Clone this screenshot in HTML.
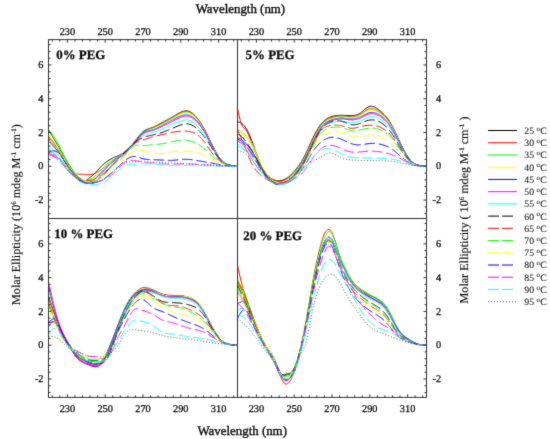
<!DOCTYPE html>
<html><head><meta charset="utf-8"><style>
html,body{margin:0;padding:0;background:#fff;}
svg{display:block;}

text{font-family:"Liberation Serif",serif;fill:#111;stroke:#111;stroke-width:0.3px;text-rendering:geometricPrecision;}
.t3{stroke-width:0.4px;}
.lg{stroke-width:0.05px;}
.yl{stroke-width:0.15px;}
</style></head><body>
<svg width="550" height="439" viewBox="0 0 550 439">
<rect width="550" height="439" fill="#fff"/>
<defs><filter id="bl" x="0" y="0" width="550" height="439" filterUnits="userSpaceOnUse"><feConvolveMatrix order="3" kernelMatrix="0.0144 0.0912 0.0144 0.0912 0.5776 0.0912 0.0144 0.0912 0.0144" edgeMode="none" preserveAlpha="false"/></filter><filter id="bt" x="0" y="0" width="550" height="439" filterUnits="userSpaceOnUse"><feConvolveMatrix order="3" kernelMatrix="0.0100 0.0800 0.0100 0.0800 0.6400 0.0800 0.0100 0.0800 0.0100" edgeMode="none" preserveAlpha="false"/></filter>
<clipPath id="cp1"><rect x="48.5" y="39.6" width="189.0" height="178.9"/></clipPath>
<clipPath id="cp2"><rect x="237.5" y="39.6" width="189.0" height="178.9"/></clipPath>
<clipPath id="cp3"><rect x="48.5" y="218.5" width="189.0" height="178.89999999999998"/></clipPath>
<clipPath id="cp4"><rect x="237.5" y="218.5" width="189.0" height="178.89999999999998"/></clipPath>
</defs><g filter="url(#bl)">
<g clip-path="url(#cp1)" fill="none" stroke-width="1">
<path d="M48.50,129.99 L49.45,131.53 L50.39,133.08 L51.34,134.63 L52.28,136.19 L53.23,137.76 L54.17,139.34 L55.12,140.94 L56.06,142.56 L57.00,144.19 L57.95,145.85 L58.89,147.53 L59.84,149.22 L60.78,150.92 L61.73,152.61 L62.67,154.30 L63.62,155.97 L64.56,157.62 L65.51,159.25 L66.45,160.85 L67.40,162.41 L68.34,163.91 L69.29,165.38 L70.23,166.82 L71.18,168.22 L72.12,169.59 L73.07,170.92 L74.02,172.23 L74.96,173.49 L75.91,174.72 L76.85,175.87 L77.80,176.95 L78.74,177.93 L79.69,178.79 L80.63,179.52 L81.57,180.10 L82.52,180.50 L83.47,180.72 L84.41,180.74 L85.35,180.58 L86.30,180.25 L87.25,179.77 L88.19,179.14 L89.13,178.37 L90.08,177.49 L91.03,176.73 L91.97,175.92 L92.91,175.05 L93.86,174.14 L94.81,173.19 L95.75,172.22 L96.69,171.23 L97.64,170.23 L98.59,169.23 L99.53,168.24 L100.47,167.27 L101.42,166.32 L102.36,165.41 L103.31,164.55 L104.25,163.73 L105.20,162.98 L106.14,162.21 L107.09,161.50 L108.03,160.84 L108.98,160.23 L109.92,159.66 L110.87,159.13 L111.81,158.63 L112.76,158.15 L113.70,157.70 L114.65,157.27 L115.59,156.85 L116.54,156.44 L117.48,156.03 L118.43,155.62 L119.38,155.19 L120.32,154.75 L121.27,154.23 L122.21,153.69 L123.16,153.09 L124.10,152.45 L125.05,151.75 L125.99,150.99 L126.94,150.17 L127.88,149.30 L128.82,148.37 L129.77,147.40 L130.71,146.37 L131.66,145.29 L132.60,144.16 L133.55,142.99 L134.50,141.78 L135.44,140.53 L136.38,139.28 L137.33,138.04 L138.27,136.81 L139.22,135.63 L140.16,134.51 L141.11,133.47 L142.06,132.52 L143.00,131.68 L143.94,130.96 L144.89,130.35 L145.83,129.84 L146.78,129.40 L147.72,129.03 L148.67,128.69 L149.62,128.39 L150.56,128.09 L151.50,127.78 L152.45,127.45 L153.39,127.08 L154.34,126.68 L155.28,126.24 L156.23,125.77 L157.18,125.29 L158.12,124.79 L159.06,124.27 L160.01,123.76 L160.95,123.24 L161.90,122.72 L162.84,122.22 L163.79,121.72 L164.74,121.23 L165.68,120.74 L166.62,120.24 L167.57,119.75 L168.51,119.24 L169.46,118.73 L170.40,118.20 L171.35,117.66 L172.29,117.10 L173.24,116.52 L174.19,115.94 L175.13,115.37 L176.07,114.79 L177.02,114.23 L177.97,113.69 L178.91,113.18 L179.85,112.70 L180.80,112.25 L181.75,111.85 L182.69,111.51 L183.63,111.23 L184.58,111.02 L185.53,110.90 L186.47,110.87 L187.41,110.95 L188.36,111.14 L189.31,111.46 L190.25,111.91 L191.19,112.44 L192.14,113.09 L193.08,113.83 L194.03,114.69 L194.97,115.63 L195.92,116.67 L196.86,117.80 L197.81,119.01 L198.75,120.29 L199.70,121.65 L200.64,123.07 L201.59,124.55 L202.53,126.09 L203.48,127.67 L204.42,129.30 L205.37,130.97 L206.31,132.86 L207.26,134.78 L208.20,136.72 L209.15,138.67 L210.09,140.63 L211.04,142.59 L211.98,144.54 L212.93,146.46 L213.88,148.34 L214.82,150.16 L215.76,151.92 L216.71,153.59 L217.66,155.17 L218.60,156.63 L219.54,157.96 L220.49,159.16 L221.44,160.21 L222.38,161.13 L223.32,162.00 L224.27,162.74 L225.22,163.36 L226.16,163.88 L227.10,164.31 L228.05,164.67 L229.00,164.97 L229.94,165.23 L230.88,165.45 L231.83,165.63 L232.77,165.79 L233.72,165.92 L234.66,166.03 L235.61,166.13 L236.55,166.22 L237.50,166.30" stroke="#000"/>
<path d="M48.50,135.90 L49.45,137.08 L50.39,138.27 L51.34,139.48 L52.28,140.71 L53.23,141.98 L54.17,143.29 L55.12,144.66 L56.06,146.08 L57.00,147.58 L57.95,149.15 L58.89,150.79 L59.84,152.47 L60.78,154.19 L61.73,155.92 L62.67,157.64 L63.62,159.35 L64.56,161.02 L65.51,162.63 L66.45,164.18 L67.40,165.65 L68.34,167.01 L69.29,168.27 L70.23,169.43 L71.18,170.48 L72.12,171.40 L73.07,172.19 L74.02,172.84 L74.96,173.35 L75.91,173.72 L76.85,173.97 L77.80,174.12 L78.74,174.21 L79.69,174.23 L80.63,174.23 L81.57,174.22 L82.52,174.22 L83.47,174.26 L84.41,174.33 L85.35,174.42 L86.30,174.52 L87.25,174.61 L88.19,174.66 L89.13,174.66 L90.08,174.60 L91.03,174.49 L91.97,174.32 L92.91,174.09 L93.86,173.78 L94.81,173.42 L95.75,173.00 L96.69,172.53 L97.64,172.01 L98.59,171.45 L99.53,170.85 L100.47,170.22 L101.42,169.57 L102.36,168.90 L103.31,168.22 L104.25,167.52 L105.20,166.82 L106.14,166.06 L107.09,165.29 L108.03,164.52 L108.98,163.76 L109.92,163.01 L110.87,162.28 L111.81,161.55 L112.76,160.85 L113.70,160.16 L114.65,159.51 L115.59,158.87 L116.54,158.25 L117.48,157.65 L118.43,157.05 L119.38,156.46 L120.32,155.86 L121.27,155.21 L122.21,154.53 L123.16,153.84 L124.10,153.13 L125.05,152.38 L125.99,151.59 L126.94,150.77 L127.88,149.91 L128.82,149.01 L129.77,148.07 L130.71,147.08 L131.66,146.05 L132.60,144.97 L133.55,143.84 L134.50,142.66 L135.44,141.44 L136.38,140.21 L137.33,138.98 L138.27,137.76 L139.22,136.58 L140.16,135.44 L141.11,134.38 L142.06,133.40 L143.00,132.52 L143.94,131.76 L144.89,131.09 L145.83,130.52 L146.78,130.03 L147.72,129.59 L148.67,129.20 L149.62,128.84 L150.56,128.49 L151.50,128.15 L152.45,127.79 L153.39,127.41 L154.34,127.00 L155.28,126.57 L156.23,126.12 L157.18,125.66 L158.12,125.18 L159.06,124.70 L160.01,124.21 L160.95,123.72 L161.90,123.23 L162.84,122.75 L163.79,122.26 L164.74,121.78 L165.68,121.29 L166.62,120.80 L167.57,120.30 L168.51,119.79 L169.46,119.26 L170.40,118.72 L171.35,118.16 L172.29,117.58 L173.24,116.99 L174.19,116.39 L175.13,115.79 L176.07,115.20 L177.02,114.62 L177.97,114.06 L178.91,113.53 L179.85,113.04 L180.80,112.59 L181.75,112.19 L182.69,111.85 L183.63,111.57 L184.58,111.37 L185.53,111.26 L186.47,111.23 L187.41,111.31 L188.36,111.50 L189.31,111.81 L190.25,112.25 L191.19,112.76 L192.14,113.38 L193.08,114.10 L194.03,114.91 L194.97,115.83 L195.92,116.83 L196.86,117.92 L197.81,119.09 L198.75,120.35 L199.70,121.67 L200.64,123.07 L201.59,124.54 L202.53,126.06 L203.48,127.64 L204.42,129.27 L205.37,130.93 L206.31,132.82 L207.26,134.75 L208.20,136.70 L209.15,138.66 L210.09,140.63 L211.04,142.59 L211.98,144.55 L212.93,146.47 L213.88,148.35 L214.82,150.17 L215.76,151.93 L216.71,153.60 L217.66,155.17 L218.60,156.63 L219.54,157.97 L220.49,159.16 L221.44,160.21 L222.38,161.13 L223.32,162.00 L224.27,162.74 L225.22,163.36 L226.16,163.88 L227.10,164.31 L228.05,164.67 L229.00,164.97 L229.94,165.23 L230.88,165.45 L231.83,165.63 L232.77,165.79 L233.72,165.92 L234.66,166.03 L235.61,166.13 L236.55,166.22 L237.50,166.30" stroke="#f00"/>
<path d="M48.50,129.14 L49.45,130.39 L50.39,131.66 L51.34,132.94 L52.28,134.26 L53.23,135.61 L54.17,137.02 L55.12,138.49 L56.06,140.03 L57.00,141.66 L57.95,143.37 L58.89,145.16 L59.84,147.02 L60.78,148.91 L61.73,150.83 L62.67,152.75 L63.62,154.66 L64.56,156.54 L65.51,158.37 L66.45,160.14 L67.40,161.84 L68.34,163.45 L69.29,164.99 L70.23,166.47 L71.18,167.88 L72.12,169.24 L73.07,170.53 L74.02,171.75 L74.96,172.92 L75.91,174.03 L76.85,175.07 L77.80,176.03 L78.74,176.91 L79.69,177.71 L80.63,178.42 L81.57,179.03 L82.52,179.55 L83.47,179.96 L84.41,180.25 L85.35,180.43 L86.30,180.49 L87.25,180.42 L88.19,180.22 L89.13,179.89 L90.08,179.40 L91.03,178.93 L91.97,178.37 L92.91,177.71 L93.86,176.97 L94.81,176.15 L95.75,175.27 L96.69,174.33 L97.64,173.36 L98.59,172.37 L99.53,171.36 L100.47,170.35 L101.42,169.35 L102.36,168.38 L103.31,167.44 L104.25,166.55 L105.20,165.71 L106.14,164.85 L107.09,164.04 L108.03,163.27 L108.98,162.55 L109.92,161.87 L110.87,161.22 L111.81,160.60 L112.76,160.01 L113.70,159.44 L114.65,158.89 L115.59,158.35 L116.54,157.82 L117.48,157.30 L118.43,156.77 L119.38,156.24 L120.32,155.71 L121.27,155.10 L122.21,154.47 L123.16,153.82 L124.10,153.13 L125.05,152.40 L125.99,151.63 L126.94,150.81 L127.88,149.96 L128.82,149.06 L129.77,148.11 L130.71,147.12 L131.66,146.07 L132.60,144.98 L133.55,143.84 L134.50,142.64 L135.44,141.42 L136.38,140.17 L137.33,138.93 L138.27,137.71 L139.22,136.52 L140.16,135.39 L141.11,134.34 L142.06,133.37 L143.00,132.52 L143.94,131.79 L144.89,131.17 L145.83,130.64 L146.78,130.19 L147.72,129.81 L148.67,129.48 L149.62,129.17 L150.56,128.89 L151.50,128.60 L152.45,128.30 L153.39,127.97 L154.34,127.61 L155.28,127.22 L156.23,126.82 L157.18,126.39 L158.12,125.95 L159.06,125.49 L160.01,125.03 L160.95,124.55 L161.90,124.08 L162.84,123.60 L163.79,123.12 L164.74,122.63 L165.68,122.14 L166.62,121.64 L167.57,121.14 L168.51,120.62 L169.46,120.10 L170.40,119.56 L171.35,119.01 L172.29,118.44 L173.24,117.87 L174.19,117.29 L175.13,116.71 L176.07,116.14 L177.02,115.58 L177.97,115.04 L178.91,114.53 L179.85,114.05 L180.80,113.60 L181.75,113.20 L182.69,112.85 L183.63,112.56 L184.58,112.34 L185.53,112.21 L186.47,112.16 L187.41,112.22 L188.36,112.39 L189.31,112.68 L190.25,113.10 L191.19,113.59 L192.14,114.20 L193.08,114.91 L194.03,115.73 L194.97,116.64 L195.92,117.64 L196.86,118.74 L197.81,119.91 L198.75,121.17 L199.70,122.51 L200.64,123.91 L201.59,125.39 L202.53,126.92 L203.48,128.51 L204.42,130.15 L205.37,131.82 L206.31,133.72 L207.26,135.64 L208.20,137.59 L209.15,139.54 L210.09,141.49 L211.04,143.43 L211.98,145.34 L212.93,147.23 L213.88,149.06 L214.82,150.83 L215.76,152.53 L216.71,154.14 L217.66,155.66 L218.60,157.06 L219.54,158.34 L220.49,159.48 L221.44,160.48 L222.38,161.35 L223.32,162.18 L224.27,162.87 L225.22,163.46 L226.16,163.95 L227.10,164.35 L228.05,164.69 L229.00,164.97 L229.94,165.22 L230.88,165.43 L231.83,165.61 L232.77,165.76 L233.72,165.90 L234.66,166.01 L235.61,166.12 L236.55,166.21 L237.50,166.30" stroke="#0f0"/>
<path d="M48.50,134.21 L49.45,135.39 L50.39,136.59 L51.34,137.79 L52.28,139.03 L53.23,140.30 L54.17,141.61 L55.12,142.98 L56.06,144.40 L57.00,145.89 L57.95,147.46 L58.89,149.09 L59.84,150.77 L60.78,152.48 L61.73,154.20 L62.67,155.93 L63.62,157.64 L64.56,159.31 L65.51,160.94 L66.45,162.51 L67.40,164.01 L68.34,165.42 L69.29,166.78 L70.23,168.07 L71.18,169.30 L72.12,170.48 L73.07,171.60 L74.02,172.66 L74.96,173.67 L75.91,174.62 L76.85,175.52 L77.80,176.35 L78.74,177.13 L79.69,177.83 L80.63,178.47 L81.57,179.05 L82.52,179.54 L83.47,179.97 L84.41,180.31 L85.35,180.56 L86.30,180.71 L87.25,180.74 L88.19,180.65 L89.13,180.43 L90.08,180.06 L91.03,179.67 L91.97,179.18 L92.91,178.59 L93.86,177.90 L94.81,177.13 L95.75,176.29 L96.69,175.39 L97.64,174.45 L98.59,173.47 L99.53,172.48 L100.47,171.49 L101.42,170.51 L102.36,169.54 L103.31,168.62 L104.25,167.74 L105.20,166.92 L106.14,166.08 L107.09,165.28 L108.03,164.53 L108.98,163.82 L109.92,163.14 L110.87,162.49 L111.81,161.86 L112.76,161.25 L113.70,160.64 L114.65,160.04 L115.59,159.45 L116.54,158.85 L117.48,158.25 L118.43,157.65 L119.38,157.05 L120.32,156.43 L121.27,155.75 L122.21,155.06 L123.16,154.35 L124.10,153.63 L125.05,152.89 L125.99,152.13 L126.94,151.34 L127.88,150.52 L128.82,149.67 L129.77,148.77 L130.71,147.83 L131.66,146.83 L132.60,145.79 L133.55,144.68 L134.50,143.52 L135.44,142.31 L136.38,141.07 L137.33,139.83 L138.27,138.61 L139.22,137.41 L140.16,136.27 L141.11,135.21 L142.06,134.23 L143.00,133.36 L143.94,132.62 L144.89,132.00 L145.83,131.47 L146.78,131.02 L147.72,130.64 L148.67,130.31 L149.62,130.01 L150.56,129.72 L151.50,129.44 L152.45,129.14 L153.39,128.82 L154.34,128.46 L155.28,128.08 L156.23,127.67 L157.18,127.25 L158.12,126.80 L159.06,126.35 L160.01,125.88 L160.95,125.40 L161.90,124.92 L162.84,124.43 L163.79,123.95 L164.74,123.45 L165.68,122.96 L166.62,122.45 L167.57,121.95 L168.51,121.43 L169.46,120.91 L170.40,120.39 L171.35,119.85 L172.29,119.31 L173.24,118.76 L174.19,118.22 L175.13,117.68 L176.07,117.15 L177.02,116.63 L177.97,116.13 L178.91,115.65 L179.85,115.20 L180.80,114.79 L181.75,114.40 L182.69,114.07 L183.63,113.79 L184.58,113.58 L185.53,113.44 L186.47,113.40 L187.41,113.44 L188.36,113.60 L189.31,113.88 L190.25,114.28 L191.19,114.76 L192.14,115.34 L193.08,116.03 L194.03,116.82 L194.97,117.71 L195.92,118.68 L196.86,119.74 L197.81,120.88 L198.75,122.11 L199.70,123.40 L200.64,124.76 L201.59,126.19 L202.53,127.68 L203.48,129.22 L204.42,130.80 L205.37,132.43 L206.31,134.27 L207.26,136.14 L208.20,138.03 L209.15,139.94 L210.09,141.85 L211.04,143.75 L211.98,145.64 L212.93,147.50 L213.88,149.31 L214.82,151.07 L215.76,152.75 L216.71,154.35 L217.66,155.86 L218.60,157.25 L219.54,158.51 L220.49,159.64 L221.44,160.63 L222.38,161.48 L223.32,162.29 L224.27,162.96 L225.22,163.53 L226.16,163.99 L227.10,164.38 L228.05,164.70 L229.00,164.97 L229.94,165.21 L230.88,165.41 L231.83,165.59 L232.77,165.74 L233.72,165.88 L234.66,166.00 L235.61,166.10 L236.55,166.20 L237.50,166.30" stroke="#ff0"/>
<path d="M48.50,140.97 L49.45,141.89 L50.39,142.82 L51.34,143.76 L52.28,144.73 L53.23,145.72 L54.17,146.75 L55.12,147.83 L56.06,148.96 L57.00,150.14 L57.95,151.39 L58.89,152.70 L59.84,154.06 L60.78,155.45 L61.73,156.88 L62.67,158.32 L63.62,159.77 L64.56,161.22 L65.51,162.66 L66.45,164.08 L67.40,165.48 L68.34,166.83 L69.29,168.16 L70.23,169.46 L71.18,170.72 L72.12,171.95 L73.07,173.15 L74.02,174.31 L74.96,175.43 L75.91,176.50 L76.85,177.52 L77.80,178.48 L78.74,179.37 L79.69,180.19 L80.63,180.91 L81.57,181.54 L82.52,182.07 L83.47,182.49 L84.41,182.80 L85.35,182.98 L86.30,183.04 L87.25,182.97 L88.19,182.76 L89.13,182.42 L90.08,181.94 L91.03,181.46 L91.97,180.90 L92.91,180.25 L93.86,179.51 L94.81,178.70 L95.75,177.83 L96.69,176.90 L97.64,175.94 L98.59,174.95 L99.53,173.94 L100.47,172.93 L101.42,171.93 L102.36,170.94 L103.31,169.98 L104.25,169.07 L105.20,168.19 L106.14,167.28 L107.09,166.41 L108.03,165.58 L108.98,164.79 L109.92,164.02 L110.87,163.29 L111.81,162.57 L112.76,161.87 L113.70,161.18 L114.65,160.51 L115.59,159.84 L116.54,159.18 L117.48,158.52 L118.43,157.86 L119.38,157.20 L120.32,156.55 L121.27,155.83 L122.21,155.10 L123.16,154.37 L124.10,153.63 L125.05,152.88 L125.99,152.12 L126.94,151.33 L127.88,150.51 L128.82,149.66 L129.77,148.77 L130.71,147.83 L131.66,146.84 L132.60,145.79 L133.55,144.68 L134.50,143.50 L135.44,142.28 L136.38,141.02 L137.33,139.77 L138.27,138.53 L139.22,137.33 L140.16,136.19 L141.11,135.14 L142.06,134.19 L143.00,133.36 L143.94,132.68 L144.89,132.13 L145.83,131.69 L146.78,131.34 L147.72,131.06 L148.67,130.82 L149.62,130.62 L150.56,130.43 L151.50,130.22 L152.45,129.99 L153.39,129.71 L154.34,129.38 L155.28,129.01 L156.23,128.61 L157.18,128.18 L158.12,127.73 L159.06,127.25 L160.01,126.76 L160.95,126.27 L161.90,125.76 L162.84,125.26 L163.79,124.76 L164.74,124.26 L165.68,123.75 L166.62,123.25 L167.57,122.74 L168.51,122.24 L169.46,121.73 L170.40,121.21 L171.35,120.70 L172.29,120.18 L173.24,119.66 L174.19,119.14 L175.13,118.63 L176.07,118.14 L177.02,117.66 L177.97,117.20 L178.91,116.76 L179.85,116.35 L180.80,115.97 L181.75,115.62 L182.69,115.33 L183.63,115.08 L184.58,114.90 L185.53,114.79 L186.47,114.76 L187.41,114.82 L188.36,114.98 L189.31,115.24 L190.25,115.63 L191.19,116.08 L192.14,116.64 L193.08,117.28 L194.03,118.03 L194.97,118.86 L195.92,119.78 L196.86,120.79 L197.81,121.88 L198.75,123.05 L199.70,124.29 L200.64,125.61 L201.59,127.00 L202.53,128.45 L203.48,129.96 L204.42,131.52 L205.37,133.12 L206.31,134.93 L207.26,136.77 L208.20,138.64 L209.15,140.51 L210.09,142.38 L211.04,144.24 L211.98,146.08 L212.93,147.88 L213.88,149.64 L214.82,151.33 L215.76,152.96 L216.71,154.51 L217.66,155.96 L218.60,157.30 L219.54,158.53 L220.49,159.63 L221.44,160.59 L222.38,161.44 L223.32,162.24 L224.27,162.91 L225.22,163.48 L226.16,163.96 L227.10,164.36 L228.05,164.69 L229.00,164.97 L229.94,165.22 L230.88,165.42 L231.83,165.60 L232.77,165.76 L233.72,165.89 L234.66,166.01 L235.61,166.11 L236.55,166.21 L237.50,166.30" stroke="#00f"/>
<path d="M48.50,153.63 L49.45,153.86 L50.39,154.09 L51.34,154.35 L52.28,154.64 L53.23,154.97 L54.17,155.36 L55.12,155.81 L56.06,156.34 L57.00,156.95 L57.95,157.66 L58.89,158.45 L59.84,159.31 L60.78,160.24 L61.73,161.21 L62.67,162.21 L63.62,163.23 L64.56,164.25 L65.51,165.27 L66.45,166.27 L67.40,167.25 L68.34,168.19 L69.29,169.12 L70.23,170.03 L71.18,170.93 L72.12,171.82 L73.07,172.69 L74.02,173.57 L74.96,174.43 L75.91,175.29 L76.85,176.13 L77.80,176.94 L78.74,177.73 L79.69,178.46 L80.63,179.15 L81.57,179.78 L82.52,180.35 L83.47,180.84 L84.41,181.24 L85.35,181.56 L86.30,181.77 L87.25,181.88 L88.19,181.88 L89.13,181.75 L90.08,181.50 L91.03,181.21 L91.97,180.83 L92.91,180.36 L93.86,179.81 L94.81,179.17 L95.75,178.47 L96.69,177.71 L97.64,176.90 L98.59,176.04 L99.53,175.14 L100.47,174.21 L101.42,173.27 L102.36,172.31 L103.31,171.34 L104.25,170.39 L105.20,169.44 L106.14,168.41 L107.09,167.40 L108.03,166.40 L108.98,165.41 L109.92,164.44 L110.87,163.49 L111.81,162.56 L112.76,161.65 L113.70,160.76 L114.65,159.89 L115.59,159.05 L116.54,158.23 L117.48,157.44 L118.43,156.67 L119.38,155.92 L120.32,155.20 L121.27,154.43 L122.21,153.69 L123.16,152.97 L124.10,152.28 L125.05,151.61 L125.99,150.96 L126.94,150.31 L127.88,149.65 L128.82,148.97 L129.77,148.26 L130.71,147.50 L131.66,146.69 L132.60,145.81 L133.55,144.85 L134.50,143.81 L135.44,142.69 L136.38,141.54 L137.33,140.36 L138.27,139.19 L139.22,138.05 L140.16,136.95 L141.11,135.93 L142.06,135.01 L143.00,134.21 L143.94,133.54 L144.89,133.01 L145.83,132.57 L146.78,132.22 L147.72,131.94 L148.67,131.70 L149.62,131.49 L150.56,131.29 L151.50,131.08 L152.45,130.83 L153.39,130.54 L154.34,130.20 L155.28,129.82 L156.23,129.41 L157.18,128.97 L158.12,128.51 L159.06,128.04 L160.01,127.56 L160.95,127.08 L161.90,126.61 L162.84,126.14 L163.79,125.69 L164.74,125.24 L165.68,124.80 L166.62,124.35 L167.57,123.91 L168.51,123.46 L169.46,123.00 L170.40,122.53 L171.35,122.05 L172.29,121.55 L173.24,121.05 L174.19,120.54 L175.13,120.03 L176.07,119.53 L177.02,119.04 L177.97,118.57 L178.91,118.12 L179.85,117.70 L180.80,117.32 L181.75,116.98 L182.69,116.68 L183.63,116.45 L184.58,116.27 L185.53,116.17 L186.47,116.14 L187.41,116.20 L188.36,116.36 L189.31,116.62 L190.25,116.98 L191.19,117.41 L192.14,117.93 L193.08,118.54 L194.03,119.24 L194.97,120.02 L195.92,120.89 L196.86,121.85 L197.81,122.88 L198.75,124.00 L199.70,125.19 L200.64,126.46 L201.59,127.81 L202.53,129.22 L203.48,130.69 L204.42,132.21 L205.37,133.77 L206.31,135.55 L207.26,137.37 L208.20,139.20 L209.15,141.05 L210.09,142.90 L211.04,144.74 L211.98,146.56 L212.93,148.34 L213.88,150.08 L214.82,151.76 L215.76,153.37 L216.71,154.90 L217.66,156.34 L218.60,157.67 L219.54,158.88 L220.49,159.96 L221.44,160.91 L222.38,161.74 L223.32,162.52 L224.27,163.17 L225.22,163.73 L226.16,164.18 L227.10,164.56 L228.05,164.88 L229.00,165.14 L229.94,165.36 L230.88,165.55 L231.83,165.72 L232.77,165.85 L233.72,165.97 L234.66,166.06 L235.61,166.15 L236.55,166.23 L237.50,166.30" stroke="#f0f"/>
<path d="M48.50,145.19 L49.45,145.98 L50.39,146.78 L51.34,147.61 L52.28,148.46 L53.23,149.35 L54.17,150.30 L55.12,151.30 L56.06,152.37 L57.00,153.52 L57.95,154.76 L58.89,156.08 L59.84,157.45 L60.78,158.87 L61.73,160.31 L62.67,161.77 L63.62,163.22 L64.56,164.66 L65.51,166.05 L66.45,167.40 L67.40,168.68 L68.34,169.90 L69.29,171.06 L70.23,172.17 L71.18,173.23 L72.12,174.24 L73.07,175.19 L74.02,176.10 L74.96,176.95 L75.91,177.76 L76.85,178.51 L77.80,179.22 L78.74,179.88 L79.69,180.50 L80.63,181.06 L81.57,181.59 L82.52,182.07 L83.47,182.51 L84.41,182.90 L85.35,183.24 L86.30,183.51 L87.25,183.70 L88.19,183.80 L89.13,183.81 L90.08,183.70 L91.03,183.54 L91.97,183.30 L92.91,182.99 L93.86,182.59 L94.81,182.11 L95.75,181.56 L96.69,180.95 L97.64,180.27 L98.59,179.53 L99.53,178.73 L100.47,177.89 L101.42,176.99 L102.36,176.05 L103.31,175.07 L104.25,174.06 L105.20,173.02 L106.14,171.86 L107.09,170.67 L108.03,169.48 L108.98,168.28 L109.92,167.09 L110.87,165.91 L111.81,164.75 L112.76,163.62 L113.70,162.53 L114.65,161.48 L115.59,160.48 L116.54,159.52 L117.48,158.61 L118.43,157.73 L119.38,156.88 L120.32,156.07 L121.27,155.21 L122.21,154.38 L123.16,153.57 L124.10,152.79 L125.05,152.02 L125.99,151.26 L126.94,150.51 L127.88,149.75 L128.82,148.99 L129.77,148.22 L130.71,147.42 L131.66,146.60 L132.60,145.74 L133.55,144.85 L134.50,143.92 L135.44,142.95 L136.38,141.97 L137.33,140.99 L138.27,140.02 L139.22,139.08 L140.16,138.19 L141.11,137.35 L142.06,136.58 L143.00,135.90 L143.94,135.31 L144.89,134.81 L145.83,134.39 L146.78,134.03 L147.72,133.73 L148.67,133.46 L149.62,133.21 L150.56,132.99 L151.50,132.76 L152.45,132.52 L153.39,132.26 L154.34,131.98 L155.28,131.68 L156.23,131.36 L157.18,131.02 L158.12,130.67 L159.06,130.30 L160.01,129.93 L160.95,129.54 L161.90,129.14 L162.84,128.74 L163.79,128.33 L164.74,127.91 L165.68,127.49 L166.62,127.07 L167.57,126.64 L168.51,126.21 L169.46,125.78 L170.40,125.35 L171.35,124.92 L172.29,124.49 L173.24,124.07 L174.19,123.65 L175.13,123.24 L176.07,122.83 L177.02,122.44 L177.97,122.06 L178.91,121.70 L179.85,121.36 L180.80,121.03 L181.75,120.73 L182.69,120.46 L183.63,120.24 L184.58,120.06 L185.53,119.95 L186.47,119.91 L187.41,119.96 L188.36,120.10 L189.31,120.34 L190.25,120.70 L191.19,121.12 L192.14,121.65 L193.08,122.26 L194.03,122.96 L194.97,123.74 L195.92,124.60 L196.86,125.53 L197.81,126.52 L198.75,127.58 L199.70,128.69 L200.64,129.85 L201.59,131.06 L202.53,132.32 L203.48,133.61 L204.42,134.93 L205.37,136.29 L206.31,137.83 L207.26,139.39 L208.20,140.98 L209.15,142.59 L210.09,144.21 L211.04,145.84 L211.98,147.47 L212.93,149.08 L213.88,150.66 L214.82,152.21 L215.76,153.71 L216.71,155.13 L217.66,156.49 L218.60,157.75 L219.54,158.90 L220.49,159.95 L221.44,160.87 L222.38,161.68 L223.32,162.45 L224.27,163.11 L225.22,163.67 L226.16,164.14 L227.10,164.53 L228.05,164.86 L229.00,165.14 L229.94,165.37 L230.88,165.57 L231.83,165.74 L232.77,165.87 L233.72,165.99 L234.66,166.08 L235.61,166.16 L236.55,166.23 L237.50,166.30" stroke="#0ff"/>
<path d="M48.50,149.41 L49.45,150.06 L50.39,150.72 L51.34,151.39 L52.28,152.08 L53.23,152.80 L54.17,153.55 L55.12,154.35 L56.06,155.19 L57.00,156.08 L57.95,157.04 L58.89,158.04 L59.84,159.10 L60.78,160.20 L61.73,161.33 L62.67,162.50 L63.62,163.68 L64.56,164.88 L65.51,166.08 L66.45,167.29 L67.40,168.49 L68.34,169.66 L69.29,170.81 L70.23,171.94 L71.18,173.03 L72.12,174.09 L73.07,175.11 L74.02,176.08 L74.96,176.99 L75.91,177.84 L76.85,178.63 L77.80,179.37 L78.74,180.04 L79.69,180.65 L80.63,181.20 L81.57,181.69 L82.52,182.12 L83.47,182.48 L84.41,182.77 L85.35,183.00 L86.30,183.15 L87.25,183.23 L88.19,183.22 L89.13,183.12 L90.08,182.94 L91.03,182.73 L91.97,182.47 L92.91,182.14 L93.86,181.75 L94.81,181.31 L95.75,180.80 L96.69,180.25 L97.64,179.64 L98.59,178.99 L99.53,178.28 L100.47,177.54 L101.42,176.74 L102.36,175.91 L103.31,175.04 L104.25,174.13 L105.20,173.19 L106.14,172.13 L107.09,171.05 L108.03,169.95 L108.98,168.84 L109.92,167.73 L110.87,166.62 L111.81,165.51 L112.76,164.43 L113.70,163.36 L114.65,162.33 L115.59,161.33 L116.54,160.36 L117.48,159.41 L118.43,158.48 L119.38,157.57 L120.32,156.67 L121.27,155.69 L122.21,154.72 L123.16,153.76 L124.10,152.79 L125.05,151.81 L125.99,150.83 L126.94,149.86 L127.88,148.89 L128.82,147.93 L129.77,146.99 L130.71,146.07 L131.66,145.18 L132.60,144.32 L133.55,143.50 L134.50,142.72 L135.44,141.98 L136.38,141.28 L137.33,140.63 L138.27,140.02 L139.22,139.45 L140.16,138.92 L141.11,138.43 L142.06,137.99 L143.00,137.59 L143.94,137.23 L144.89,136.90 L145.83,136.61 L146.78,136.34 L147.72,136.10 L148.67,135.88 L149.62,135.66 L150.56,135.46 L151.50,135.26 L152.45,135.05 L153.39,134.84 L154.34,134.63 L155.28,134.40 L156.23,134.17 L157.18,133.92 L158.12,133.67 L159.06,133.40 L160.01,133.12 L160.95,132.83 L161.90,132.52 L162.84,132.20 L163.79,131.86 L164.74,131.52 L165.68,131.16 L166.62,130.79 L167.57,130.40 L168.51,130.02 L169.46,129.62 L170.40,129.21 L171.35,128.80 L172.29,128.39 L173.24,127.97 L174.19,127.56 L175.13,127.15 L176.07,126.74 L177.02,126.35 L177.97,125.96 L178.91,125.60 L179.85,125.25 L180.80,124.92 L181.75,124.62 L182.69,124.35 L183.63,124.12 L184.58,123.94 L185.53,123.82 L186.47,123.77 L187.41,123.79 L188.36,123.90 L189.31,124.11 L190.25,124.41 L191.19,124.78 L192.14,125.24 L193.08,125.77 L194.03,126.38 L194.97,127.07 L195.92,127.82 L196.86,128.63 L197.81,129.50 L198.75,130.42 L199.70,131.39 L200.64,132.40 L201.59,133.46 L202.53,134.55 L203.48,135.67 L204.42,136.83 L205.37,138.02 L206.31,139.38 L207.26,140.77 L208.20,142.19 L209.15,143.65 L210.09,145.13 L211.04,146.64 L211.98,148.16 L212.93,149.69 L213.88,151.21 L214.82,152.70 L215.76,154.15 L216.71,155.55 L217.66,156.87 L218.60,158.11 L219.54,159.25 L220.49,160.28 L221.44,161.18 L222.38,161.97 L223.32,162.73 L224.27,163.37 L225.22,163.91 L226.16,164.36 L227.10,164.74 L228.05,165.05 L229.00,165.31 L229.94,165.52 L230.88,165.70 L231.83,165.85 L232.77,165.97 L233.72,166.06 L234.66,166.14 L235.61,166.20 L236.55,166.25 L237.50,166.30" stroke="#000" stroke-dasharray="10.5 3.8"/>
<path d="M48.50,139.28 L49.45,140.29 L50.39,141.31 L51.34,142.35 L52.28,143.41 L53.23,144.50 L54.17,145.62 L55.12,146.79 L56.06,148.01 L57.00,149.29 L57.95,150.63 L58.89,152.03 L59.84,153.48 L60.78,154.97 L61.73,156.48 L62.67,158.02 L63.62,159.56 L64.56,161.11 L65.51,162.64 L66.45,164.16 L67.40,165.65 L68.34,167.08 L69.29,168.47 L70.23,169.80 L71.18,171.06 L72.12,172.25 L73.07,173.36 L74.02,174.38 L74.96,175.30 L75.91,176.11 L76.85,176.84 L77.80,177.47 L78.74,178.03 L79.69,178.52 L80.63,178.95 L81.57,179.32 L82.52,179.64 L83.47,179.91 L84.41,180.15 L85.35,180.34 L86.30,180.48 L87.25,180.55 L88.19,180.56 L89.13,180.49 L90.08,180.34 L91.03,180.16 L91.97,179.92 L92.91,179.62 L93.86,179.26 L94.81,178.85 L95.75,178.39 L96.69,177.88 L97.64,177.32 L98.59,176.72 L99.53,176.09 L100.47,175.43 L101.42,174.74 L102.36,174.03 L103.31,173.30 L104.25,172.55 L105.20,171.79 L106.14,170.95 L107.09,170.11 L108.03,169.25 L108.98,168.39 L109.92,167.53 L110.87,166.67 L111.81,165.81 L112.76,164.96 L113.70,164.12 L114.65,163.29 L115.59,162.47 L116.54,161.66 L117.48,160.85 L118.43,160.03 L119.38,159.21 L120.32,158.38 L121.27,157.45 L122.21,156.49 L123.16,155.50 L124.10,154.48 L125.05,153.41 L125.99,152.32 L126.94,151.22 L127.88,150.12 L128.82,149.03 L129.77,147.97 L130.71,146.96 L131.66,146.01 L132.60,145.13 L133.55,144.34 L134.50,143.65 L135.44,143.05 L136.38,142.53 L137.33,142.08 L138.27,141.69 L139.22,141.33 L140.16,141.01 L141.11,140.71 L142.06,140.42 L143.00,140.12 L143.94,139.81 L144.89,139.49 L145.83,139.16 L146.78,138.82 L147.72,138.48 L148.67,138.15 L149.62,137.82 L150.56,137.50 L151.50,137.20 L152.45,136.91 L153.39,136.64 L154.34,136.40 L155.28,136.16 L156.23,135.94 L157.18,135.73 L158.12,135.53 L159.06,135.33 L160.01,135.13 L160.95,134.92 L161.90,134.72 L162.84,134.50 L163.79,134.28 L164.74,134.05 L165.68,133.83 L166.62,133.60 L167.57,133.37 L168.51,133.15 L169.46,132.93 L170.40,132.72 L171.35,132.52 L172.29,132.33 L173.24,132.15 L174.19,131.99 L175.13,131.83 L176.07,131.69 L177.02,131.56 L177.97,131.45 L178.91,131.34 L179.85,131.25 L180.80,131.17 L181.75,131.10 L182.69,131.05 L183.63,131.02 L184.58,131.02 L185.53,131.04 L186.47,131.09 L187.41,131.18 L188.36,131.30 L189.31,131.47 L190.25,131.68 L191.19,131.91 L192.14,132.18 L193.08,132.50 L194.03,132.88 L194.97,133.32 L195.92,133.82 L196.86,134.40 L197.81,135.04 L198.75,135.77 L199.70,136.58 L200.64,137.48 L201.59,138.48 L202.53,139.55 L203.48,140.70 L204.42,141.91 L205.37,143.16 L206.31,144.58 L207.26,146.02 L208.20,147.47 L209.15,148.90 L210.09,150.29 L211.04,151.63 L211.98,152.90 L212.93,154.12 L213.88,155.26 L214.82,156.35 L215.76,157.37 L216.71,158.32 L217.66,159.21 L218.60,160.04 L219.54,160.81 L220.49,161.51 L221.44,162.14 L222.38,162.72 L223.32,163.29 L224.27,163.79 L225.22,164.24 L226.16,164.62 L227.10,164.95 L228.05,165.24 L229.00,165.48 L229.94,165.67 L230.88,165.83 L231.83,165.96 L232.77,166.06 L233.72,166.13 L234.66,166.19 L235.61,166.24 L236.55,166.27 L237.50,166.30" stroke="#f00" stroke-dasharray="10.5 3.8"/>
<path d="M48.50,137.59 L49.45,138.61 L50.39,139.63 L51.34,140.67 L52.28,141.73 L53.23,142.82 L54.17,143.95 L55.12,145.11 L56.06,146.33 L57.00,147.60 L57.95,148.94 L58.89,150.33 L59.84,151.76 L60.78,153.24 L61.73,154.75 L62.67,156.29 L63.62,157.84 L64.56,159.39 L65.51,160.95 L66.45,162.50 L67.40,164.03 L68.34,165.52 L69.29,166.97 L70.23,168.38 L71.18,169.75 L72.12,171.05 L73.07,172.30 L74.02,173.47 L74.96,174.56 L75.91,175.57 L76.85,176.50 L77.80,177.35 L78.74,178.12 L79.69,178.81 L80.63,179.42 L81.57,179.96 L82.52,180.41 L83.47,180.79 L84.41,181.10 L85.35,181.33 L86.30,181.48 L87.25,181.54 L88.19,181.53 L89.13,181.42 L90.08,181.24 L91.03,181.03 L91.97,180.77 L92.91,180.46 L93.86,180.09 L94.81,179.67 L95.75,179.21 L96.69,178.70 L97.64,178.15 L98.59,177.56 L99.53,176.94 L100.47,176.28 L101.42,175.60 L102.36,174.88 L103.31,174.15 L104.25,173.39 L105.20,172.61 L106.14,171.76 L107.09,170.89 L108.03,170.01 L108.98,169.14 L109.92,168.27 L110.87,167.41 L111.81,166.56 L112.76,165.74 L113.70,164.94 L114.65,164.17 L115.59,163.43 L116.54,162.71 L117.48,162.00 L118.43,161.29 L119.38,160.58 L120.32,159.84 L121.27,159.00 L122.21,158.12 L123.16,157.18 L124.10,156.17 L125.05,155.08 L125.99,153.94 L126.94,152.78 L127.88,151.61 L128.82,150.46 L129.77,149.37 L130.71,148.35 L131.66,147.44 L132.60,146.66 L133.55,146.03 L134.50,145.58 L135.44,145.29 L136.38,145.13 L137.33,145.07 L138.27,145.11 L139.22,145.20 L140.16,145.33 L141.11,145.47 L142.06,145.60 L143.00,145.69 L143.94,145.73 L144.89,145.71 L145.83,145.65 L146.78,145.55 L147.72,145.42 L148.67,145.28 L149.62,145.12 L150.56,144.96 L151.50,144.81 L152.45,144.68 L153.39,144.57 L154.34,144.48 L155.28,144.40 L156.23,144.33 L157.18,144.27 L158.12,144.20 L159.06,144.13 L160.01,144.05 L160.95,143.96 L161.90,143.84 L162.84,143.69 L163.79,143.53 L164.74,143.34 L165.68,143.14 L166.62,142.93 L167.57,142.71 L168.51,142.48 L169.46,142.25 L170.40,142.03 L171.35,141.81 L172.29,141.60 L173.24,141.40 L174.19,141.22 L175.13,141.04 L176.07,140.88 L177.02,140.73 L177.97,140.60 L178.91,140.48 L179.85,140.38 L180.80,140.29 L181.75,140.22 L182.69,140.18 L183.63,140.15 L184.58,140.16 L185.53,140.20 L186.47,140.27 L187.41,140.38 L188.36,140.53 L189.31,140.72 L190.25,140.97 L191.19,141.23 L192.14,141.53 L193.08,141.87 L194.03,142.26 L194.97,142.68 L195.92,143.13 L196.86,143.63 L197.81,144.16 L198.75,144.73 L199.70,145.33 L200.64,145.96 L201.59,146.63 L202.53,147.32 L203.48,148.04 L204.42,148.78 L205.37,149.54 L206.31,150.41 L207.26,151.28 L208.20,152.17 L209.15,153.06 L210.09,153.95 L211.04,154.83 L211.98,155.70 L212.93,156.56 L213.88,157.39 L214.82,158.20 L215.76,158.99 L216.71,159.73 L217.66,160.44 L218.60,161.11 L219.54,161.73 L220.49,162.30 L221.44,162.81 L222.38,163.27 L223.32,163.73 L224.27,164.13 L225.22,164.48 L226.16,164.79 L227.10,165.05 L228.05,165.28 L229.00,165.47 L229.94,165.64 L230.88,165.78 L231.83,165.89 L232.77,165.99 L233.72,166.07 L234.66,166.14 L235.61,166.20 L236.55,166.25 L237.50,166.30" stroke="#0f0" stroke-dasharray="10.5 3.8"/>
<path d="M48.50,149.41 L49.45,150.04 L50.39,150.69 L51.34,151.35 L52.28,152.03 L53.23,152.74 L54.17,153.50 L55.12,154.30 L56.06,155.16 L57.00,156.08 L57.95,157.07 L58.89,158.12 L59.84,159.22 L60.78,160.35 L61.73,161.51 L62.67,162.68 L63.62,163.84 L64.56,164.98 L65.51,166.10 L66.45,167.18 L67.40,168.21 L68.34,169.19 L69.29,170.14 L70.23,171.05 L71.18,171.94 L72.12,172.79 L73.07,173.63 L74.02,174.44 L74.96,175.23 L75.91,176.00 L76.85,176.75 L77.80,177.46 L78.74,178.14 L79.69,178.78 L80.63,179.37 L81.57,179.91 L82.52,180.39 L83.47,180.81 L84.41,181.17 L85.35,181.46 L86.30,181.68 L87.25,181.83 L88.19,181.90 L89.13,181.91 L90.08,181.84 L91.03,181.73 L91.97,181.57 L92.91,181.37 L93.86,181.12 L94.81,180.83 L95.75,180.49 L96.69,180.12 L97.64,179.71 L98.59,179.27 L99.53,178.79 L100.47,178.29 L101.42,177.76 L102.36,177.20 L103.31,176.63 L104.25,176.03 L105.20,175.42 L106.14,174.73 L107.09,174.02 L108.03,173.29 L108.98,172.53 L109.92,171.75 L110.87,170.94 L111.81,170.11 L112.76,169.25 L113.70,168.37 L114.65,167.46 L115.59,166.53 L116.54,165.58 L117.48,164.62 L118.43,163.66 L119.38,162.70 L120.32,161.75 L121.27,160.73 L122.21,159.73 L123.16,158.77 L124.10,157.86 L125.05,156.99 L125.99,156.18 L126.94,155.42 L127.88,154.71 L128.82,154.06 L129.77,153.46 L130.71,152.91 L131.66,152.42 L132.60,151.99 L133.55,151.61 L134.50,151.28 L135.44,151.01 L136.38,150.79 L137.33,150.62 L138.27,150.50 L139.22,150.43 L140.16,150.41 L141.11,150.43 L142.06,150.49 L143.00,150.59 L143.94,150.73 L144.89,150.91 L145.83,151.11 L146.78,151.34 L147.72,151.58 L148.67,151.82 L149.62,152.08 L150.56,152.32 L151.50,152.56 L152.45,152.79 L153.39,152.99 L154.34,153.17 L155.28,153.33 L156.23,153.46 L157.18,153.56 L158.12,153.64 L159.06,153.69 L160.01,153.70 L160.95,153.68 L161.90,153.63 L162.84,153.55 L163.79,153.43 L164.74,153.29 L165.68,153.12 L166.62,152.94 L167.57,152.75 L168.51,152.55 L169.46,152.34 L170.40,152.14 L171.35,151.94 L172.29,151.76 L173.24,151.58 L174.19,151.42 L175.13,151.27 L176.07,151.14 L177.02,151.02 L177.97,150.93 L178.91,150.85 L179.85,150.79 L180.80,150.76 L181.75,150.75 L182.69,150.76 L183.63,150.80 L184.58,150.85 L185.53,150.92 L186.47,151.00 L187.41,151.09 L188.36,151.20 L189.31,151.31 L190.25,151.44 L191.19,151.55 L192.14,151.68 L193.08,151.81 L194.03,151.96 L194.97,152.12 L195.92,152.30 L196.86,152.50 L197.81,152.73 L198.75,152.99 L199.70,153.28 L200.64,153.59 L201.59,153.95 L202.53,154.34 L203.48,154.75 L204.42,155.19 L205.37,155.65 L206.31,156.18 L207.26,156.73 L208.20,157.28 L209.15,157.83 L210.09,158.38 L211.04,158.91 L211.98,159.44 L212.93,159.95 L213.88,160.44 L214.82,160.92 L215.76,161.38 L216.71,161.82 L217.66,162.24 L218.60,162.65 L219.54,163.04 L220.49,163.40 L221.44,163.75 L222.38,164.07 L223.32,164.40 L224.27,164.71 L225.22,164.99 L226.16,165.24 L227.10,165.46 L228.05,165.65 L229.00,165.81 L229.94,165.94 L230.88,166.04 L231.83,166.12 L232.77,166.18 L233.72,166.23 L234.66,166.26 L235.61,166.28 L236.55,166.29 L237.50,166.30" stroke="#ff0" stroke-dasharray="10.5 3.8"/>
<path d="M48.50,151.94 L49.45,151.64 L50.39,151.36 L51.34,151.12 L52.28,150.95 L53.23,150.87 L54.17,150.90 L55.12,151.06 L56.06,151.39 L57.00,151.89 L57.95,152.59 L58.89,153.46 L59.84,154.50 L60.78,155.67 L61.73,156.94 L62.67,158.31 L63.62,159.73 L64.56,161.19 L65.51,162.66 L66.45,164.11 L67.40,165.55 L68.34,166.94 L69.29,168.29 L70.23,169.60 L71.18,170.87 L72.12,172.09 L73.07,173.25 L74.02,174.34 L74.96,175.37 L75.91,176.32 L76.85,177.21 L77.80,178.03 L78.74,178.78 L79.69,179.48 L80.63,180.11 L81.57,180.69 L82.52,181.21 L83.47,181.67 L84.41,182.09 L85.35,182.45 L86.30,182.75 L87.25,182.99 L88.19,183.17 L89.13,183.28 L90.08,183.31 L91.03,183.29 L91.97,183.23 L92.91,183.12 L93.86,182.96 L94.81,182.76 L95.75,182.51 L96.69,182.22 L97.64,181.89 L98.59,181.53 L99.53,181.12 L100.47,180.68 L101.42,180.20 L102.36,179.69 L103.31,179.15 L104.25,178.58 L105.20,177.98 L106.14,177.29 L107.09,176.57 L108.03,175.83 L108.98,175.06 L109.92,174.26 L110.87,173.45 L111.81,172.61 L112.76,171.76 L113.70,170.89 L114.65,170.02 L115.59,169.13 L116.54,168.24 L117.48,167.35 L118.43,166.47 L119.38,165.59 L120.32,164.73 L121.27,163.81 L122.21,162.91 L123.16,162.05 L124.10,161.23 L125.05,160.46 L125.99,159.74 L126.94,159.07 L127.88,158.47 L128.82,157.94 L129.77,157.48 L130.71,157.10 L131.66,156.81 L132.60,156.61 L133.55,156.50 L134.50,156.50 L135.44,156.59 L136.38,156.75 L137.33,156.96 L138.27,157.23 L139.22,157.52 L140.16,157.83 L141.11,158.14 L142.06,158.43 L143.00,158.70 L143.94,158.93 L144.89,159.11 L145.83,159.26 L146.78,159.39 L147.72,159.48 L148.67,159.56 L149.62,159.61 L150.56,159.65 L151.50,159.69 L152.45,159.71 L153.39,159.74 L154.34,159.77 L155.28,159.79 L156.23,159.82 L157.18,159.85 L158.12,159.88 L159.06,159.92 L160.01,159.96 L160.95,160.00 L161.90,160.05 L162.84,160.10 L163.79,160.16 L164.74,160.22 L165.68,160.27 L166.62,160.32 L167.57,160.36 L168.51,160.39 L169.46,160.41 L170.40,160.41 L171.35,160.39 L172.29,160.35 L173.24,160.29 L174.19,160.21 L175.13,160.12 L176.07,160.03 L177.02,159.93 L177.97,159.83 L178.91,159.73 L179.85,159.63 L180.80,159.54 L181.75,159.47 L182.69,159.41 L183.63,159.36 L184.58,159.33 L185.53,159.32 L186.47,159.32 L187.41,159.35 L188.36,159.39 L189.31,159.46 L190.25,159.54 L191.19,159.64 L192.14,159.76 L193.08,159.89 L194.03,160.04 L194.97,160.19 L195.92,160.35 L196.86,160.52 L197.81,160.69 L198.75,160.87 L199.70,161.04 L200.64,161.21 L201.59,161.38 L202.53,161.54 L203.48,161.70 L204.42,161.85 L205.37,162.01 L206.31,162.17 L207.26,162.33 L208.20,162.50 L209.15,162.66 L210.09,162.82 L211.04,162.99 L211.98,163.15 L212.93,163.32 L213.88,163.49 L214.82,163.66 L215.76,163.83 L216.71,164.00 L217.66,164.17 L218.60,164.34 L219.54,164.51 L220.49,164.68 L221.44,164.84 L222.38,165.00 L223.32,165.17 L224.27,165.33 L225.22,165.49 L226.16,165.63 L227.10,165.76 L228.05,165.87 L229.00,165.97 L229.94,166.05 L230.88,166.12 L231.83,166.17 L232.77,166.21 L233.72,166.24 L234.66,166.26 L235.61,166.28 L236.55,166.29 L237.50,166.30" stroke="#00f" stroke-dasharray="10.5 3.8"/>
<path d="M48.50,154.48 L49.45,154.79 L50.39,155.11 L51.34,155.46 L52.28,155.84 L53.23,156.27 L54.17,156.75 L55.12,157.29 L56.06,157.92 L57.00,158.63 L57.95,159.44 L58.89,160.34 L59.84,161.31 L60.78,162.33 L61.73,163.40 L62.67,164.50 L63.62,165.60 L64.56,166.71 L65.51,167.79 L66.45,168.85 L67.40,169.87 L68.34,170.84 L69.29,171.79 L70.23,172.70 L71.18,173.59 L72.12,174.46 L73.07,175.30 L74.02,176.12 L74.96,176.93 L75.91,177.71 L76.85,178.46 L77.80,179.19 L78.74,179.87 L79.69,180.51 L80.63,181.09 L81.57,181.62 L82.52,182.09 L83.47,182.49 L84.41,182.82 L85.35,183.08 L86.30,183.27 L87.25,183.40 L88.19,183.47 L89.13,183.47 L90.08,183.42 L91.03,183.35 L91.97,183.24 L92.91,183.10 L93.86,182.94 L94.81,182.74 L95.75,182.52 L96.69,182.27 L97.64,182.00 L98.59,181.71 L99.53,181.39 L100.47,181.06 L101.42,180.70 L102.36,180.33 L103.31,179.94 L104.25,179.54 L105.20,179.12 L106.14,178.64 L107.09,178.13 L108.03,177.59 L108.98,177.01 L109.92,176.39 L110.87,175.73 L111.81,175.01 L112.76,174.25 L113.70,173.42 L114.65,172.54 L115.59,171.60 L116.54,170.62 L117.48,169.62 L118.43,168.60 L119.38,167.60 L120.32,166.61 L121.27,165.57 L122.21,164.60 L123.16,163.71 L124.10,162.92 L125.05,162.25 L125.99,161.70 L126.94,161.26 L127.88,160.91 L128.82,160.65 L129.77,160.47 L130.71,160.36 L131.66,160.32 L132.60,160.33 L133.55,160.39 L134.50,160.48 L135.44,160.61 L136.38,160.76 L137.33,160.93 L138.27,161.12 L139.22,161.32 L140.16,161.52 L141.11,161.71 L142.06,161.90 L143.00,162.08 L143.94,162.23 L144.89,162.37 L145.83,162.50 L146.78,162.61 L147.72,162.71 L148.67,162.80 L149.62,162.88 L150.56,162.95 L151.50,163.02 L152.45,163.09 L153.39,163.16 L154.34,163.23 L155.28,163.29 L156.23,163.36 L157.18,163.43 L158.12,163.50 L159.06,163.56 L160.01,163.63 L160.95,163.70 L161.90,163.77 L162.84,163.83 L163.79,163.90 L164.74,163.97 L165.68,164.03 L166.62,164.09 L167.57,164.14 L168.51,164.19 L169.46,164.22 L170.40,164.25 L171.35,164.27 L172.29,164.28 L173.24,164.28 L174.19,164.27 L175.13,164.26 L176.07,164.23 L177.02,164.21 L177.97,164.18 L178.91,164.16 L179.85,164.13 L180.80,164.10 L181.75,164.08 L182.69,164.07 L183.63,164.05 L184.58,164.05 L185.53,164.04 L186.47,164.04 L187.41,164.05 L188.36,164.06 L189.31,164.08 L190.25,164.10 L191.19,164.13 L192.14,164.16 L193.08,164.20 L194.03,164.24 L194.97,164.28 L195.92,164.33 L196.86,164.38 L197.81,164.43 L198.75,164.49 L199.70,164.55 L200.64,164.60 L201.59,164.66 L202.53,164.73 L203.48,164.79 L204.42,164.85 L205.37,164.91 L206.31,164.98 L207.26,165.05 L208.20,165.12 L209.15,165.19 L210.09,165.25 L211.04,165.31 L211.98,165.37 L212.93,165.43 L213.88,165.48 L214.82,165.53 L215.76,165.58 L216.71,165.63 L217.66,165.68 L218.60,165.72 L219.54,165.77 L220.49,165.81 L221.44,165.85 L222.38,165.89 L223.32,165.93 L224.27,165.97 L225.22,166.01 L226.16,166.04 L227.10,166.08 L228.05,166.11 L229.00,166.13 L229.94,166.16 L230.88,166.18 L231.83,166.20 L232.77,166.22 L233.72,166.24 L234.66,166.26 L235.61,166.27 L236.55,166.29 L237.50,166.30" stroke="#f0f" stroke-dasharray="10.5 3.8"/>
<path d="M48.50,147.72 L49.45,148.54 L50.39,149.36 L51.34,150.20 L52.28,151.07 L53.23,151.97 L54.17,152.91 L55.12,153.90 L56.06,154.95 L57.00,156.06 L57.95,157.25 L58.89,158.50 L59.84,159.79 L60.78,161.12 L61.73,162.47 L62.67,163.82 L63.62,165.17 L64.56,166.48 L65.51,167.76 L66.45,168.99 L67.40,170.16 L68.34,171.26 L69.29,172.32 L70.23,173.32 L71.18,174.29 L72.12,175.22 L73.07,176.11 L74.02,176.96 L74.96,177.78 L75.91,178.57 L76.85,179.32 L77.80,180.03 L78.74,180.70 L79.69,181.33 L80.63,181.91 L81.57,182.44 L82.52,182.92 L83.47,183.35 L84.41,183.72 L85.35,184.04 L86.30,184.30 L87.25,184.52 L88.19,184.68 L89.13,184.80 L90.08,184.87 L91.03,184.89 L91.97,184.89 L92.91,184.86 L93.86,184.80 L94.81,184.72 L95.75,184.61 L96.69,184.47 L97.64,184.29 L98.59,184.08 L99.53,183.84 L100.47,183.56 L101.42,183.24 L102.36,182.88 L103.31,182.49 L104.25,182.04 L105.20,181.56 L106.14,180.99 L107.09,180.38 L108.03,179.73 L108.98,179.03 L109.92,178.31 L110.87,177.55 L111.81,176.76 L112.76,175.95 L113.70,175.11 L114.65,174.25 L115.59,173.38 L116.54,172.50 L117.48,171.63 L118.43,170.77 L119.38,169.94 L120.32,169.14 L121.27,168.32 L122.21,167.56 L123.16,166.89 L124.10,166.30 L125.05,165.81 L125.99,165.42 L126.94,165.11 L127.88,164.87 L128.82,164.69 L129.77,164.55 L130.71,164.46 L131.66,164.38 L132.60,164.33 L133.55,164.27 L134.50,164.21 L135.44,164.15 L136.38,164.08 L137.33,164.01 L138.27,163.95 L139.22,163.89 L140.16,163.84 L141.11,163.80 L142.06,163.77 L143.00,163.77 L143.94,163.78 L144.89,163.81 L145.83,163.85 L146.78,163.90 L147.72,163.96 L148.67,164.03 L149.62,164.10 L150.56,164.16 L151.50,164.22 L152.45,164.27 L153.39,164.31 L154.34,164.35 L155.28,164.37 L156.23,164.40 L157.18,164.42 L158.12,164.44 L159.06,164.47 L160.01,164.51 L160.95,164.55 L161.90,164.61 L162.84,164.68 L163.79,164.76 L164.74,164.86 L165.68,164.95 L166.62,165.05 L167.57,165.15 L168.51,165.24 L169.46,165.32 L170.40,165.40 L171.35,165.46 L172.29,165.50 L173.24,165.53 L174.19,165.54 L175.13,165.54 L176.07,165.54 L177.02,165.53 L177.97,165.51 L178.91,165.49 L179.85,165.47 L180.80,165.46 L181.75,165.44 L182.69,165.43 L183.63,165.42 L184.58,165.42 L185.53,165.42 L186.47,165.42 L187.41,165.43 L188.36,165.44 L189.31,165.44 L190.25,165.46 L191.19,165.47 L192.14,165.48 L193.08,165.49 L194.03,165.51 L194.97,165.52 L195.92,165.54 L196.86,165.55 L197.81,165.57 L198.75,165.59 L199.70,165.61 L200.64,165.62 L201.59,165.64 L202.53,165.66 L203.48,165.67 L204.42,165.69 L205.37,165.71 L206.31,165.72 L207.26,165.74 L208.20,165.76 L209.15,165.77 L210.09,165.79 L211.04,165.80 L211.98,165.81 L212.93,165.82 L213.88,165.84 L214.82,165.85 L215.76,165.86 L216.71,165.88 L217.66,165.90 L218.60,165.92 L219.54,165.95 L220.49,165.97 L221.44,166.01 L222.38,166.04 L223.32,166.08 L224.27,166.13 L225.22,166.17 L226.16,166.21 L227.10,166.25 L228.05,166.28 L229.00,166.30 L229.94,166.32 L230.88,166.33 L231.83,166.34 L232.77,166.34 L233.72,166.34 L234.66,166.33 L235.61,166.32 L236.55,166.31 L237.50,166.30" stroke="#0ff" stroke-dasharray="10.5 3.8"/>
<path d="M48.50,151.10 L49.45,151.74 L50.39,152.38 L51.34,153.04 L52.28,153.73 L53.23,154.44 L54.17,155.20 L55.12,156.00 L56.06,156.85 L57.00,157.77 L57.95,158.75 L58.89,159.80 L59.84,160.89 L60.78,162.02 L61.73,163.17 L62.67,164.33 L63.62,165.50 L64.56,166.66 L65.51,167.79 L66.45,168.88 L67.40,169.94 L68.34,170.95 L69.29,171.92 L70.23,172.85 L71.18,173.74 L72.12,174.58 L73.07,175.39 L74.02,176.15 L74.96,176.87 L75.91,177.55 L76.85,178.18 L77.80,178.78 L78.74,179.34 L79.69,179.87 L80.63,180.36 L81.57,180.82 L82.52,181.25 L83.47,181.65 L84.41,182.03 L85.35,182.37 L86.30,182.66 L87.25,182.91 L88.19,183.10 L89.13,183.23 L90.08,183.29 L91.03,183.28 L91.97,183.23 L92.91,183.12 L93.86,182.96 L94.81,182.75 L95.75,182.50 L96.69,182.20 L97.64,181.86 L98.59,181.48 L99.53,181.07 L100.47,180.63 L101.42,180.16 L102.36,179.66 L103.31,179.14 L104.25,178.60 L105.20,178.04 L106.14,177.41 L107.09,176.76 L108.03,176.08 L108.98,175.39 L109.92,174.69 L110.87,173.96 L111.81,173.22 L112.76,172.47 L113.70,171.70 L114.65,170.92 L115.59,170.13 L116.54,169.34 L117.48,168.56 L118.43,167.80 L119.38,167.05 L120.32,166.34 L121.27,165.61 L122.21,164.92 L123.16,164.31 L124.10,163.77 L125.05,163.31 L125.99,162.93 L126.94,162.61 L127.88,162.36 L128.82,162.17 L129.77,162.02 L130.71,161.91 L131.66,161.83 L132.60,161.78 L133.55,161.74 L134.50,161.71 L135.44,161.69 L136.38,161.68 L137.33,161.67 L138.27,161.67 L139.22,161.68 L140.16,161.69 L141.11,161.70 L142.06,161.72 L143.00,161.74 L143.94,161.76 L144.89,161.79 L145.83,161.81 L146.78,161.84 L147.72,161.88 L148.67,161.91 L149.62,161.95 L150.56,161.99 L151.50,162.03 L152.45,162.08 L153.39,162.13 L154.34,162.18 L155.28,162.23 L156.23,162.28 L157.18,162.34 L158.12,162.39 L159.06,162.44 L160.01,162.49 L160.95,162.54 L161.90,162.58 L162.84,162.62 L163.79,162.66 L164.74,162.70 L165.68,162.73 L166.62,162.76 L167.57,162.79 L168.51,162.82 L169.46,162.85 L170.40,162.89 L171.35,162.92 L172.29,162.96 L173.24,163.00 L174.19,163.05 L175.13,163.09 L176.07,163.14 L177.02,163.19 L177.97,163.25 L178.91,163.31 L179.85,163.37 L180.80,163.43 L181.75,163.49 L182.69,163.56 L183.63,163.63 L184.58,163.70 L185.53,163.77 L186.47,163.84 L187.41,163.91 L188.36,163.98 L189.31,164.04 L190.25,164.10 L191.19,164.16 L192.14,164.21 L193.08,164.26 L194.03,164.31 L194.97,164.35 L195.92,164.40 L196.86,164.44 L197.81,164.48 L198.75,164.53 L199.70,164.57 L200.64,164.61 L201.59,164.65 L202.53,164.69 L203.48,164.73 L204.42,164.77 L205.37,164.81 L206.31,164.86 L207.26,164.91 L208.20,164.96 L209.15,165.02 L210.09,165.08 L211.04,165.14 L211.98,165.21 L212.93,165.28 L213.88,165.35 L214.82,165.42 L215.76,165.50 L216.71,165.57 L217.66,165.63 L218.60,165.70 L219.54,165.76 L220.49,165.81 L221.44,165.86 L222.38,165.91 L223.32,165.95 L224.27,165.99 L225.22,166.03 L226.16,166.06 L227.10,166.08 L228.05,166.11 L229.00,166.13 L229.94,166.15 L230.88,166.18 L231.83,166.20 L232.77,166.21 L233.72,166.23 L234.66,166.25 L235.61,166.27 L236.55,166.28 L237.50,166.30" stroke="#555" stroke-dasharray="1 2"/>
</g>
<g clip-path="url(#cp2)" fill="none" stroke-width="1">
<path d="M237.50,121.54 L238.44,121.91 L239.39,122.32 L240.34,122.78 L241.28,123.33 L242.22,123.99 L243.17,124.79 L244.12,125.75 L245.06,126.89 L246.00,128.23 L246.95,129.79 L247.90,131.58 L248.84,133.57 L249.78,135.74 L250.73,138.07 L251.68,140.53 L252.62,143.08 L253.56,145.69 L254.51,148.32 L255.45,150.92 L256.40,153.47 L257.35,155.95 L258.29,158.35 L259.24,160.65 L260.18,162.85 L261.12,164.96 L262.07,166.94 L263.01,168.79 L263.96,170.50 L264.90,172.06 L265.85,173.46 L266.80,174.72 L267.74,175.83 L268.69,176.81 L269.63,177.67 L270.57,178.41 L271.52,179.05 L272.46,179.59 L273.41,180.04 L274.36,180.40 L275.30,180.69 L276.25,180.90 L277.19,181.01 L278.13,181.04 L279.08,180.97 L280.02,180.85 L280.97,180.67 L281.92,180.42 L282.86,180.11 L283.81,179.73 L284.75,179.28 L285.69,178.78 L286.64,178.21 L287.58,177.59 L288.53,176.92 L289.48,176.20 L290.42,175.44 L291.37,174.48 L292.31,173.48 L293.25,172.44 L294.20,171.37 L295.14,170.27 L296.09,169.14 L297.03,167.97 L297.98,166.75 L298.93,165.47 L299.87,164.12 L300.81,162.70 L301.76,161.18 L302.70,159.57 L303.65,157.86 L304.60,156.03 L305.54,154.11 L306.49,152.11 L307.43,150.05 L308.38,147.96 L309.32,145.84 L310.26,143.73 L311.21,141.64 L312.15,139.58 L313.10,137.59 L314.05,135.66 L314.99,133.82 L315.94,132.07 L316.88,130.39 L317.82,128.81 L318.77,127.33 L319.71,125.94 L320.66,124.65 L321.61,123.46 L322.55,122.39 L323.50,121.42 L324.44,120.55 L325.38,119.78 L326.33,119.10 L327.27,118.50 L328.22,117.97 L329.16,117.52 L330.11,117.12 L331.06,116.77 L332.00,116.47 L332.94,116.22 L333.89,115.99 L334.83,115.81 L335.78,115.65 L336.73,115.53 L337.67,115.43 L338.62,115.36 L339.56,115.32 L340.50,115.29 L341.45,115.29 L342.39,115.31 L343.34,115.34 L344.28,115.38 L345.23,115.43 L346.18,115.48 L347.12,115.53 L348.06,115.57 L349.01,115.60 L349.95,115.63 L350.90,115.63 L351.85,115.61 L352.79,115.57 L353.74,115.48 L354.68,115.35 L355.62,115.16 L356.57,114.91 L357.51,114.59 L358.46,114.18 L359.40,113.69 L360.35,113.10 L361.29,112.40 L362.24,111.64 L363.19,110.82 L364.13,109.99 L365.07,109.17 L366.02,108.40 L366.97,107.70 L367.91,107.10 L368.86,106.64 L369.80,106.34 L370.75,106.23 L371.69,106.26 L372.63,106.42 L373.58,106.69 L374.52,107.07 L375.47,107.54 L376.41,108.10 L377.36,108.74 L378.31,109.44 L379.25,110.19 L380.19,111.00 L381.14,111.84 L382.08,112.71 L383.03,113.61 L383.98,114.56 L384.92,115.55 L385.87,116.60 L386.81,117.69 L387.75,118.84 L388.70,120.05 L389.64,121.53 L390.59,123.09 L391.53,124.75 L392.48,126.51 L393.42,128.35 L394.37,130.26 L395.31,132.21 L396.26,134.21 L397.20,136.24 L398.15,138.27 L399.10,140.30 L400.04,142.31 L400.99,144.28 L401.93,146.22 L402.88,148.09 L403.82,149.91 L404.76,151.65 L405.71,153.30 L406.65,154.86 L407.60,156.31 L408.54,157.82 L409.49,159.17 L410.44,160.35 L411.38,161.36 L412.32,162.22 L413.27,162.94 L414.22,163.55 L415.16,164.05 L416.11,164.46 L417.05,164.80 L418.00,165.08 L418.94,165.32 L419.88,165.52 L420.83,165.69 L421.77,165.83 L422.72,165.95 L423.66,166.05 L424.61,166.14 L425.55,166.22 L426.50,166.30" stroke="#000"/>
<path d="M237.50,108.20 L238.44,112.70 L239.39,116.95 L240.34,120.68 L241.28,123.64 L242.22,125.71 L243.17,127.12 L244.12,128.12 L245.06,129.00 L246.00,130.03 L246.95,131.47 L247.90,133.42 L248.84,135.71 L249.78,138.18 L250.73,140.66 L251.68,143.09 L252.62,145.46 L253.56,147.79 L254.51,150.08 L255.45,152.34 L256.40,154.57 L257.35,156.77 L258.29,158.93 L259.24,161.02 L260.18,163.05 L261.12,165.00 L262.07,166.86 L263.01,168.60 L263.96,170.22 L264.90,171.71 L265.85,173.04 L266.80,174.25 L267.74,175.32 L268.69,176.28 L269.63,177.13 L270.57,177.89 L271.52,178.56 L272.46,179.15 L273.41,179.67 L274.36,180.14 L275.30,180.54 L276.25,180.88 L277.19,181.14 L278.13,181.31 L279.08,181.38 L280.02,181.37 L280.97,181.29 L281.92,181.13 L282.86,180.90 L283.81,180.59 L284.75,180.19 L285.69,179.71 L286.64,179.17 L287.58,178.55 L288.53,177.88 L289.48,177.15 L290.42,176.38 L291.37,175.40 L292.31,174.37 L293.25,173.30 L294.20,172.21 L295.14,171.10 L296.09,169.96 L297.03,168.78 L297.98,167.56 L298.93,166.29 L299.87,164.94 L300.81,163.52 L301.76,162.01 L302.70,160.41 L303.65,158.70 L304.60,156.88 L305.54,154.96 L306.49,152.96 L307.43,150.90 L308.38,148.81 L309.32,146.70 L310.26,144.58 L311.21,142.49 L312.15,140.43 L313.10,138.43 L314.05,136.51 L314.99,134.67 L315.94,132.91 L316.88,131.24 L317.82,129.66 L318.77,128.17 L319.71,126.78 L320.66,125.49 L321.61,124.31 L322.55,123.23 L323.50,122.26 L324.44,121.39 L325.38,120.62 L326.33,119.94 L327.27,119.34 L328.22,118.82 L329.16,118.36 L330.11,117.96 L331.06,117.62 L332.00,117.32 L332.94,117.06 L333.89,116.84 L334.83,116.65 L335.78,116.50 L336.73,116.37 L337.67,116.27 L338.62,116.21 L339.56,116.16 L340.50,116.14 L341.45,116.14 L342.39,116.15 L343.34,116.18 L344.28,116.22 L345.23,116.27 L346.18,116.32 L347.12,116.37 L348.06,116.41 L349.01,116.45 L349.95,116.47 L350.90,116.47 L351.85,116.46 L352.79,116.41 L353.74,116.33 L354.68,116.21 L355.62,116.05 L356.57,115.83 L357.51,115.55 L358.46,115.20 L359.40,114.78 L360.35,114.28 L361.29,113.70 L362.24,113.05 L363.19,112.37 L364.13,111.68 L365.07,110.99 L366.02,110.34 L366.97,109.74 L367.91,109.23 L368.86,108.82 L369.80,108.54 L370.75,108.41 L371.69,108.40 L372.63,108.49 L373.58,108.68 L374.52,108.96 L375.47,109.32 L376.41,109.77 L377.36,110.29 L378.31,110.87 L379.25,111.52 L380.19,112.22 L381.14,112.98 L382.08,113.78 L383.03,114.63 L383.98,115.53 L384.92,116.49 L385.87,117.51 L386.81,118.58 L387.75,119.72 L388.70,120.92 L389.64,122.39 L390.59,123.94 L391.53,125.59 L392.48,127.33 L393.42,129.15 L394.37,131.03 L395.31,132.96 L396.26,134.93 L397.20,136.91 L398.15,138.90 L399.10,140.88 L400.04,142.85 L400.99,144.77 L401.93,146.65 L402.88,148.47 L403.82,150.22 L404.76,151.90 L405.71,153.50 L406.65,155.00 L407.60,156.41 L408.54,157.87 L409.49,159.18 L410.44,160.33 L411.38,161.32 L412.32,162.18 L413.27,162.90 L414.22,163.51 L415.16,164.02 L416.11,164.44 L417.05,164.79 L418.00,165.08 L418.94,165.32 L419.88,165.53 L420.83,165.70 L421.77,165.85 L422.72,165.97 L423.66,166.07 L424.61,166.15 L425.55,166.23 L426.50,166.30" stroke="#f00"/>
<path d="M237.50,129.14 L238.44,129.78 L239.39,130.42 L240.34,131.09 L241.28,131.79 L242.22,132.53 L243.17,133.32 L244.12,134.17 L245.06,135.10 L246.00,136.10 L246.95,137.19 L247.90,138.38 L248.84,139.69 L249.78,141.13 L250.73,142.71 L251.68,144.44 L252.62,146.28 L253.56,148.23 L254.51,150.26 L255.45,152.36 L256.40,154.51 L257.35,156.69 L258.29,158.87 L259.24,161.04 L260.18,163.17 L261.12,165.26 L262.07,167.27 L263.01,169.17 L263.96,170.95 L264.90,172.59 L265.85,174.06 L266.80,175.38 L267.74,176.57 L268.69,177.63 L269.63,178.56 L270.57,179.39 L271.52,180.13 L272.46,180.78 L273.41,181.35 L274.36,181.86 L275.30,182.30 L276.25,182.66 L277.19,182.94 L278.13,183.12 L279.08,183.19 L280.02,183.17 L280.97,183.07 L281.92,182.89 L282.86,182.63 L283.81,182.27 L284.75,181.81 L285.69,181.28 L286.64,180.66 L287.58,179.98 L288.53,179.23 L289.48,178.42 L290.42,177.57 L291.37,176.49 L292.31,175.37 L293.25,174.22 L294.20,173.06 L295.14,171.88 L296.09,170.69 L297.03,169.47 L297.98,168.23 L298.93,166.94 L299.87,165.60 L300.81,164.20 L301.76,162.73 L302.70,161.18 L303.65,159.54 L304.60,157.81 L305.54,156.00 L306.49,154.11 L307.43,152.17 L308.38,150.19 L309.32,148.18 L310.26,146.15 L311.21,144.12 L312.15,142.11 L313.10,140.12 L314.05,138.17 L314.99,136.28 L315.94,134.44 L316.88,132.67 L317.82,130.99 L318.77,129.39 L319.71,127.89 L320.66,126.50 L321.61,125.22 L322.55,124.08 L323.50,123.06 L324.44,122.17 L325.38,121.40 L326.33,120.73 L327.27,120.15 L328.22,119.64 L329.16,119.20 L330.11,118.82 L331.06,118.48 L332.00,118.16 L332.94,117.87 L333.89,117.60 L334.83,117.36 L335.78,117.14 L336.73,116.94 L337.67,116.78 L338.62,116.65 L339.56,116.55 L340.50,116.49 L341.45,116.47 L342.39,116.49 L343.34,116.55 L344.28,116.63 L345.23,116.73 L346.18,116.84 L347.12,116.96 L348.06,117.07 L349.01,117.18 L349.95,117.26 L350.90,117.32 L351.85,117.35 L352.79,117.33 L353.74,117.28 L354.68,117.18 L355.62,117.02 L356.57,116.81 L357.51,116.54 L358.46,116.19 L359.40,115.78 L360.35,115.29 L361.29,114.73 L362.24,114.10 L363.19,113.44 L364.13,112.77 L365.07,112.10 L366.02,111.47 L366.97,110.89 L367.91,110.39 L368.86,109.99 L369.80,109.72 L370.75,109.59 L371.69,109.57 L372.63,109.65 L373.58,109.82 L374.52,110.09 L375.47,110.43 L376.41,110.86 L377.36,111.36 L378.31,111.93 L379.25,112.56 L380.19,113.24 L381.14,113.98 L382.08,114.77 L383.03,115.62 L383.98,116.51 L384.92,117.46 L385.87,118.47 L386.81,119.54 L387.75,120.66 L388.70,121.85 L389.64,123.28 L390.59,124.81 L391.53,126.42 L392.48,128.11 L393.42,129.88 L394.37,131.70 L395.31,133.57 L396.26,135.47 L397.20,137.40 L398.15,139.34 L399.10,141.28 L400.04,143.20 L400.99,145.10 L401.93,146.96 L402.88,148.77 L403.82,150.53 L404.76,152.22 L405.71,153.82 L406.65,155.34 L407.60,156.75 L408.54,158.22 L409.49,159.52 L410.44,160.66 L411.38,161.62 L412.32,162.44 L413.27,163.12 L414.22,163.68 L415.16,164.14 L416.11,164.52 L417.05,164.83 L418.00,165.08 L418.94,165.30 L419.88,165.49 L420.83,165.66 L421.77,165.80 L422.72,165.92 L423.66,166.03 L424.61,166.13 L425.55,166.21 L426.50,166.30" stroke="#0f0"/>
<path d="M237.50,132.52 L238.44,132.65 L239.39,132.82 L240.34,133.07 L241.28,133.43 L242.22,133.94 L243.17,134.57 L244.12,135.31 L245.06,136.14 L246.00,137.03 L246.95,137.97 L247.90,138.95 L248.84,140.02 L249.78,141.23 L250.73,142.60 L251.68,144.15 L252.62,145.85 L253.56,147.66 L254.51,149.57 L255.45,151.54 L256.40,153.55 L257.35,155.58 L258.29,157.62 L259.24,159.65 L260.18,161.65 L261.12,163.64 L262.07,165.57 L263.01,167.44 L263.96,169.22 L264.90,170.92 L265.85,172.50 L266.80,173.98 L267.74,175.36 L268.69,176.62 L269.63,177.78 L270.57,178.83 L271.52,179.77 L272.46,180.60 L273.41,181.32 L274.36,181.92 L275.30,182.42 L276.25,182.80 L277.19,183.07 L278.13,183.22 L279.08,183.26 L280.02,183.21 L280.97,183.09 L281.92,182.89 L282.86,182.62 L283.81,182.27 L284.75,181.85 L285.69,181.36 L286.64,180.81 L287.58,180.20 L288.53,179.53 L289.48,178.81 L290.42,178.05 L291.37,177.08 L292.31,176.06 L293.25,175.00 L294.20,173.90 L295.14,172.78 L296.09,171.62 L297.03,170.42 L297.98,169.18 L298.93,167.88 L299.87,166.53 L300.81,165.11 L301.76,163.62 L302.70,162.04 L303.65,160.39 L304.60,158.64 L305.54,156.82 L306.49,154.93 L307.43,152.99 L308.38,151.01 L309.32,149.00 L310.26,146.98 L311.21,144.96 L312.15,142.95 L313.10,140.97 L314.05,139.02 L314.99,137.13 L315.94,135.29 L316.88,133.53 L317.82,131.84 L318.77,130.24 L319.71,128.74 L320.66,127.34 L321.61,126.07 L322.55,124.92 L323.50,123.90 L324.44,123.01 L325.38,122.24 L326.33,121.56 L327.27,120.98 L328.22,120.48 L329.16,120.04 L330.11,119.66 L331.06,119.32 L332.00,119.01 L332.94,118.72 L333.89,118.46 L334.83,118.22 L335.78,118.00 L336.73,117.81 L337.67,117.65 L338.62,117.52 L339.56,117.42 L340.50,117.35 L341.45,117.32 L342.39,117.32 L343.34,117.35 L344.28,117.40 L345.23,117.47 L346.18,117.55 L347.12,117.63 L348.06,117.70 L349.01,117.77 L349.95,117.81 L350.90,117.83 L351.85,117.81 L352.79,117.76 L353.74,117.67 L354.68,117.54 L355.62,117.36 L356.57,117.13 L357.51,116.84 L358.46,116.50 L359.40,116.10 L360.35,115.63 L361.29,115.10 L362.24,114.52 L363.19,113.91 L364.13,113.30 L365.07,112.69 L366.02,112.12 L366.97,111.60 L367.91,111.16 L368.86,110.80 L369.80,110.56 L370.75,110.46 L371.69,110.45 L372.63,110.53 L373.58,110.70 L374.52,110.95 L375.47,111.28 L376.41,111.68 L377.36,112.15 L378.31,112.69 L379.25,113.29 L380.19,113.94 L381.14,114.64 L382.08,115.39 L383.03,116.20 L383.98,117.06 L384.92,117.97 L385.87,118.95 L386.81,119.98 L387.75,121.07 L388.70,122.23 L389.64,123.65 L390.59,125.15 L391.53,126.75 L392.48,128.44 L393.42,130.21 L394.37,132.03 L395.31,133.91 L396.26,135.82 L397.20,137.75 L398.15,139.70 L399.10,141.63 L400.04,143.55 L400.99,145.43 L401.93,147.27 L402.88,149.05 L403.82,150.77 L404.76,152.42 L405.71,153.98 L406.65,155.46 L407.60,156.83 L408.54,158.26 L409.49,159.53 L410.44,160.64 L411.38,161.59 L412.32,162.40 L413.27,163.08 L414.22,163.64 L415.16,164.11 L416.11,164.50 L417.05,164.82 L418.00,165.08 L418.94,165.31 L419.88,165.50 L420.83,165.67 L421.77,165.81 L422.72,165.93 L423.66,166.04 L424.61,166.13 L425.55,166.22 L426.50,166.30" stroke="#ff0"/>
<path d="M237.50,137.59 L238.44,137.95 L239.39,138.34 L240.34,138.81 L241.28,139.38 L242.22,140.07 L243.17,140.88 L244.12,141.77 L245.06,142.73 L246.00,143.73 L246.95,144.75 L247.90,145.80 L248.84,146.88 L249.78,148.03 L250.73,149.27 L251.68,150.60 L252.62,152.01 L253.56,153.50 L254.51,155.06 L255.45,156.68 L256.40,158.36 L257.35,160.08 L258.29,161.82 L259.24,163.57 L260.18,165.32 L261.12,167.05 L262.07,168.74 L263.01,170.37 L263.96,171.93 L264.90,173.40 L265.85,174.76 L266.80,176.02 L267.74,177.18 L268.69,178.24 L269.63,179.21 L270.57,180.09 L271.52,180.87 L272.46,181.57 L273.41,182.19 L274.36,182.72 L275.30,183.16 L276.25,183.52 L277.19,183.78 L278.13,183.94 L279.08,184.00 L280.02,183.97 L280.97,183.87 L281.92,183.70 L282.86,183.45 L283.81,183.12 L284.75,182.71 L285.69,182.23 L286.64,181.69 L287.58,181.08 L288.53,180.41 L289.48,179.69 L290.42,178.92 L291.37,177.94 L292.31,176.92 L293.25,175.85 L294.20,174.75 L295.14,173.62 L296.09,172.45 L297.03,171.26 L297.98,170.01 L298.93,168.72 L299.87,167.37 L300.81,165.95 L301.76,164.46 L302.70,162.89 L303.65,161.23 L304.60,159.49 L305.54,157.67 L306.49,155.78 L307.43,153.83 L308.38,151.85 L309.32,149.84 L310.26,147.82 L311.21,145.80 L312.15,143.79 L313.10,141.81 L314.05,139.87 L314.99,137.97 L315.94,136.14 L316.88,134.37 L317.82,132.68 L318.77,131.08 L319.71,129.58 L320.66,128.19 L321.61,126.91 L322.55,125.76 L323.50,124.75 L324.44,123.86 L325.38,123.09 L326.33,122.42 L327.27,121.84 L328.22,121.33 L329.16,120.89 L330.11,120.51 L331.06,120.17 L332.00,119.85 L332.94,119.56 L333.89,119.29 L334.83,119.04 L335.78,118.82 L336.73,118.62 L337.67,118.46 L338.62,118.33 L339.56,118.23 L340.50,118.18 L341.45,118.16 L342.39,118.19 L343.34,118.25 L344.28,118.34 L345.23,118.45 L346.18,118.57 L347.12,118.69 L348.06,118.80 L349.01,118.90 L349.95,118.97 L350.90,119.01 L351.85,119.01 L352.79,118.96 L353.74,118.88 L354.68,118.75 L355.62,118.57 L356.57,118.35 L357.51,118.08 L358.46,117.76 L359.40,117.40 L360.35,116.98 L361.29,116.52 L362.24,116.02 L363.19,115.50 L364.13,114.98 L365.07,114.46 L366.02,113.98 L366.97,113.53 L367.91,113.14 L368.86,112.82 L369.80,112.59 L370.75,112.47 L371.69,112.42 L372.63,112.46 L373.58,112.56 L374.52,112.74 L375.47,112.99 L376.41,113.32 L377.36,113.71 L378.31,114.17 L379.25,114.71 L380.19,115.31 L381.14,115.98 L382.08,116.71 L383.03,117.51 L383.98,118.37 L384.92,119.30 L385.87,120.28 L386.81,121.33 L387.75,122.44 L388.70,123.61 L389.64,125.03 L390.59,126.52 L391.53,128.09 L392.48,129.72 L393.42,131.42 L394.37,133.17 L395.31,134.95 L396.26,136.76 L397.20,138.59 L398.15,140.44 L399.10,142.27 L400.04,144.10 L400.99,145.91 L401.93,147.68 L402.88,149.41 L403.82,151.09 L404.76,152.70 L405.71,154.24 L406.65,155.69 L407.60,157.05 L408.54,158.45 L409.49,159.71 L410.44,160.79 L411.38,161.73 L412.32,162.51 L413.27,163.17 L414.22,163.71 L415.16,164.16 L416.11,164.53 L417.05,164.83 L418.00,165.08 L418.94,165.30 L419.88,165.49 L420.83,165.65 L421.77,165.79 L422.72,165.91 L423.66,166.02 L424.61,166.12 L425.55,166.21 L426.50,166.30" stroke="#00f"/>
<path d="M237.50,140.97 L238.44,141.37 L239.39,141.78 L240.34,142.24 L241.28,142.74 L242.22,143.31 L243.17,143.94 L244.12,144.65 L245.06,145.44 L246.00,146.31 L246.95,147.27 L247.90,148.31 L248.84,149.42 L249.78,150.58 L250.73,151.77 L251.68,153.00 L252.62,154.27 L253.56,155.59 L254.51,156.96 L255.45,158.40 L256.40,159.91 L257.35,161.48 L258.29,163.09 L259.24,164.73 L260.18,166.38 L261.12,168.04 L262.07,169.67 L263.01,171.25 L263.96,172.78 L264.90,174.24 L265.85,175.61 L266.80,176.88 L267.74,178.06 L268.69,179.14 L269.63,180.13 L270.57,181.02 L271.52,181.80 L272.46,182.48 L273.41,183.05 L274.36,183.51 L275.30,183.86 L276.25,184.11 L277.19,184.25 L278.13,184.30 L279.08,184.24 L280.02,184.13 L280.97,183.96 L281.92,183.74 L282.86,183.46 L283.81,183.12 L284.75,182.73 L285.69,182.29 L286.64,181.80 L287.58,181.26 L288.53,180.67 L289.48,180.04 L290.42,179.37 L291.37,178.51 L292.31,177.59 L293.25,176.61 L294.20,175.59 L295.14,174.52 L296.09,173.39 L297.03,172.21 L297.98,170.97 L298.93,169.67 L299.87,168.30 L300.81,166.86 L301.76,165.35 L302.70,163.75 L303.65,162.08 L304.60,160.32 L305.54,158.49 L306.49,156.59 L307.43,154.65 L308.38,152.67 L309.32,150.66 L310.26,148.65 L311.21,146.63 L312.15,144.63 L313.10,142.65 L314.05,140.71 L314.99,138.82 L315.94,136.99 L316.88,135.22 L317.82,133.53 L318.77,131.93 L319.71,130.43 L320.66,129.03 L321.61,127.76 L322.55,126.61 L323.50,125.59 L324.44,124.71 L325.38,123.93 L326.33,123.26 L327.27,122.68 L328.22,122.17 L329.16,121.73 L330.11,121.35 L331.06,121.01 L332.00,120.70 L332.94,120.41 L333.89,120.14 L334.83,119.89 L335.78,119.67 L336.73,119.47 L337.67,119.31 L338.62,119.18 L339.56,119.09 L340.50,119.03 L341.45,119.01 L342.39,119.03 L343.34,119.09 L344.28,119.17 L345.23,119.27 L346.18,119.38 L347.12,119.50 L348.06,119.61 L349.01,119.72 L349.95,119.80 L350.90,119.85 L351.85,119.87 L352.79,119.86 L353.74,119.80 L354.68,119.71 L355.62,119.57 L356.57,119.39 L357.51,119.16 L358.46,118.88 L359.40,118.55 L360.35,118.16 L361.29,117.73 L362.24,117.25 L363.19,116.76 L364.13,116.25 L365.07,115.75 L366.02,115.28 L366.97,114.85 L367.91,114.47 L368.86,114.16 L369.80,113.94 L370.75,113.83 L371.69,113.80 L372.63,113.84 L373.58,113.95 L374.52,114.14 L375.47,114.40 L376.41,114.72 L377.36,115.11 L378.31,115.57 L379.25,116.09 L380.19,116.67 L381.14,117.31 L382.08,118.01 L383.03,118.78 L383.98,119.60 L384.92,120.48 L385.87,121.42 L386.81,122.42 L387.75,123.48 L388.70,124.60 L389.64,125.96 L390.59,127.40 L391.53,128.91 L392.48,130.51 L393.42,132.17 L394.37,133.88 L395.31,135.63 L396.26,137.41 L397.20,139.21 L398.15,141.02 L399.10,142.83 L400.04,144.63 L400.99,146.40 L401.93,148.13 L402.88,149.83 L403.82,151.46 L404.76,153.04 L405.71,154.53 L406.65,155.95 L407.60,157.28 L408.54,158.65 L409.49,159.88 L410.44,160.95 L411.38,161.87 L412.32,162.66 L413.27,163.32 L414.22,163.87 L415.16,164.32 L416.11,164.70 L417.05,165.00 L418.00,165.25 L418.94,165.46 L419.88,165.64 L420.83,165.79 L421.77,165.91 L422.72,166.02 L423.66,166.10 L424.61,166.18 L425.55,166.24 L426.50,166.30" stroke="#f0f"/>
<path d="M237.50,143.50 L238.44,144.11 L239.39,144.74 L240.34,145.42 L241.28,146.16 L242.22,146.97 L243.17,147.83 L244.12,148.74 L245.06,149.66 L246.00,150.57 L246.95,151.45 L247.90,152.30 L248.84,153.16 L249.78,154.06 L250.73,155.03 L251.68,156.07 L252.62,157.20 L253.56,158.39 L254.51,159.64 L255.45,160.96 L256.40,162.33 L257.35,163.75 L258.29,165.20 L259.24,166.66 L260.18,168.12 L261.12,169.58 L262.07,171.02 L263.01,172.42 L263.96,173.76 L264.90,175.04 L265.85,176.24 L266.80,177.37 L267.74,178.41 L268.69,179.38 L269.63,180.26 L270.57,181.07 L271.52,181.81 L272.46,182.46 L273.41,183.04 L274.36,183.54 L275.30,183.96 L276.25,184.29 L277.19,184.54 L278.13,184.69 L279.08,184.75 L280.02,184.73 L280.97,184.64 L281.92,184.49 L282.86,184.26 L283.81,183.97 L284.75,183.61 L285.69,183.18 L286.64,182.69 L287.58,182.14 L288.53,181.54 L289.48,180.89 L290.42,180.20 L291.37,179.32 L292.31,178.40 L293.25,177.43 L294.20,176.43 L295.14,175.41 L296.09,174.35 L297.03,173.26 L297.98,172.11 L298.93,170.91 L299.87,169.65 L300.81,168.31 L301.76,166.89 L302.70,165.38 L303.65,163.77 L304.60,162.05 L305.54,160.25 L306.49,158.37 L307.43,156.43 L308.38,154.44 L309.32,152.43 L310.26,150.39 L311.21,148.36 L312.15,146.33 L313.10,144.34 L314.05,142.39 L314.99,140.50 L315.94,138.66 L316.88,136.90 L317.82,135.22 L318.77,133.62 L319.71,132.12 L320.66,130.73 L321.61,129.45 L322.55,128.30 L323.50,127.27 L324.44,126.37 L325.38,125.58 L326.33,124.89 L327.27,124.30 L328.22,123.79 L329.16,123.35 L330.11,122.98 L331.06,122.66 L332.00,122.39 L332.94,122.15 L333.89,121.95 L334.83,121.78 L335.78,121.65 L336.73,121.55 L337.67,121.48 L338.62,121.45 L339.56,121.45 L340.50,121.48 L341.45,121.54 L342.39,121.63 L343.34,121.75 L344.28,121.89 L345.23,122.03 L346.18,122.18 L347.12,122.33 L348.06,122.46 L349.01,122.57 L349.95,122.67 L350.90,122.72 L351.85,122.74 L352.79,122.73 L353.74,122.67 L354.68,122.56 L355.62,122.42 L356.57,122.23 L357.51,122.00 L358.46,121.73 L359.40,121.40 L360.35,121.03 L361.29,120.62 L362.24,120.17 L363.19,119.71 L364.13,119.23 L365.07,118.76 L366.02,118.31 L366.97,117.90 L367.91,117.53 L368.86,117.22 L369.80,116.98 L370.75,116.84 L371.69,116.77 L372.63,116.77 L373.58,116.83 L374.52,116.95 L375.47,117.14 L376.41,117.40 L377.36,117.72 L378.31,118.10 L379.25,118.55 L380.19,119.07 L381.14,119.65 L382.08,120.29 L383.03,120.99 L383.98,121.76 L384.92,122.59 L385.87,123.47 L386.81,124.42 L387.75,125.42 L388.70,126.48 L389.64,127.77 L390.59,129.14 L391.53,130.57 L392.48,132.07 L393.42,133.62 L394.37,135.23 L395.31,136.87 L396.26,138.55 L397.20,140.24 L398.15,141.95 L399.10,143.66 L400.04,145.36 L400.99,147.04 L401.93,148.70 L402.88,150.32 L403.82,151.90 L404.76,153.42 L405.71,154.87 L406.65,156.24 L407.60,157.53 L408.54,158.86 L409.49,160.06 L410.44,161.10 L411.38,161.99 L412.32,162.75 L413.27,163.39 L414.22,163.92 L415.16,164.36 L416.11,164.72 L417.05,165.01 L418.00,165.25 L418.94,165.46 L419.88,165.63 L420.83,165.78 L421.77,165.90 L422.72,166.00 L423.66,166.09 L424.61,166.17 L425.55,166.24 L426.50,166.30" stroke="#0ff"/>
<path d="M237.50,134.21 L238.44,134.50 L239.39,134.86 L240.34,135.35 L241.28,136.02 L242.22,136.92 L243.17,138.00 L244.12,139.22 L245.06,140.52 L246.00,141.86 L246.95,143.18 L247.90,144.47 L248.84,145.77 L249.78,147.11 L250.73,148.53 L251.68,150.03 L252.62,151.60 L253.56,153.24 L254.51,154.93 L255.45,156.66 L256.40,158.41 L257.35,160.18 L258.29,161.95 L259.24,163.71 L260.18,165.44 L261.12,167.15 L262.07,168.82 L263.01,170.42 L263.96,171.95 L264.90,173.39 L265.85,174.74 L266.80,175.99 L267.74,177.15 L268.69,178.22 L269.63,179.19 L270.57,180.08 L271.52,180.87 L272.46,181.57 L273.41,182.19 L274.36,182.71 L275.30,183.15 L276.25,183.49 L277.19,183.74 L278.13,183.89 L279.08,183.94 L280.02,183.91 L280.97,183.82 L281.92,183.65 L282.86,183.42 L283.81,183.12 L284.75,182.76 L285.69,182.32 L286.64,181.83 L287.58,181.28 L288.53,180.68 L289.48,180.04 L290.42,179.35 L291.37,178.47 L292.31,177.55 L293.25,176.58 L294.20,175.59 L295.14,174.57 L296.09,173.51 L297.03,172.42 L297.98,171.27 L298.93,170.07 L299.87,168.80 L300.81,167.46 L301.76,166.04 L302.70,164.53 L303.65,162.92 L304.60,161.21 L305.54,159.41 L306.49,157.53 L307.43,155.59 L308.38,153.60 L309.32,151.58 L310.26,149.55 L311.21,147.51 L312.15,145.49 L313.10,143.50 L314.05,141.55 L314.99,139.65 L315.94,137.82 L316.88,136.05 L317.82,134.37 L318.77,132.77 L319.71,131.27 L320.66,129.88 L321.61,128.60 L322.55,127.45 L323.50,126.43 L324.44,125.54 L325.38,124.75 L326.33,124.07 L327.27,123.48 L328.22,122.97 L329.16,122.53 L330.11,122.16 L331.06,121.83 L332.00,121.54 L332.94,121.28 L333.89,121.06 L334.83,120.88 L335.78,120.73 L336.73,120.64 L337.67,120.59 L338.62,120.61 L339.56,120.68 L340.50,120.82 L341.45,121.03 L342.39,121.32 L343.34,121.66 L344.28,122.04 L345.23,122.46 L346.18,122.88 L347.12,123.29 L348.06,123.69 L349.01,124.05 L349.95,124.35 L350.90,124.58 L351.85,124.73 L352.79,124.80 L353.74,124.80 L354.68,124.73 L355.62,124.59 L356.57,124.40 L357.51,124.17 L358.46,123.89 L359.40,123.57 L360.35,123.23 L361.29,122.86 L362.24,122.48 L363.19,122.10 L364.13,121.71 L365.07,121.34 L366.02,121.00 L366.97,120.68 L367.91,120.41 L368.86,120.19 L369.80,120.02 L370.75,119.93 L371.69,119.90 L372.63,119.91 L373.58,119.99 L374.52,120.12 L375.47,120.30 L376.41,120.54 L377.36,120.85 L378.31,121.21 L379.25,121.64 L380.19,122.12 L381.14,122.67 L382.08,123.29 L383.03,123.96 L383.98,124.69 L384.92,125.49 L385.87,126.34 L386.81,127.24 L387.75,128.20 L388.70,129.21 L389.64,130.43 L390.59,131.72 L391.53,133.07 L392.48,134.47 L393.42,135.92 L394.37,137.42 L395.31,138.94 L396.26,140.49 L397.20,142.06 L398.15,143.64 L399.10,145.22 L400.04,146.79 L400.99,148.34 L401.93,149.87 L402.88,151.37 L403.82,152.83 L404.76,154.23 L405.71,155.58 L406.65,156.85 L407.60,158.05 L408.54,159.29 L409.49,160.42 L410.44,161.40 L411.38,162.25 L412.32,162.98 L413.27,163.59 L414.22,164.11 L415.16,164.54 L416.11,164.90 L417.05,165.19 L418.00,165.42 L418.94,165.62 L419.88,165.78 L420.83,165.91 L421.77,166.02 L422.72,166.10 L423.66,166.17 L424.61,166.22 L425.55,166.26 L426.50,166.30" stroke="#000" stroke-dasharray="10.5 3.8"/>
<path d="M237.50,129.14 L238.44,131.33 L239.39,133.52 L240.34,135.72 L241.28,137.94 L242.22,140.20 L243.17,142.49 L244.12,144.81 L245.06,147.19 L246.00,149.61 L246.95,152.10 L247.90,154.61 L248.84,157.08 L249.78,159.42 L250.73,161.56 L251.68,163.48 L252.62,165.20 L253.56,166.74 L254.51,168.15 L255.45,169.43 L256.40,170.62 L257.35,171.73 L258.29,172.76 L259.24,173.72 L260.18,174.61 L261.12,175.45 L262.07,176.23 L263.01,176.95 L263.96,177.63 L264.90,178.27 L265.85,178.87 L266.80,179.44 L267.74,179.96 L268.69,180.45 L269.63,180.90 L270.57,181.30 L271.52,181.67 L272.46,181.99 L273.41,182.27 L274.36,182.51 L275.30,182.71 L276.25,182.85 L277.19,182.95 L278.13,182.99 L279.08,182.97 L280.02,182.92 L280.97,182.82 L281.92,182.69 L282.86,182.52 L283.81,182.30 L284.75,182.04 L285.69,181.73 L286.64,181.38 L287.58,180.99 L288.53,180.55 L289.48,180.07 L290.42,179.54 L291.37,178.86 L292.31,178.11 L293.25,177.30 L294.20,176.43 L295.14,175.50 L296.09,174.51 L297.03,173.44 L297.98,172.31 L298.93,171.09 L299.87,169.80 L300.81,168.43 L301.76,166.97 L302.70,165.41 L303.65,163.77 L304.60,162.02 L305.54,160.20 L306.49,158.30 L307.43,156.35 L308.38,154.37 L309.32,152.35 L310.26,150.33 L311.21,148.31 L312.15,146.31 L313.10,144.34 L314.05,142.42 L314.99,140.56 L315.94,138.78 L316.88,137.07 L317.82,135.45 L318.77,133.94 L319.71,132.54 L320.66,131.27 L321.61,130.13 L322.55,129.14 L323.50,128.31 L324.44,127.61 L325.38,127.05 L326.33,126.60 L327.27,126.24 L328.22,125.97 L329.16,125.77 L330.11,125.62 L331.06,125.51 L332.00,125.43 L332.94,125.35 L333.89,125.29 L334.83,125.24 L335.78,125.22 L336.73,125.22 L337.67,125.26 L338.62,125.32 L339.56,125.42 L340.50,125.57 L341.45,125.76 L342.39,126.00 L343.34,126.28 L344.28,126.59 L345.23,126.90 L346.18,127.22 L347.12,127.51 L348.06,127.78 L349.01,128.01 L349.95,128.19 L350.90,128.30 L351.85,128.33 L352.79,128.29 L353.74,128.19 L354.68,128.04 L355.62,127.85 L356.57,127.62 L357.51,127.38 L358.46,127.12 L359.40,126.86 L360.35,126.61 L361.29,126.37 L362.24,126.15 L363.19,125.96 L364.13,125.78 L365.07,125.63 L366.02,125.50 L366.97,125.40 L367.91,125.32 L368.86,125.27 L369.80,125.26 L370.75,125.27 L371.69,125.30 L372.63,125.37 L373.58,125.47 L374.52,125.60 L375.47,125.77 L376.41,125.97 L377.36,126.22 L378.31,126.51 L379.25,126.85 L380.19,127.24 L381.14,127.68 L382.08,128.18 L383.03,128.72 L383.98,129.32 L384.92,129.97 L385.87,130.67 L386.81,131.42 L387.75,132.22 L388.70,133.07 L389.64,134.11 L390.59,135.21 L391.53,136.37 L392.48,137.59 L393.42,138.86 L394.37,140.18 L395.31,141.53 L396.26,142.91 L397.20,144.31 L398.15,145.73 L399.10,147.15 L400.04,148.56 L400.99,149.97 L401.93,151.36 L402.88,152.72 L403.82,154.04 L404.76,155.32 L405.71,156.55 L406.65,157.71 L407.60,158.80 L408.54,159.93 L409.49,160.95 L410.44,161.84 L411.38,162.61 L412.32,163.26 L413.27,163.81 L414.22,164.27 L415.16,164.65 L416.11,164.96 L417.05,165.22 L418.00,165.43 L418.94,165.60 L419.88,165.75 L420.83,165.88 L421.77,165.98 L422.72,166.07 L423.66,166.14 L424.61,166.20 L425.55,166.25 L426.50,166.30" stroke="#f00" stroke-dasharray="10.5 3.8"/>
<path d="M237.50,139.28 L238.44,139.61 L239.39,139.99 L240.34,140.47 L241.28,141.07 L242.22,141.84 L243.17,142.76 L244.12,143.79 L245.06,144.93 L246.00,146.13 L246.95,147.38 L247.90,148.67 L248.84,149.99 L249.78,151.34 L250.73,152.72 L251.68,154.14 L252.62,155.58 L253.56,157.05 L254.51,158.55 L255.45,160.08 L256.40,161.63 L257.35,163.19 L258.29,164.76 L259.24,166.33 L260.18,167.88 L261.12,169.41 L262.07,170.90 L263.01,172.35 L263.96,173.74 L264.90,175.05 L265.85,176.29 L266.80,177.44 L267.74,178.52 L268.69,179.50 L269.63,180.40 L270.57,181.21 L271.52,181.92 L272.46,182.54 L273.41,183.06 L274.36,183.48 L275.30,183.80 L276.25,184.03 L277.19,184.16 L278.13,184.20 L279.08,184.15 L280.02,184.05 L280.97,183.90 L281.92,183.69 L282.86,183.43 L283.81,183.12 L284.75,182.77 L285.69,182.36 L286.64,181.92 L287.58,181.43 L288.53,180.90 L289.48,180.33 L290.42,179.73 L291.37,178.97 L292.31,178.16 L293.25,177.32 L294.20,176.43 L295.14,175.52 L296.09,174.56 L297.03,173.56 L297.98,172.51 L298.93,171.39 L299.87,170.21 L300.81,168.94 L301.76,167.59 L302.70,166.15 L303.65,164.61 L304.60,162.97 L305.54,161.23 L306.49,159.42 L307.43,157.55 L308.38,155.64 L309.32,153.70 L310.26,151.76 L311.21,149.82 L312.15,147.91 L313.10,146.03 L314.05,144.21 L314.99,142.46 L315.94,140.78 L316.88,139.18 L317.82,137.66 L318.77,136.24 L319.71,134.93 L320.66,133.72 L321.61,132.64 L322.55,131.68 L323.50,130.85 L324.44,130.14 L325.38,129.54 L326.33,129.04 L327.27,128.63 L328.22,128.29 L329.16,128.02 L330.11,127.79 L331.06,127.61 L332.00,127.45 L332.94,127.31 L333.89,127.19 L334.83,127.10 L335.78,127.03 L336.73,127.00 L337.67,127.00 L338.62,127.04 L339.56,127.13 L340.50,127.26 L341.45,127.45 L342.39,127.70 L343.34,127.99 L344.28,128.31 L345.23,128.66 L346.18,129.01 L347.12,129.36 L348.06,129.70 L349.01,130.01 L349.95,130.28 L350.90,130.49 L351.85,130.65 L352.79,130.75 L353.74,130.79 L354.68,130.79 L355.62,130.74 L356.57,130.65 L357.51,130.52 L358.46,130.37 L359.40,130.19 L360.35,129.99 L361.29,129.77 L362.24,129.55 L363.19,129.32 L364.13,129.09 L365.07,128.87 L366.02,128.67 L366.97,128.49 L367.91,128.33 L368.86,128.21 L369.80,128.13 L370.75,128.09 L371.69,128.09 L372.63,128.12 L373.58,128.19 L374.52,128.30 L375.47,128.45 L376.41,128.64 L377.36,128.86 L378.31,129.13 L379.25,129.44 L380.19,129.80 L381.14,130.19 L382.08,130.64 L383.03,131.12 L383.98,131.66 L384.92,132.24 L385.87,132.86 L386.81,133.53 L387.75,134.25 L388.70,135.02 L389.64,135.95 L390.59,136.96 L391.53,138.02 L392.48,139.15 L393.42,140.32 L394.37,141.55 L395.31,142.81 L396.26,144.11 L397.20,145.43 L398.15,146.76 L399.10,148.10 L400.04,149.45 L400.99,150.79 L401.93,152.11 L402.88,153.42 L403.82,154.69 L404.76,155.91 L405.71,157.09 L406.65,158.21 L407.60,159.25 L408.54,160.33 L409.49,161.30 L410.44,162.15 L411.38,162.86 L412.32,163.47 L413.27,163.97 L414.22,164.39 L415.16,164.73 L416.11,165.01 L417.05,165.24 L418.00,165.43 L418.94,165.59 L419.88,165.73 L420.83,165.85 L421.77,165.95 L422.72,166.04 L423.66,166.11 L424.61,166.18 L425.55,166.24 L426.50,166.30" stroke="#0f0" stroke-dasharray="10.5 3.8"/>
<path d="M237.50,140.97 L238.44,141.04 L239.39,141.17 L240.34,141.44 L241.28,141.90 L242.22,142.59 L243.17,143.49 L244.12,144.54 L245.06,145.71 L246.00,146.96 L246.95,148.23 L247.90,149.53 L248.84,150.84 L249.78,152.18 L250.73,153.57 L251.68,154.99 L252.62,156.45 L253.56,157.93 L254.51,159.43 L255.45,160.93 L256.40,162.43 L257.35,163.93 L258.29,165.41 L259.24,166.88 L260.18,168.32 L261.12,169.74 L262.07,171.13 L263.01,172.48 L263.96,173.79 L264.90,175.04 L265.85,176.24 L266.80,177.37 L267.74,178.44 L268.69,179.43 L269.63,180.34 L270.57,181.16 L271.52,181.90 L272.46,182.53 L273.41,183.06 L274.36,183.48 L275.30,183.79 L276.25,184.00 L277.19,184.11 L278.13,184.13 L279.08,184.07 L280.02,183.97 L280.97,183.82 L281.92,183.63 L282.86,183.40 L283.81,183.13 L284.75,182.83 L285.69,182.50 L286.64,182.13 L287.58,181.72 L288.53,181.28 L289.48,180.80 L290.42,180.29 L291.37,179.62 L292.31,178.89 L293.25,178.11 L294.20,177.28 L295.14,176.38 L296.09,175.43 L297.03,174.42 L297.98,173.34 L298.93,172.20 L299.87,170.99 L300.81,169.71 L301.76,168.36 L302.70,166.95 L303.65,165.46 L304.60,163.89 L305.54,162.27 L306.49,160.59 L307.43,158.88 L308.38,157.15 L309.32,155.40 L310.26,153.66 L311.21,151.93 L312.15,150.23 L313.10,148.57 L314.05,146.96 L314.99,145.41 L315.94,143.92 L316.88,142.51 L317.82,141.17 L318.77,139.92 L319.71,138.77 L320.66,137.70 L321.61,136.75 L322.55,135.90 L323.50,135.16 L324.44,134.54 L325.38,134.00 L326.33,133.56 L327.27,133.19 L328.22,132.89 L329.16,132.65 L330.11,132.46 L331.06,132.31 L332.00,132.18 L332.94,132.08 L333.89,132.00 L334.83,131.94 L335.78,131.92 L336.73,131.92 L337.67,131.96 L338.62,132.04 L339.56,132.15 L340.50,132.31 L341.45,132.52 L342.39,132.77 L343.34,133.07 L344.28,133.40 L345.23,133.75 L346.18,134.12 L347.12,134.50 L348.06,134.87 L349.01,135.23 L349.95,135.58 L350.90,135.90 L351.85,136.18 L352.79,136.43 L353.74,136.64 L354.68,136.81 L355.62,136.94 L356.57,137.02 L357.51,137.07 L358.46,137.06 L359.40,137.01 L360.35,136.91 L361.29,136.76 L362.24,136.58 L363.19,136.36 L364.13,136.12 L365.07,135.88 L366.02,135.64 L366.97,135.40 L367.91,135.20 L368.86,135.02 L369.80,134.88 L370.75,134.81 L371.69,134.78 L372.63,134.78 L373.58,134.84 L374.52,134.93 L375.47,135.08 L376.41,135.27 L377.36,135.51 L378.31,135.80 L379.25,136.14 L380.19,136.53 L381.14,136.97 L382.08,137.47 L383.03,138.02 L383.98,138.60 L384.92,139.23 L385.87,139.89 L386.81,140.58 L387.75,141.30 L388.70,142.04 L389.64,142.91 L390.59,143.80 L391.53,144.70 L392.48,145.61 L393.42,146.53 L394.37,147.45 L395.31,148.37 L396.26,149.30 L397.20,150.24 L398.15,151.18 L399.10,152.12 L400.04,153.06 L400.99,154.01 L401.93,154.96 L402.88,155.90 L403.82,156.83 L404.76,157.73 L405.71,158.61 L406.65,159.45 L407.60,160.25 L408.54,161.09 L409.49,161.86 L410.44,162.55 L411.38,163.15 L412.32,163.68 L413.27,164.14 L414.22,164.54 L415.16,164.88 L416.11,165.16 L417.05,165.40 L418.00,165.60 L418.94,165.76 L419.88,165.89 L420.83,166.00 L421.77,166.09 L422.72,166.15 L423.66,166.20 L424.61,166.24 L425.55,166.27 L426.50,166.30" stroke="#ff0" stroke-dasharray="10.5 3.8"/>
<path d="M237.50,139.28 L238.44,139.61 L239.39,139.99 L240.34,140.47 L241.28,141.07 L242.22,141.84 L243.17,142.76 L244.12,143.79 L245.06,144.93 L246.00,146.13 L246.95,147.38 L247.90,148.67 L248.84,149.99 L249.78,151.34 L250.73,152.72 L251.68,154.14 L252.62,155.58 L253.56,157.05 L254.51,158.55 L255.45,160.08 L256.40,161.63 L257.35,163.20 L258.29,164.77 L259.24,166.34 L260.18,167.89 L261.12,169.43 L262.07,170.92 L263.01,172.36 L263.96,173.74 L264.90,175.05 L265.85,176.27 L266.80,177.41 L267.74,178.47 L268.69,179.44 L269.63,180.33 L270.57,181.14 L271.52,181.86 L272.46,182.50 L273.41,183.05 L274.36,183.52 L275.30,183.90 L276.25,184.20 L277.19,184.41 L278.13,184.55 L279.08,184.60 L280.02,184.58 L280.97,184.51 L281.92,184.38 L282.86,184.21 L283.81,183.99 L284.75,183.71 L285.69,183.39 L286.64,183.02 L287.58,182.60 L288.53,182.15 L289.48,181.65 L290.42,181.12 L291.37,180.44 L292.31,179.71 L293.25,178.93 L294.20,178.12 L295.14,177.28 L296.09,176.39 L297.03,175.45 L297.98,174.47 L298.93,173.42 L299.87,172.32 L300.81,171.14 L301.76,169.89 L302.70,168.56 L303.65,167.14 L304.60,165.64 L305.54,164.06 L306.49,162.43 L307.43,160.77 L308.38,159.08 L309.32,157.41 L310.26,155.75 L311.21,154.13 L312.15,152.58 L313.10,151.10 L314.05,149.72 L314.99,148.43 L315.94,147.22 L316.88,146.11 L317.82,145.07 L318.77,144.12 L319.71,143.23 L320.66,142.41 L321.61,141.66 L322.55,140.97 L323.50,140.33 L324.44,139.75 L325.38,139.22 L326.33,138.76 L327.27,138.35 L328.22,138.00 L329.16,137.72 L330.11,137.50 L331.06,137.34 L332.00,137.25 L332.94,137.22 L333.89,137.25 L334.83,137.35 L335.78,137.49 L336.73,137.69 L337.67,137.93 L338.62,138.21 L339.56,138.53 L340.50,138.89 L341.45,139.28 L342.39,139.69 L343.34,140.12 L344.28,140.57 L345.23,141.02 L346.18,141.47 L347.12,141.92 L348.06,142.35 L349.01,142.76 L349.95,143.15 L350.90,143.50 L351.85,143.81 L352.79,144.09 L353.74,144.32 L354.68,144.51 L355.62,144.67 L356.57,144.78 L357.51,144.86 L358.46,144.90 L359.40,144.89 L360.35,144.85 L361.29,144.77 L362.24,144.66 L363.19,144.52 L364.13,144.36 L365.07,144.20 L366.02,144.03 L366.97,143.87 L367.91,143.73 L368.86,143.60 L369.80,143.50 L370.75,143.44 L371.69,143.41 L372.63,143.40 L373.58,143.42 L374.52,143.46 L375.47,143.53 L376.41,143.62 L377.36,143.74 L378.31,143.88 L379.25,144.05 L380.19,144.24 L381.14,144.45 L382.08,144.69 L383.03,144.95 L383.98,145.24 L384.92,145.55 L385.87,145.89 L386.81,146.26 L387.75,146.66 L388.70,147.09 L389.64,147.62 L390.59,148.20 L391.53,148.82 L392.48,149.48 L393.42,150.19 L394.37,150.92 L395.31,151.68 L396.26,152.46 L397.20,153.26 L398.15,154.06 L399.10,154.87 L400.04,155.68 L400.99,156.49 L401.93,157.27 L402.88,158.05 L403.82,158.80 L404.76,159.53 L405.71,160.22 L406.65,160.88 L407.60,161.51 L408.54,162.16 L409.49,162.76 L410.44,163.28 L411.38,163.75 L412.32,164.15 L413.27,164.49 L414.22,164.79 L415.16,165.05 L416.11,165.26 L417.05,165.45 L418.00,165.60 L418.94,165.74 L419.88,165.85 L420.83,165.95 L421.77,166.03 L422.72,166.10 L423.66,166.16 L424.61,166.21 L425.55,166.26 L426.50,166.30" stroke="#00f" stroke-dasharray="10.5 3.8"/>
<path d="M237.50,140.97 L238.44,141.54 L239.39,142.16 L240.34,142.84 L241.28,143.63 L242.22,144.56 L243.17,145.60 L244.12,146.76 L245.06,148.03 L246.00,149.39 L246.95,150.84 L247.90,152.36 L248.84,153.92 L249.78,155.48 L250.73,157.03 L251.68,158.55 L252.62,160.03 L253.56,161.49 L254.51,162.92 L255.45,164.33 L256.40,165.72 L257.35,167.08 L258.29,168.41 L259.24,169.71 L260.18,170.97 L261.12,172.21 L262.07,173.40 L263.01,174.54 L263.96,175.64 L264.90,176.68 L265.85,177.66 L266.80,178.58 L267.74,179.44 L268.69,180.24 L269.63,180.96 L270.57,181.61 L271.52,182.18 L272.46,182.68 L273.41,183.09 L274.36,183.41 L275.30,183.66 L276.25,183.82 L277.19,183.91 L278.13,183.93 L279.08,183.88 L280.02,183.80 L280.97,183.69 L281.92,183.54 L282.86,183.36 L283.81,183.15 L284.75,182.91 L285.69,182.64 L286.64,182.36 L287.58,182.04 L288.53,181.71 L289.48,181.36 L290.42,180.98 L291.37,180.51 L292.31,180.02 L293.25,179.50 L294.20,178.97 L295.14,178.42 L296.09,177.84 L297.03,177.23 L297.98,176.58 L298.93,175.88 L299.87,175.13 L300.81,174.30 L301.76,173.41 L302.70,172.43 L303.65,171.37 L304.60,170.21 L305.54,168.96 L306.49,167.65 L307.43,166.29 L308.38,164.89 L309.32,163.47 L310.26,162.04 L311.21,160.62 L312.15,159.22 L313.10,157.86 L314.05,156.55 L314.99,155.29 L315.94,154.10 L316.88,152.97 L317.82,151.91 L318.77,150.91 L319.71,150.00 L320.66,149.16 L321.61,148.40 L322.55,147.72 L323.50,147.13 L324.44,146.63 L325.38,146.21 L326.33,145.87 L327.27,145.60 L328.22,145.41 L329.16,145.30 L330.11,145.25 L331.06,145.27 L332.00,145.36 L332.94,145.50 L333.89,145.70 L334.83,145.95 L335.78,146.25 L336.73,146.58 L337.67,146.94 L338.62,147.33 L339.56,147.73 L340.50,148.14 L341.45,148.57 L342.39,148.99 L343.34,149.40 L344.28,149.81 L345.23,150.20 L346.18,150.56 L347.12,150.91 L348.06,151.22 L349.01,151.51 L349.95,151.75 L350.90,151.94 L351.85,152.09 L352.79,152.20 L353.74,152.26 L354.68,152.29 L355.62,152.29 L356.57,152.26 L357.51,152.20 L358.46,152.13 L359.40,152.04 L360.35,151.94 L361.29,151.84 L362.24,151.73 L363.19,151.62 L364.13,151.52 L365.07,151.42 L366.02,151.32 L366.97,151.24 L367.91,151.18 L368.86,151.13 L369.80,151.10 L370.75,151.09 L371.69,151.10 L372.63,151.13 L373.58,151.17 L374.52,151.23 L375.47,151.30 L376.41,151.39 L377.36,151.49 L378.31,151.60 L379.25,151.73 L380.19,151.87 L381.14,152.02 L382.08,152.19 L383.03,152.36 L383.98,152.55 L384.92,152.75 L385.87,152.96 L386.81,153.18 L387.75,153.42 L388.70,153.66 L389.64,153.96 L390.59,154.28 L391.53,154.61 L392.48,154.96 L393.42,155.33 L394.37,155.71 L395.31,156.11 L396.26,156.53 L397.20,156.96 L398.15,157.42 L399.10,157.90 L400.04,158.39 L400.99,158.91 L401.93,159.44 L402.88,159.99 L403.82,160.54 L404.76,161.08 L405.71,161.62 L406.65,162.14 L407.60,162.63 L408.54,163.16 L409.49,163.63 L410.44,164.05 L411.38,164.41 L412.32,164.72 L413.27,164.98 L414.22,165.20 L415.16,165.39 L416.11,165.54 L417.05,165.67 L418.00,165.78 L418.94,165.87 L419.88,165.95 L420.83,166.02 L421.77,166.08 L422.72,166.14 L423.66,166.18 L424.61,166.22 L425.55,166.26 L426.50,166.30" stroke="#f0f" stroke-dasharray="10.5 3.8"/>
<path d="M237.50,146.03 L238.44,146.39 L239.39,146.79 L240.34,147.25 L241.28,147.82 L242.22,148.51 L243.17,149.31 L244.12,150.20 L245.06,151.16 L246.00,152.17 L246.95,153.20 L247.90,154.26 L248.84,155.35 L249.78,156.49 L250.73,157.69 L251.68,158.95 L252.62,160.26 L253.56,161.61 L254.51,162.97 L255.45,164.34 L256.40,165.70 L257.35,167.05 L258.29,168.38 L259.24,169.68 L260.18,170.95 L261.12,172.19 L262.07,173.39 L263.01,174.54 L263.96,175.64 L264.90,176.67 L265.85,177.64 L266.80,178.55 L267.74,179.39 L268.69,180.16 L269.63,180.87 L270.57,181.52 L271.52,182.10 L272.46,182.62 L273.41,183.07 L274.36,183.46 L275.30,183.79 L276.25,184.05 L277.19,184.25 L278.13,184.38 L279.08,184.44 L280.02,184.44 L280.97,184.40 L281.92,184.31 L282.86,184.17 L283.81,183.99 L284.75,183.77 L285.69,183.50 L286.64,183.19 L287.58,182.84 L288.53,182.45 L289.48,182.03 L290.42,181.57 L291.37,180.98 L292.31,180.35 L293.25,179.67 L294.20,178.97 L295.14,178.23 L296.09,177.45 L297.03,176.64 L297.98,175.79 L298.93,174.90 L299.87,173.96 L300.81,172.97 L301.76,171.93 L302.70,170.83 L303.65,169.68 L304.60,168.47 L305.54,167.21 L306.49,165.92 L307.43,164.61 L308.38,163.28 L309.32,161.97 L310.26,160.67 L311.21,159.40 L312.15,158.18 L313.10,157.01 L314.05,155.91 L314.99,154.88 L315.94,153.93 L316.88,153.05 L317.82,152.24 L318.77,151.52 L319.71,150.87 L320.66,150.30 L321.61,149.81 L322.55,149.41 L323.50,149.09 L324.44,148.85 L325.38,148.69 L326.33,148.61 L327.27,148.59 L328.22,148.64 L329.16,148.75 L330.11,148.92 L331.06,149.14 L332.00,149.41 L332.94,149.73 L333.89,150.08 L334.83,150.47 L335.78,150.89 L336.73,151.33 L337.67,151.79 L338.62,152.25 L339.56,152.72 L340.50,153.18 L341.45,153.63 L342.39,154.07 L343.34,154.49 L344.28,154.89 L345.23,155.27 L346.18,155.63 L347.12,155.96 L348.06,156.27 L349.01,156.55 L349.95,156.79 L350.90,157.01 L351.85,157.19 L352.79,157.35 L353.74,157.47 L354.68,157.57 L355.62,157.65 L356.57,157.72 L357.51,157.76 L358.46,157.80 L359.40,157.83 L360.35,157.86 L361.29,157.88 L362.24,157.90 L363.19,157.92 L364.13,157.93 L365.07,157.95 L366.02,157.97 L366.97,157.98 L367.91,158.00 L368.86,158.01 L369.80,158.02 L370.75,158.04 L371.69,158.05 L372.63,158.06 L373.58,158.07 L374.52,158.09 L375.47,158.10 L376.41,158.11 L377.36,158.13 L378.31,158.15 L379.25,158.16 L380.19,158.18 L381.14,158.20 L382.08,158.23 L383.03,158.25 L383.98,158.28 L384.92,158.32 L385.87,158.37 L386.81,158.42 L387.75,158.48 L388.70,158.56 L389.64,158.66 L390.59,158.78 L391.53,158.93 L392.48,159.09 L393.42,159.28 L394.37,159.49 L395.31,159.71 L396.26,159.95 L397.20,160.21 L398.15,160.48 L399.10,160.76 L400.04,161.05 L400.99,161.36 L401.93,161.67 L402.88,161.98 L403.82,162.30 L404.76,162.62 L405.71,162.94 L406.65,163.25 L407.60,163.55 L408.54,163.88 L409.49,164.18 L410.44,164.47 L411.38,164.73 L412.32,164.97 L413.27,165.19 L414.22,165.38 L415.16,165.56 L416.11,165.71 L417.05,165.84 L418.00,165.95 L418.94,166.04 L419.88,166.11 L420.83,166.17 L421.77,166.21 L422.72,166.24 L423.66,166.26 L424.61,166.28 L425.55,166.29 L426.50,166.30" stroke="#0ff" stroke-dasharray="10.5 3.8"/>
<path d="M237.50,151.10 L238.44,151.11 L239.39,151.16 L240.34,151.27 L241.28,151.48 L242.22,151.80 L243.17,152.22 L244.12,152.75 L245.06,153.36 L246.00,154.04 L246.95,154.78 L247.90,155.58 L248.84,156.46 L249.78,157.41 L250.73,158.45 L251.68,159.57 L252.62,160.75 L253.56,161.97 L254.51,163.18 L255.45,164.38 L256.40,165.53 L257.35,166.63 L258.29,167.69 L259.24,168.70 L260.18,169.67 L261.12,170.62 L262.07,171.53 L263.01,172.41 L263.96,173.27 L264.90,174.10 L265.85,174.90 L266.80,175.68 L267.74,176.42 L268.69,177.12 L269.63,177.76 L270.57,178.35 L271.52,178.88 L272.46,179.34 L273.41,179.72 L274.36,180.02 L275.30,180.23 L276.25,180.37 L277.19,180.45 L278.13,180.46 L279.08,180.41 L280.02,180.33 L280.97,180.23 L281.92,180.10 L282.86,179.95 L283.81,179.78 L284.75,179.58 L285.69,179.37 L286.64,179.14 L287.58,178.87 L288.53,178.58 L289.48,178.25 L290.42,177.89 L291.37,177.41 L292.31,176.87 L293.25,176.26 L294.20,175.59 L295.14,174.84 L296.09,174.04 L297.03,173.19 L297.98,172.31 L298.93,171.41 L299.87,170.50 L300.81,169.61 L301.76,168.74 L302.70,167.92 L303.65,167.14 L304.60,166.43 L305.54,165.78 L306.49,165.18 L307.43,164.62 L308.38,164.09 L309.32,163.58 L310.26,163.08 L311.21,162.59 L312.15,162.09 L313.10,161.57 L314.05,161.03 L314.99,160.47 L315.94,159.90 L316.88,159.32 L317.82,158.72 L318.77,158.13 L319.71,157.54 L320.66,156.96 L321.61,156.38 L322.55,155.83 L323.50,155.29 L324.44,154.79 L325.38,154.33 L326.33,153.92 L327.27,153.57 L328.22,153.30 L329.16,153.10 L330.11,153.01 L331.06,153.01 L332.00,153.13 L332.94,153.36 L333.89,153.70 L334.83,154.13 L335.78,154.62 L336.73,155.16 L337.67,155.72 L338.62,156.29 L339.56,156.85 L340.50,157.38 L341.45,157.86 L342.39,158.27 L343.34,158.61 L344.28,158.90 L345.23,159.14 L346.18,159.33 L347.12,159.49 L348.06,159.62 L349.01,159.72 L349.95,159.81 L350.90,159.88 L351.85,159.95 L352.79,160.02 L353.74,160.08 L354.68,160.13 L355.62,160.19 L356.57,160.24 L357.51,160.28 L358.46,160.32 L359.40,160.36 L360.35,160.39 L361.29,160.42 L362.24,160.44 L363.19,160.46 L364.13,160.48 L365.07,160.49 L366.02,160.51 L366.97,160.52 L367.91,160.53 L368.86,160.55 L369.80,160.56 L370.75,160.57 L371.69,160.58 L372.63,160.59 L373.58,160.61 L374.52,160.62 L375.47,160.64 L376.41,160.65 L377.36,160.67 L378.31,160.68 L379.25,160.70 L380.19,160.72 L381.14,160.74 L382.08,160.75 L383.03,160.78 L383.98,160.80 L384.92,160.83 L385.87,160.86 L386.81,160.90 L387.75,160.95 L388.70,161.01 L389.64,161.08 L390.59,161.17 L391.53,161.28 L392.48,161.40 L393.42,161.53 L394.37,161.68 L395.31,161.84 L396.26,162.02 L397.20,162.20 L398.15,162.39 L399.10,162.59 L400.04,162.80 L400.99,163.01 L401.93,163.22 L402.88,163.44 L403.82,163.66 L404.76,163.87 L405.71,164.08 L406.65,164.29 L407.60,164.49 L408.54,164.70 L409.49,164.89 L410.44,165.07 L411.38,165.23 L412.32,165.38 L413.27,165.50 L414.22,165.62 L415.16,165.72 L416.11,165.81 L417.05,165.88 L418.00,165.95 L418.94,166.01 L419.88,166.06 L420.83,166.11 L421.77,166.15 L422.72,166.19 L423.66,166.22 L424.61,166.25 L425.55,166.27 L426.50,166.30" stroke="#555" stroke-dasharray="1 2"/>
</g>
<g clip-path="url(#cp3)" fill="none" stroke-width="1">
<path d="M48.50,296.22 L49.45,299.06 L50.39,301.89 L51.34,304.72 L52.28,307.54 L53.23,310.33 L54.17,313.11 L55.12,315.86 L56.06,318.55 L57.00,321.17 L57.95,323.69 L58.89,326.07 L59.84,328.31 L60.78,330.37 L61.73,332.28 L62.67,334.06 L63.62,335.73 L64.56,337.32 L65.51,338.85 L66.45,340.34 L67.40,341.82 L68.34,343.31 L69.29,344.80 L70.23,346.27 L71.18,347.73 L72.12,349.15 L73.07,350.52 L74.02,351.84 L74.96,353.09 L75.91,354.26 L76.85,355.33 L77.80,356.17 L78.74,356.94 L79.69,357.64 L80.63,358.29 L81.57,358.89 L82.52,359.44 L83.47,359.96 L84.41,360.44 L85.35,360.90 L86.30,361.34 L87.25,361.77 L88.19,362.19 L89.13,362.60 L90.08,363.00 L91.03,363.37 L91.97,363.70 L92.91,363.98 L93.86,364.20 L94.81,364.34 L95.75,364.41 L96.69,364.35 L97.64,364.13 L98.59,363.72 L99.53,363.11 L100.47,362.31 L101.42,361.32 L102.36,360.16 L103.31,358.83 L104.25,357.34 L105.20,355.71 L106.14,353.94 L107.09,352.04 L108.03,350.02 L108.98,347.89 L109.92,345.70 L110.87,343.44 L111.81,341.10 L112.76,338.71 L113.70,336.27 L114.65,333.79 L115.59,331.30 L116.54,328.80 L117.48,326.30 L118.43,323.81 L119.38,321.36 L120.32,318.95 L121.27,316.61 L122.21,314.33 L123.16,312.15 L124.10,310.07 L125.05,307.92 L125.99,305.93 L126.94,304.11 L127.88,302.44 L128.82,300.93 L129.77,299.55 L130.71,298.30 L131.66,297.15 L132.60,296.10 L133.55,295.13 L134.50,294.24 L135.44,293.41 L136.38,292.65 L137.33,291.95 L138.27,291.33 L139.22,290.78 L140.16,290.36 L141.11,290.00 L142.06,289.70 L143.00,289.46 L143.94,289.29 L144.89,289.19 L145.83,289.14 L146.78,289.16 L147.72,289.23 L148.67,289.35 L149.62,289.52 L150.56,289.74 L151.50,290.00 L152.45,290.31 L153.39,290.65 L154.34,291.03 L155.28,291.42 L156.23,291.84 L157.18,292.26 L158.12,292.68 L159.06,293.09 L160.01,293.48 L160.95,293.85 L161.90,294.19 L162.84,294.49 L163.79,294.76 L164.74,294.98 L165.68,295.17 L166.62,295.33 L167.57,295.46 L168.51,295.56 L169.46,295.64 L170.40,295.69 L171.35,295.71 L172.29,295.72 L173.24,295.71 L174.19,295.69 L175.13,295.67 L176.07,295.66 L177.02,295.65 L177.97,295.66 L178.91,295.69 L179.85,295.73 L180.80,295.80 L181.75,295.89 L182.69,296.02 L183.63,296.17 L184.58,296.35 L185.53,296.57 L186.47,296.81 L187.41,297.10 L188.36,297.41 L189.31,297.77 L190.25,298.16 L191.19,298.59 L192.14,299.05 L193.08,299.56 L194.03,300.11 L194.97,300.70 L195.92,301.33 L196.86,302.19 L197.81,303.14 L198.75,304.16 L199.70,305.27 L200.64,306.48 L201.59,307.78 L202.53,309.17 L203.48,310.68 L204.42,312.27 L205.37,313.95 L206.31,315.69 L207.26,317.47 L208.20,319.28 L209.15,321.10 L210.09,322.92 L211.04,324.71 L211.98,326.47 L212.93,328.17 L213.88,329.81 L214.82,331.39 L215.76,333.02 L216.71,334.55 L217.66,335.99 L218.60,337.30 L219.54,338.50 L220.49,339.58 L221.44,340.51 L222.38,341.32 L223.32,342.01 L224.27,342.60 L225.22,343.09 L226.16,343.49 L227.10,343.83 L228.05,344.11 L229.00,344.33 L229.94,344.52 L230.88,344.68 L231.83,344.80 L232.77,344.91 L233.72,344.99 L234.66,345.06 L235.61,345.11 L236.55,345.16 L237.50,345.20" stroke="#000"/>
<path d="M48.50,297.91 L49.45,300.57 L50.39,303.23 L51.34,305.90 L52.28,308.58 L53.23,311.26 L54.17,313.95 L55.12,316.66 L56.06,319.34 L57.00,321.96 L57.95,324.49 L58.89,326.90 L59.84,329.15 L60.78,331.22 L61.73,333.12 L62.67,334.89 L63.62,336.55 L64.56,338.12 L65.51,339.65 L66.45,341.16 L67.40,342.67 L68.34,344.21 L69.29,345.76 L70.23,347.33 L71.18,348.88 L72.12,350.40 L73.07,351.87 L74.02,353.29 L74.96,354.63 L75.91,355.88 L76.85,357.02 L77.80,357.90 L78.74,358.70 L79.69,359.42 L80.63,360.07 L81.57,360.67 L82.52,361.22 L83.47,361.72 L84.41,362.19 L85.35,362.64 L86.30,363.06 L87.25,363.47 L88.19,363.87 L89.13,364.28 L90.08,364.67 L91.03,365.04 L91.97,365.37 L92.91,365.65 L93.86,365.87 L94.81,366.02 L95.75,366.08 L96.69,366.03 L97.64,365.81 L98.59,365.41 L99.53,364.80 L100.47,364.00 L101.42,363.01 L102.36,361.84 L103.31,360.51 L104.25,359.02 L105.20,357.39 L106.14,355.62 L107.09,353.72 L108.03,351.71 L108.98,349.59 L109.92,347.42 L110.87,345.16 L111.81,342.83 L112.76,340.44 L113.70,338.00 L114.65,335.53 L115.59,333.02 L116.54,330.49 L117.48,327.96 L118.43,325.43 L119.38,322.92 L120.32,320.45 L121.27,318.02 L122.21,315.66 L123.16,313.37 L124.10,311.17 L125.05,308.88 L125.99,306.73 L126.94,304.74 L127.88,302.90 L128.82,301.19 L129.77,299.62 L130.71,298.16 L131.66,296.81 L132.60,295.57 L133.55,294.41 L134.50,293.34 L135.44,292.34 L136.38,291.42 L137.33,290.59 L138.27,289.85 L139.22,289.21 L140.16,288.72 L141.11,288.32 L142.06,288.00 L143.00,287.77 L143.94,287.64 L144.89,287.59 L145.83,287.61 L146.78,287.72 L147.72,287.88 L148.67,288.11 L149.62,288.39 L150.56,288.71 L151.50,289.07 L152.45,289.46 L153.39,289.88 L154.34,290.32 L155.28,290.77 L156.23,291.22 L157.18,291.67 L158.12,292.12 L159.06,292.55 L160.01,292.96 L160.95,293.34 L161.90,293.69 L162.84,293.99 L163.79,294.26 L164.74,294.50 L165.68,294.70 L166.62,294.87 L167.57,295.02 L168.51,295.14 L169.46,295.24 L170.40,295.31 L171.35,295.37 L172.29,295.42 L173.24,295.46 L174.19,295.49 L175.13,295.52 L176.07,295.55 L177.02,295.58 L177.97,295.62 L178.91,295.67 L179.85,295.73 L180.80,295.80 L181.75,295.89 L182.69,296.00 L183.63,296.13 L184.58,296.29 L185.53,296.47 L186.47,296.68 L187.41,296.92 L188.36,297.20 L189.31,297.52 L190.25,297.88 L191.19,298.28 L192.14,298.72 L193.08,299.22 L194.03,299.77 L194.97,300.37 L195.92,301.02 L196.86,301.92 L197.81,302.90 L198.75,303.97 L199.70,305.13 L200.64,306.38 L201.59,307.73 L202.53,309.16 L203.48,310.69 L204.42,312.31 L205.37,313.99 L206.31,315.73 L207.26,317.51 L208.20,319.32 L209.15,321.13 L210.09,322.94 L211.04,324.72 L211.98,326.47 L212.93,328.17 L213.88,329.80 L214.82,331.37 L215.76,333.01 L216.71,334.54 L217.66,335.98 L218.60,337.30 L219.54,338.50 L220.49,339.57 L221.44,340.51 L222.38,341.32 L223.32,342.01 L224.27,342.60 L225.22,343.09 L226.16,343.50 L227.10,343.83 L228.05,344.11 L229.00,344.33 L229.94,344.52 L230.88,344.68 L231.83,344.80 L232.77,344.91 L233.72,344.99 L234.66,345.06 L235.61,345.11 L236.55,345.16 L237.50,345.20" stroke="#f00"/>
<path d="M48.50,289.46 L49.45,292.93 L50.39,296.38 L51.34,299.81 L52.28,303.18 L53.23,306.50 L54.17,309.73 L55.12,312.87 L56.06,315.91 L57.00,318.81 L57.95,321.58 L58.89,324.19 L59.84,326.62 L60.78,328.87 L61.73,330.95 L62.67,332.88 L63.62,334.68 L64.56,336.37 L65.51,337.97 L66.45,339.50 L67.40,340.98 L68.34,342.43 L69.29,343.84 L70.23,345.22 L71.18,346.56 L72.12,347.86 L73.07,349.12 L74.02,350.33 L74.96,351.49 L75.91,352.60 L76.85,353.64 L77.80,354.49 L78.74,355.30 L79.69,356.06 L80.63,356.79 L81.57,357.47 L82.52,358.12 L83.47,358.74 L84.41,359.33 L85.35,359.88 L86.30,360.40 L87.25,360.89 L88.19,361.35 L89.13,361.79 L90.08,362.18 L91.03,362.54 L91.97,362.85 L92.91,363.10 L93.86,363.29 L94.81,363.42 L95.75,363.46 L96.69,363.41 L97.64,363.22 L98.59,362.88 L99.53,362.39 L100.47,361.74 L101.42,360.93 L102.36,359.97 L103.31,358.85 L104.25,357.57 L105.20,356.14 L106.14,354.55 L107.09,352.82 L108.03,350.93 L108.98,348.89 L109.92,346.77 L110.87,344.54 L111.81,342.21 L112.76,339.80 L113.70,337.33 L114.65,334.80 L115.59,332.24 L116.54,329.66 L117.48,327.07 L118.43,324.49 L119.38,321.94 L120.32,319.44 L121.27,316.99 L122.21,314.62 L123.16,312.35 L124.10,310.19 L125.05,307.96 L125.99,305.91 L126.94,304.06 L127.88,302.37 L128.82,300.85 L129.77,299.48 L130.71,298.23 L131.66,297.10 L132.60,296.07 L133.55,295.12 L134.50,294.24 L135.44,293.43 L136.38,292.67 L137.33,291.98 L138.27,291.36 L139.22,290.81 L140.16,290.38 L141.11,290.01 L142.06,289.71 L143.00,289.46 L143.94,289.29 L144.89,289.17 L145.83,289.12 L146.78,289.13 L147.72,289.19 L148.67,289.31 L149.62,289.49 L150.56,289.71 L151.50,289.99 L152.45,290.31 L153.39,290.67 L154.34,291.08 L155.28,291.51 L156.23,291.95 L157.18,292.41 L158.12,292.87 L159.06,293.32 L160.01,293.75 L160.95,294.16 L161.90,294.53 L162.84,294.86 L163.79,295.14 L164.74,295.39 L165.68,295.60 L166.62,295.78 L167.57,295.92 L168.51,296.03 L169.46,296.12 L170.40,296.18 L171.35,296.22 L172.29,296.24 L173.24,296.24 L174.19,296.24 L175.13,296.22 L176.07,296.20 L177.02,296.19 L177.97,296.18 L178.91,296.17 L179.85,296.18 L180.80,296.19 L181.75,296.22 L182.69,296.27 L183.63,296.33 L184.58,296.41 L185.53,296.52 L186.47,296.66 L187.41,296.83 L188.36,297.04 L189.31,297.29 L190.25,297.57 L191.19,297.90 L192.14,298.29 L193.08,298.72 L194.03,299.21 L194.97,299.75 L195.92,300.35 L196.86,301.19 L197.81,302.13 L198.75,303.16 L199.70,304.29 L200.64,305.53 L201.59,306.87 L202.53,308.31 L203.48,309.86 L204.42,311.52 L205.37,313.25 L206.31,315.04 L207.26,316.88 L208.20,318.75 L209.15,320.62 L210.09,322.49 L211.04,324.33 L211.98,326.13 L212.93,327.86 L213.88,329.53 L214.82,331.13 L215.76,332.78 L216.71,334.33 L217.66,335.77 L218.60,337.11 L219.54,338.32 L220.49,339.40 L221.44,340.36 L222.38,341.18 L223.32,341.90 L224.27,342.50 L225.22,343.01 L226.16,343.44 L227.10,343.80 L228.05,344.09 L229.00,344.33 L229.94,344.53 L230.88,344.69 L231.83,344.82 L232.77,344.93 L233.72,345.01 L234.66,345.07 L235.61,345.12 L236.55,345.16 L237.50,345.20" stroke="#0f0"/>
<path d="M48.50,302.97 L49.45,305.21 L50.39,307.44 L51.34,309.68 L52.28,311.93 L53.23,314.20 L54.17,316.49 L55.12,318.79 L56.06,321.10 L57.00,323.39 L57.95,325.65 L58.89,327.86 L59.84,330.00 L60.78,332.05 L61.73,334.01 L62.67,335.87 L63.62,337.62 L64.56,339.27 L65.51,340.81 L66.45,342.22 L67.40,343.51 L68.34,344.68 L69.29,345.73 L70.23,346.68 L71.18,347.56 L72.12,348.36 L73.07,349.12 L74.02,349.84 L74.96,350.54 L75.91,351.24 L76.85,351.96 L77.80,352.58 L78.74,353.22 L79.69,353.86 L80.63,354.51 L81.57,355.14 L82.52,355.76 L83.47,356.36 L84.41,356.94 L85.35,357.47 L86.30,357.97 L87.25,358.41 L88.19,358.80 L89.13,359.13 L90.08,359.39 L91.03,359.61 L91.97,359.77 L92.91,359.88 L93.86,359.94 L94.81,359.96 L95.75,359.93 L96.69,359.85 L97.64,359.72 L98.59,359.53 L99.53,359.30 L100.47,359.00 L101.42,358.61 L102.36,358.13 L103.31,357.52 L104.25,356.76 L105.20,355.85 L106.14,354.76 L107.09,353.47 L108.03,351.97 L108.98,350.25 L109.92,348.38 L110.87,346.35 L111.81,344.19 L112.76,341.92 L113.70,339.55 L114.65,337.13 L115.59,334.66 L116.54,332.17 L117.48,329.69 L118.43,327.23 L119.38,324.80 L120.32,322.41 L121.27,320.08 L122.21,317.82 L123.16,315.63 L124.10,313.53 L125.05,311.34 L125.99,309.29 L126.94,307.38 L127.88,305.62 L128.82,303.99 L129.77,302.49 L130.71,301.12 L131.66,299.87 L132.60,298.73 L133.55,297.69 L134.50,296.76 L135.44,295.93 L136.38,295.19 L137.33,294.52 L138.27,293.93 L139.22,293.41 L140.16,293.00 L141.11,292.63 L142.06,292.30 L143.00,292.00 L143.94,291.73 L144.89,291.49 L145.83,291.28 L146.78,291.12 L147.72,290.99 L148.67,290.92 L149.62,290.89 L150.56,290.92 L151.50,291.00 L152.45,291.15 L153.39,291.36 L154.34,291.63 L155.28,291.94 L156.23,292.29 L157.18,292.66 L158.12,293.04 L159.06,293.43 L160.01,293.82 L160.95,294.19 L161.90,294.53 L162.84,294.84 L163.79,295.11 L164.74,295.35 L165.68,295.56 L166.62,295.74 L167.57,295.89 L168.51,296.01 L169.46,296.10 L170.40,296.17 L171.35,296.22 L172.29,296.24 L173.24,296.25 L174.19,296.25 L175.13,296.23 L176.07,296.21 L177.02,296.20 L177.97,296.18 L178.91,296.18 L179.85,296.18 L180.80,296.20 L181.75,296.22 L182.69,296.27 L183.63,296.33 L184.58,296.41 L185.53,296.52 L186.47,296.66 L187.41,296.83 L188.36,297.04 L189.31,297.28 L190.25,297.57 L191.19,297.90 L192.14,298.29 L193.08,298.72 L194.03,299.21 L194.97,299.75 L195.92,300.35 L196.86,301.19 L197.81,302.13 L198.75,303.16 L199.70,304.29 L200.64,305.53 L201.59,306.87 L202.53,308.31 L203.48,309.86 L204.42,311.52 L205.37,313.25 L206.31,315.04 L207.26,316.88 L208.20,318.75 L209.15,320.62 L210.09,322.49 L211.04,324.33 L211.98,326.13 L212.93,327.86 L213.88,329.53 L214.82,331.13 L215.76,332.78 L216.71,334.33 L217.66,335.77 L218.60,337.11 L219.54,338.32 L220.49,339.40 L221.44,340.36 L222.38,341.18 L223.32,341.90 L224.27,342.50 L225.22,343.01 L226.16,343.44 L227.10,343.80 L228.05,344.09 L229.00,344.33 L229.94,344.53 L230.88,344.69 L231.83,344.82 L232.77,344.93 L233.72,345.01 L234.66,345.07 L235.61,345.12 L236.55,345.16 L237.50,345.20" stroke="#ff0"/>
<path d="M48.50,284.40 L49.45,288.48 L50.39,292.55 L51.34,296.56 L52.28,300.50 L53.23,304.33 L54.17,308.04 L55.12,311.60 L56.06,314.99 L57.00,318.21 L57.95,321.22 L58.89,324.03 L59.84,326.62 L60.78,328.98 L61.73,331.14 L62.67,333.13 L63.62,334.99 L64.56,336.75 L65.51,338.45 L66.45,340.13 L67.40,341.82 L68.34,343.55 L69.29,345.30 L70.23,347.06 L71.18,348.80 L72.12,350.51 L73.07,352.17 L74.02,353.76 L74.96,355.25 L75.91,356.62 L76.85,357.87 L77.80,358.81 L78.74,359.65 L79.69,360.40 L80.63,361.07 L81.57,361.67 L82.52,362.21 L83.47,362.69 L84.41,363.14 L85.35,363.56 L86.30,363.95 L87.25,364.33 L88.19,364.71 L89.13,365.10 L90.08,365.47 L91.03,365.83 L91.97,366.15 L92.91,366.43 L93.86,366.65 L94.81,366.80 L95.75,366.87 L96.69,366.84 L97.64,366.64 L98.59,366.25 L99.53,365.67 L100.47,364.90 L101.42,363.94 L102.36,362.79 L103.31,361.47 L104.25,359.99 L105.20,358.34 L106.14,356.54 L107.09,354.60 L108.03,352.51 L108.98,350.30 L109.92,348.03 L110.87,345.66 L111.81,343.22 L112.76,340.72 L113.70,338.18 L114.65,335.62 L115.59,333.05 L116.54,330.50 L117.48,327.96 L118.43,325.47 L119.38,323.02 L120.32,320.63 L121.27,318.30 L122.21,316.04 L123.16,313.87 L124.10,311.79 L125.05,309.63 L125.99,307.60 L126.94,305.72 L127.88,303.97 L128.82,302.36 L129.77,300.87 L130.71,299.49 L131.66,298.23 L132.60,297.08 L133.55,296.03 L134.50,295.06 L135.44,294.19 L136.38,293.41 L137.33,292.71 L138.27,292.09 L139.22,291.56 L140.16,291.15 L141.11,290.81 L142.06,290.53 L143.00,290.31 L143.94,290.15 L144.89,290.04 L145.83,290.00 L146.78,290.00 L147.72,290.07 L148.67,290.18 L149.62,290.35 L150.56,290.57 L151.50,290.84 L152.45,291.15 L153.39,291.51 L154.34,291.91 L155.28,292.34 L156.23,292.79 L157.18,293.24 L158.12,293.70 L159.06,294.15 L160.01,294.59 L160.95,295.00 L161.90,295.37 L162.84,295.71 L163.79,296.00 L164.74,296.25 L165.68,296.47 L166.62,296.64 L167.57,296.79 L168.51,296.90 L169.46,296.98 L170.40,297.04 L171.35,297.06 L172.29,297.07 L173.24,297.05 L174.19,297.03 L175.13,296.99 L176.07,296.97 L177.02,296.94 L177.97,296.94 L178.91,296.94 L179.85,296.96 L180.80,297.01 L181.75,297.07 L182.69,297.17 L183.63,297.29 L184.58,297.44 L185.53,297.63 L186.47,297.84 L187.41,298.09 L188.36,298.38 L189.31,298.71 L190.25,299.07 L191.19,299.47 L192.14,299.92 L193.08,300.40 L194.03,300.94 L194.97,301.51 L195.92,302.14 L196.86,303.00 L197.81,303.94 L198.75,304.97 L199.70,306.08 L200.64,307.30 L201.59,308.60 L202.53,310.01 L203.48,311.53 L204.42,313.14 L205.37,314.82 L206.31,316.57 L207.26,318.36 L208.20,320.17 L209.15,321.99 L210.09,323.80 L211.04,325.58 L211.98,327.32 L212.93,328.99 L213.88,330.59 L214.82,332.11 L215.76,333.69 L216.71,335.16 L217.66,336.53 L218.60,337.78 L219.54,338.92 L220.49,339.93 L221.44,340.81 L222.38,341.56 L223.32,342.20 L224.27,342.74 L225.22,343.19 L226.16,343.57 L227.10,343.87 L228.05,344.13 L229.00,344.33 L229.94,344.51 L230.88,344.66 L231.83,344.78 L232.77,344.88 L233.72,344.97 L234.66,345.04 L235.61,345.10 L236.55,345.15 L237.50,345.20" stroke="#00f"/>
<path d="M48.50,281.36 L49.45,285.69 L50.39,290.00 L51.34,294.24 L52.28,298.41 L53.23,302.45 L54.17,306.35 L55.12,310.08 L56.06,313.63 L57.00,316.98 L57.95,320.13 L58.89,323.07 L59.84,325.78 L60.78,328.26 L61.73,330.54 L62.67,332.64 L63.62,334.62 L64.56,336.49 L65.51,338.29 L66.45,340.06 L67.40,341.82 L68.34,343.61 L69.29,345.41 L70.23,347.20 L71.18,348.96 L72.12,350.67 L73.07,352.32 L74.02,353.89 L74.96,355.35 L75.91,356.68 L76.85,357.87 L77.80,358.75 L78.74,359.53 L79.69,360.22 L80.63,360.81 L81.57,361.34 L82.52,361.80 L83.47,362.21 L84.41,362.57 L85.35,362.91 L86.30,363.23 L87.25,363.54 L88.19,363.85 L89.13,364.17 L90.08,364.49 L91.03,364.80 L91.97,365.09 L92.91,365.34 L93.86,365.55 L94.81,365.71 L95.75,365.80 L96.69,365.82 L97.64,365.70 L98.59,365.43 L99.53,364.99 L100.47,364.39 L101.42,363.62 L102.36,362.67 L103.31,361.56 L104.25,360.28 L105.20,358.82 L106.14,357.19 L107.09,355.39 L108.03,353.41 L108.98,351.27 L109.92,349.03 L110.87,346.68 L111.81,344.23 L112.76,341.71 L113.70,339.14 L114.65,336.54 L115.59,333.94 L116.54,331.35 L117.48,328.79 L118.43,326.28 L119.38,323.82 L120.32,321.42 L121.27,319.10 L122.21,316.85 L123.16,314.69 L124.10,312.62 L125.05,310.47 L125.99,308.45 L126.94,306.57 L127.88,304.83 L128.82,303.22 L129.77,301.73 L130.71,300.35 L131.66,299.09 L132.60,297.93 L133.55,296.87 L134.50,295.91 L135.44,295.03 L136.38,294.24 L137.33,293.53 L138.27,292.91 L139.22,292.38 L140.16,291.97 L141.11,291.63 L142.06,291.36 L143.00,291.15 L143.94,291.01 L144.89,290.92 L145.83,290.89 L146.78,290.92 L147.72,290.99 L148.67,291.11 L149.62,291.28 L150.56,291.48 L151.50,291.72 L152.45,292.00 L153.39,292.30 L154.34,292.62 L155.28,292.96 L156.23,293.32 L157.18,293.68 L158.12,294.04 L159.06,294.40 L160.01,294.74 L160.95,295.07 L161.90,295.37 L162.84,295.65 L163.79,295.91 L164.74,296.13 L165.68,296.33 L166.62,296.51 L167.57,296.66 L168.51,296.79 L169.46,296.90 L170.40,296.99 L171.35,297.06 L172.29,297.12 L173.24,297.16 L174.19,297.19 L175.13,297.21 L176.07,297.24 L177.02,297.28 L177.97,297.31 L178.91,297.36 L179.85,297.42 L180.80,297.49 L181.75,297.58 L182.69,297.70 L183.63,297.83 L184.58,297.99 L185.53,298.18 L186.47,298.39 L187.41,298.64 L188.36,298.92 L189.31,299.24 L190.25,299.60 L191.19,299.99 L192.14,300.43 L193.08,300.91 L194.03,301.44 L194.97,302.02 L195.92,302.64 L196.86,303.50 L197.81,304.44 L198.75,305.47 L199.70,306.59 L200.64,307.80 L201.59,309.11 L202.53,310.52 L203.48,312.03 L204.42,313.64 L205.37,315.31 L206.31,317.05 L207.26,318.82 L208.20,320.62 L209.15,322.42 L210.09,324.20 L211.04,325.96 L211.98,327.66 L212.93,329.29 L213.88,330.86 L214.82,332.34 L215.76,333.87 L216.71,335.30 L217.66,336.63 L218.60,337.85 L219.54,338.95 L220.49,339.93 L221.44,340.79 L222.38,341.53 L223.32,342.17 L224.27,342.71 L225.22,343.17 L226.16,343.55 L227.10,343.86 L228.05,344.12 L229.00,344.33 L229.94,344.51 L230.88,344.66 L231.83,344.79 L232.77,344.89 L233.72,344.98 L234.66,345.04 L235.61,345.10 L236.55,345.15 L237.50,345.20" stroke="#f0f"/>
<path d="M48.50,306.35 L49.45,308.22 L50.39,310.10 L51.34,312.02 L52.28,313.99 L53.23,316.04 L54.17,318.18 L55.12,320.41 L56.06,322.71 L57.00,325.03 L57.95,327.33 L58.89,329.56 L59.84,331.69 L60.78,333.67 L61.73,335.51 L62.67,337.23 L63.62,338.83 L64.56,340.33 L65.51,341.74 L66.45,343.08 L67.40,344.36 L68.34,345.58 L69.29,346.76 L70.23,347.88 L71.18,348.96 L72.12,350.00 L73.07,350.98 L74.02,351.93 L74.96,352.82 L75.91,353.68 L76.85,354.49 L77.80,355.15 L78.74,355.77 L79.69,356.37 L80.63,356.93 L81.57,357.47 L82.52,357.98 L83.47,358.46 L84.41,358.92 L85.35,359.35 L86.30,359.75 L87.25,360.13 L88.19,360.48 L89.13,360.81 L90.08,361.11 L91.03,361.38 L91.97,361.62 L92.91,361.82 L93.86,361.99 L94.81,362.11 L95.75,362.19 L96.69,362.23 L97.64,362.19 L98.59,362.07 L99.53,361.87 L100.47,361.56 L101.42,361.14 L102.36,360.59 L103.31,359.88 L104.25,359.01 L105.20,357.96 L106.14,356.71 L107.09,355.25 L108.03,353.56 L108.98,351.64 L109.92,349.57 L110.87,347.34 L111.81,344.98 L112.76,342.52 L113.70,339.98 L114.65,337.39 L115.59,334.79 L116.54,332.19 L117.48,329.63 L118.43,327.11 L119.38,324.65 L120.32,322.26 L121.27,319.93 L122.21,317.68 L123.16,315.52 L124.10,313.46 L125.05,311.31 L125.99,309.30 L126.94,307.42 L127.88,305.68 L128.82,304.07 L129.77,302.58 L130.71,301.20 L131.66,299.94 L132.60,298.78 L133.55,297.72 L134.50,296.75 L135.44,295.87 L136.38,295.08 L137.33,294.37 L138.27,293.75 L139.22,293.22 L140.16,292.82 L141.11,292.48 L142.06,292.20 L143.00,292.00 L143.94,291.85 L144.89,291.77 L145.83,291.74 L146.78,291.77 L147.72,291.85 L148.67,291.97 L149.62,292.13 L150.56,292.34 L151.50,292.57 L152.45,292.84 L153.39,293.14 L154.34,293.45 L155.28,293.79 L156.23,294.13 L157.18,294.49 L158.12,294.85 L159.06,295.21 L160.01,295.56 L160.95,295.90 L161.90,296.22 L162.84,296.52 L163.79,296.81 L164.74,297.07 L165.68,297.30 L166.62,297.52 L167.57,297.71 L168.51,297.88 L169.46,298.03 L170.40,298.15 L171.35,298.25 L172.29,298.32 L173.24,298.37 L174.19,298.41 L175.13,298.44 L176.07,298.46 L177.02,298.49 L177.97,298.52 L178.91,298.56 L179.85,298.61 L180.80,298.68 L181.75,298.76 L182.69,298.87 L183.63,299.00 L184.58,299.16 L185.53,299.34 L186.47,299.55 L187.41,299.80 L188.36,300.08 L189.31,300.40 L190.25,300.76 L191.19,301.16 L192.14,301.60 L193.08,302.09 L194.03,302.63 L194.97,303.22 L195.92,303.85 L196.86,304.72 L197.81,305.68 L198.75,306.71 L199.70,307.83 L200.64,309.04 L201.59,310.33 L202.53,311.72 L203.48,313.19 L204.42,314.75 L205.37,316.37 L206.31,318.03 L207.26,319.74 L208.20,321.45 L209.15,323.17 L210.09,324.88 L211.04,326.55 L211.98,328.17 L212.93,329.73 L213.88,331.22 L214.82,332.64 L215.76,334.11 L216.71,335.48 L217.66,336.75 L218.60,337.92 L219.54,338.98 L220.49,339.94 L221.44,340.78 L222.38,341.51 L223.32,342.14 L224.27,342.68 L225.22,343.13 L226.16,343.52 L227.10,343.84 L228.05,344.11 L229.00,344.33 L229.94,344.52 L230.88,344.67 L231.83,344.80 L232.77,344.90 L233.72,344.99 L234.66,345.05 L235.61,345.11 L236.55,345.16 L237.50,345.20" stroke="#0ff"/>
<path d="M48.50,323.24 L49.45,322.77 L50.39,322.36 L51.34,322.06 L52.28,321.93 L53.23,322.02 L54.17,322.40 L55.12,323.09 L56.06,324.08 L57.00,325.31 L57.95,326.73 L58.89,328.31 L59.84,330.00 L60.78,331.75 L61.73,333.53 L62.67,335.32 L63.62,337.10 L64.56,338.83 L65.51,340.49 L66.45,342.06 L67.40,343.51 L68.34,344.82 L69.29,346.00 L70.23,347.07 L71.18,348.04 L72.12,348.93 L73.07,349.76 L74.02,350.55 L74.96,351.30 L75.91,352.05 L76.85,352.80 L77.80,353.45 L78.74,354.11 L79.69,354.78 L80.63,355.43 L81.57,356.08 L82.52,356.70 L83.47,357.30 L84.41,357.86 L85.35,358.39 L86.30,358.86 L87.25,359.28 L88.19,359.63 L89.13,359.92 L90.08,360.15 L91.03,360.33 L91.97,360.45 L92.91,360.53 L93.86,360.58 L94.81,360.59 L95.75,360.57 L96.69,360.53 L97.64,360.46 L98.59,360.39 L99.53,360.31 L100.47,360.20 L101.42,360.02 L102.36,359.76 L103.31,359.36 L104.25,358.82 L105.20,358.09 L106.14,357.16 L107.09,355.98 L108.03,354.52 L108.98,352.81 L109.92,350.89 L110.87,348.78 L111.81,346.51 L112.76,344.11 L113.70,341.61 L114.65,339.05 L115.59,336.47 L116.54,333.88 L117.48,331.32 L118.43,328.82 L119.38,326.36 L120.32,323.97 L121.27,321.65 L122.21,319.40 L123.16,317.24 L124.10,315.17 L125.05,313.01 L125.99,310.98 L126.94,309.08 L127.88,307.31 L128.82,305.65 L129.77,304.10 L130.71,302.64 L131.66,301.26 L132.60,299.95 L133.55,298.71 L134.50,297.52 L135.44,296.38 L136.38,295.30 L137.33,294.32 L138.27,293.43 L139.22,292.66 L140.16,292.10 L141.11,291.65 L142.06,291.33 L143.00,291.15 L143.94,291.13 L144.89,291.24 L145.83,291.48 L146.78,291.83 L147.72,292.27 L148.67,292.79 L149.62,293.38 L150.56,294.02 L151.50,294.69 L152.45,295.37 L153.39,296.07 L154.34,296.76 L155.28,297.44 L156.23,298.10 L157.18,298.74 L158.12,299.34 L159.06,299.91 L160.01,300.42 L160.95,300.89 L161.90,301.29 L162.84,301.62 L163.79,301.89 L164.74,302.10 L165.68,302.27 L166.62,302.39 L167.57,302.48 L168.51,302.54 L169.46,302.59 L170.40,302.61 L171.35,302.64 L172.29,302.66 L173.24,302.68 L174.19,302.72 L175.13,302.76 L176.07,302.81 L177.02,302.87 L177.97,302.93 L178.91,303.01 L179.85,303.10 L180.80,303.21 L181.75,303.33 L182.69,303.47 L183.63,303.63 L184.58,303.80 L185.53,304.00 L186.47,304.21 L187.41,304.45 L188.36,304.71 L189.31,304.99 L190.25,305.29 L191.19,305.61 L192.14,305.96 L193.08,306.33 L194.03,306.72 L194.97,307.14 L195.92,307.59 L196.86,308.21 L197.81,308.89 L198.75,309.64 L199.70,310.47 L200.64,311.39 L201.59,312.40 L202.53,313.51 L203.48,314.72 L204.42,316.04 L205.37,317.44 L206.31,318.90 L207.26,320.42 L208.20,321.97 L209.15,323.54 L210.09,325.11 L211.04,326.66 L211.98,328.18 L212.93,329.65 L213.88,331.06 L214.82,332.42 L215.76,333.83 L216.71,335.16 L217.66,336.41 L218.60,337.57 L219.54,338.63 L220.49,339.59 L221.44,340.46 L222.38,341.22 L223.32,341.89 L224.27,342.47 L225.22,342.97 L226.16,343.40 L227.10,343.77 L228.05,344.08 L229.00,344.33 L229.94,344.54 L230.88,344.71 L231.83,344.84 L232.77,344.95 L233.72,345.03 L234.66,345.09 L235.61,345.13 L236.55,345.17 L237.50,345.20" stroke="#000" stroke-dasharray="10.5 3.8"/>
<path d="M48.50,302.97 L49.45,305.55 L50.39,308.11 L51.34,310.66 L52.28,313.19 L53.23,315.70 L54.17,318.18 L55.12,320.61 L56.06,323.00 L57.00,325.31 L57.95,327.54 L58.89,329.67 L59.84,331.69 L60.78,333.58 L61.73,335.35 L62.67,337.02 L63.62,338.61 L64.56,340.12 L65.51,341.57 L66.45,342.98 L67.40,344.36 L68.34,345.71 L69.29,347.05 L70.23,348.36 L71.18,349.63 L72.12,350.87 L73.07,352.05 L74.02,353.18 L74.96,354.25 L75.91,355.25 L76.85,356.18 L77.80,356.91 L78.74,357.58 L79.69,358.20 L80.63,358.78 L81.57,359.31 L82.52,359.81 L83.47,360.26 L84.41,360.69 L85.35,361.09 L86.30,361.47 L87.25,361.83 L88.19,362.17 L89.13,362.50 L90.08,362.80 L91.03,363.09 L91.97,363.34 L92.91,363.56 L93.86,363.74 L94.81,363.87 L95.75,363.95 L96.69,363.98 L97.64,363.92 L98.59,363.75 L99.53,363.48 L100.47,363.08 L101.42,362.55 L102.36,361.88 L103.31,361.07 L104.25,360.09 L105.20,358.94 L106.14,357.62 L107.09,356.11 L108.03,354.40 L108.98,352.50 L109.92,350.47 L110.87,348.31 L111.81,346.04 L112.76,343.68 L113.70,341.26 L114.65,338.80 L115.59,336.32 L116.54,333.86 L117.48,331.42 L118.43,329.03 L119.38,326.68 L120.32,324.39 L121.27,322.16 L122.21,320.01 L123.16,317.92 L124.10,315.92 L125.05,313.82 L125.99,311.83 L126.94,309.97 L127.88,308.21 L128.82,306.56 L129.77,305.00 L130.71,303.53 L131.66,302.14 L132.60,300.82 L133.55,299.56 L134.50,298.36 L135.44,297.21 L136.38,296.14 L137.33,295.16 L138.27,294.27 L139.22,293.51 L140.16,292.95 L141.11,292.50 L142.06,292.18 L143.00,292.00 L143.94,291.96 L144.89,292.07 L145.83,292.29 L146.78,292.63 L147.72,293.07 L148.67,293.58 L149.62,294.17 L150.56,294.82 L151.50,295.50 L152.45,296.22 L153.39,296.95 L154.34,297.69 L155.28,298.44 L156.23,299.17 L157.18,299.89 L158.12,300.58 L159.06,301.25 L160.01,301.87 L160.95,302.45 L161.90,302.97 L162.84,303.44 L163.79,303.84 L164.74,304.20 L165.68,304.50 L166.62,304.75 L167.57,304.97 L168.51,305.15 L169.46,305.30 L170.40,305.41 L171.35,305.51 L172.29,305.58 L173.24,305.65 L174.19,305.71 L175.13,305.77 L176.07,305.85 L177.02,305.95 L177.97,306.05 L178.91,306.17 L179.85,306.32 L180.80,306.50 L181.75,306.72 L182.69,306.98 L183.63,307.27 L184.58,307.59 L185.53,307.95 L186.47,308.33 L187.41,308.73 L188.36,309.15 L189.31,309.58 L190.25,310.02 L191.19,310.48 L192.14,310.93 L193.08,311.39 L194.03,311.84 L194.97,312.29 L195.92,312.75 L196.86,313.35 L197.81,313.97 L198.75,314.62 L199.70,315.33 L200.64,316.09 L201.59,316.91 L202.53,317.81 L203.48,318.80 L204.42,319.87 L205.37,321.01 L206.31,322.20 L207.26,323.44 L208.20,324.71 L209.15,326.01 L210.09,327.31 L211.04,328.61 L211.98,329.89 L212.93,331.14 L213.88,332.36 L214.82,333.54 L215.76,334.78 L216.71,335.96 L217.66,337.07 L218.60,338.11 L219.54,339.07 L220.49,339.95 L221.44,340.74 L222.38,341.43 L223.32,342.05 L224.27,342.59 L225.22,343.05 L226.16,343.46 L227.10,343.80 L228.05,344.09 L229.00,344.33 L229.94,344.53 L230.88,344.70 L231.83,344.83 L232.77,344.93 L233.72,345.01 L234.66,345.08 L235.61,345.12 L236.55,345.16 L237.50,345.20" stroke="#f00" stroke-dasharray="10.5 3.8"/>
<path d="M48.50,304.66 L49.45,307.06 L50.39,309.46 L51.34,311.85 L52.28,314.25 L53.23,316.64 L54.17,319.02 L55.12,321.40 L56.06,323.75 L57.00,326.06 L57.95,328.30 L58.89,330.47 L59.84,332.53 L60.78,334.48 L61.73,336.32 L62.67,338.04 L63.62,339.66 L64.56,341.18 L65.51,342.61 L66.45,343.95 L67.40,345.20 L68.34,346.38 L69.29,347.48 L70.23,348.52 L71.18,349.49 L72.12,350.42 L73.07,351.30 L74.02,352.14 L74.96,352.95 L75.91,353.73 L76.85,354.49 L77.80,355.12 L78.74,355.75 L79.69,356.35 L80.63,356.94 L81.57,357.50 L82.52,358.03 L83.47,358.53 L84.41,359.00 L85.35,359.43 L86.30,359.82 L87.25,360.17 L88.19,360.47 L89.13,360.71 L90.08,360.92 L91.03,361.08 L91.97,361.20 L92.91,361.28 L93.86,361.34 L94.81,361.36 L95.75,361.37 L96.69,361.34 L97.64,361.30 L98.59,361.24 L99.53,361.16 L100.47,361.04 L101.42,360.85 L102.36,360.57 L103.31,360.17 L104.25,359.62 L105.20,358.89 L106.14,357.96 L107.09,356.80 L108.03,355.39 L108.98,353.72 L109.92,351.87 L110.87,349.84 L111.81,347.65 L112.76,345.35 L113.70,342.95 L114.65,340.50 L115.59,338.02 L116.54,335.55 L117.48,333.10 L118.43,330.70 L119.38,328.35 L120.32,326.06 L121.27,323.84 L122.21,321.68 L123.16,319.60 L124.10,317.60 L125.05,315.50 L125.99,313.52 L126.94,311.66 L127.88,309.91 L128.82,308.26 L129.77,306.71 L130.71,305.24 L131.66,303.84 L132.60,302.52 L133.55,301.25 L134.50,300.04 L135.44,298.89 L136.38,297.80 L137.33,296.80 L138.27,295.91 L139.22,295.14 L140.16,294.58 L141.11,294.14 L142.06,293.84 L143.00,293.69 L143.94,293.69 L144.89,293.84 L145.83,294.11 L146.78,294.49 L147.72,294.96 L148.67,295.49 L149.62,296.07 L150.56,296.68 L151.50,297.30 L152.45,297.91 L153.39,298.49 L154.34,299.05 L155.28,299.59 L156.23,300.11 L157.18,300.61 L158.12,301.10 L159.06,301.58 L160.01,302.05 L160.95,302.51 L161.90,302.97 L162.84,303.44 L163.79,303.89 L164.74,304.33 L165.68,304.76 L166.62,305.17 L167.57,305.55 L168.51,305.90 L169.46,306.21 L170.40,306.47 L171.35,306.69 L172.29,306.86 L173.24,306.98 L174.19,307.08 L175.13,307.16 L176.07,307.24 L177.02,307.33 L177.97,307.42 L178.91,307.53 L179.85,307.67 L180.80,307.85 L181.75,308.07 L182.69,308.34 L183.63,308.66 L184.58,309.02 L185.53,309.41 L186.47,309.84 L187.41,310.30 L188.36,310.78 L189.31,311.28 L190.25,311.80 L191.19,312.33 L192.14,312.87 L193.08,313.41 L194.03,313.95 L194.97,314.49 L195.92,315.04 L196.86,315.73 L197.81,316.44 L198.75,317.17 L199.70,317.92 L200.64,318.70 L201.59,319.52 L202.53,320.37 L203.48,321.27 L204.42,322.22 L205.37,323.20 L206.31,324.21 L207.26,325.26 L208.20,326.32 L209.15,327.41 L210.09,328.51 L211.04,329.63 L211.98,330.75 L212.93,331.86 L213.88,332.98 L214.82,334.07 L215.76,335.24 L216.71,336.38 L217.66,337.46 L218.60,338.48 L219.54,339.42 L220.49,340.29 L221.44,341.06 L222.38,341.75 L223.32,342.34 L224.27,342.86 L225.22,343.31 L226.16,343.69 L227.10,344.01 L228.05,344.28 L229.00,344.50 L229.94,344.68 L230.88,344.83 L231.83,344.94 L232.77,345.02 L233.72,345.09 L234.66,345.13 L235.61,345.16 L236.55,345.18 L237.50,345.20" stroke="#0f0" stroke-dasharray="10.5 3.8"/>
<path d="M48.50,308.04 L49.45,310.25 L50.39,312.47 L51.34,314.70 L52.28,316.96 L53.23,319.24 L54.17,321.55 L55.12,323.90 L56.06,326.26 L57.00,328.59 L57.95,330.86 L58.89,333.03 L59.84,335.07 L60.78,336.94 L61.73,338.66 L62.67,340.23 L63.62,341.65 L64.56,342.94 L65.51,344.09 L66.45,345.13 L67.40,346.04 L68.34,346.86 L69.29,347.57 L70.23,348.22 L71.18,348.80 L72.12,349.34 L73.07,349.85 L74.02,350.36 L74.96,350.86 L75.91,351.39 L76.85,351.96 L77.80,352.47 L78.74,353.02 L79.69,353.59 L80.63,354.16 L81.57,354.74 L82.52,355.31 L83.47,355.85 L84.41,356.37 L85.35,356.84 L86.30,357.27 L87.25,357.63 L88.19,357.93 L89.13,358.16 L90.08,358.32 L91.03,358.43 L91.97,358.49 L92.91,358.53 L93.86,358.54 L94.81,358.54 L95.75,358.55 L96.69,358.57 L97.64,358.62 L98.59,358.73 L99.53,358.90 L100.47,359.09 L101.42,359.27 L102.36,359.38 L103.31,359.39 L104.25,359.25 L105.20,358.92 L106.14,358.36 L107.09,357.52 L108.03,356.36 L108.98,354.90 L109.92,353.18 L110.87,351.25 L111.81,349.13 L112.76,346.87 L113.70,344.51 L114.65,342.09 L115.59,339.65 L116.54,337.22 L117.48,334.85 L118.43,332.55 L119.38,330.32 L120.32,328.15 L121.27,326.04 L122.21,324.00 L123.16,322.01 L124.10,320.08 L125.05,318.03 L125.99,316.05 L126.94,314.14 L127.88,312.29 L128.82,310.53 L129.77,308.84 L130.71,307.23 L131.66,305.71 L132.60,304.29 L133.55,302.96 L134.50,301.73 L135.44,300.61 L136.38,299.60 L137.33,298.71 L138.27,297.94 L139.22,297.31 L140.16,296.86 L141.11,296.53 L142.06,296.31 L143.00,296.22 L143.94,296.25 L144.89,296.40 L145.83,296.66 L146.78,297.00 L147.72,297.44 L148.67,297.94 L149.62,298.50 L150.56,299.11 L151.50,299.76 L152.45,300.44 L153.39,301.13 L154.34,301.84 L155.28,302.55 L156.23,303.26 L157.18,303.96 L158.12,304.65 L159.06,305.32 L160.01,305.98 L160.95,306.60 L161.90,307.20 L162.84,307.76 L163.79,308.28 L164.74,308.77 L165.68,309.22 L166.62,309.65 L167.57,310.05 L168.51,310.43 L169.46,310.78 L170.40,311.11 L171.35,311.42 L172.29,311.71 L173.24,311.99 L174.19,312.26 L175.13,312.51 L176.07,312.76 L177.02,313.00 L177.97,313.20 L178.91,313.39 L179.85,313.59 L180.80,313.78 L181.75,313.98 L182.69,314.18 L183.63,314.39 L184.58,314.60 L185.53,314.83 L186.47,315.07 L187.41,315.32 L188.36,315.60 L189.31,315.89 L190.25,316.20 L191.19,316.54 L192.14,316.91 L193.08,317.30 L194.03,317.73 L194.97,318.18 L195.92,318.66 L196.86,319.30 L197.81,319.98 L198.75,320.69 L199.70,321.43 L200.64,322.19 L201.59,322.98 L202.53,323.78 L203.48,324.60 L204.42,325.42 L205.37,326.26 L206.31,327.11 L207.26,327.97 L208.20,328.85 L209.15,329.73 L210.09,330.63 L211.04,331.53 L211.98,332.45 L212.93,333.38 L213.88,334.31 L214.82,335.24 L215.76,336.24 L216.71,337.22 L217.66,338.15 L218.60,339.05 L219.54,339.88 L220.49,340.65 L221.44,341.34 L222.38,341.95 L223.32,342.49 L224.27,342.97 L225.22,343.38 L226.16,343.74 L227.10,344.04 L228.05,344.29 L229.00,344.50 L229.94,344.68 L230.88,344.82 L231.83,344.93 L232.77,345.01 L233.72,345.07 L234.66,345.12 L235.61,345.15 L236.55,345.18 L237.50,345.20" stroke="#ff0" stroke-dasharray="10.5 3.8"/>
<path d="M48.50,323.24 L49.45,321.99 L50.39,320.83 L51.34,319.86 L52.28,319.17 L53.23,318.86 L54.17,319.02 L55.12,319.72 L56.06,320.88 L57.00,322.42 L57.95,324.24 L58.89,326.23 L59.84,328.31 L60.78,330.38 L61.73,332.43 L62.67,334.44 L63.62,336.40 L64.56,338.30 L65.51,340.12 L66.45,341.86 L67.40,343.51 L68.34,345.05 L69.29,346.50 L70.23,347.85 L71.18,349.12 L72.12,350.30 L73.07,351.42 L74.02,352.48 L74.96,353.48 L75.91,354.43 L76.85,355.33 L77.80,356.08 L78.74,356.80 L79.69,357.48 L80.63,358.14 L81.57,358.77 L82.52,359.37 L83.47,359.93 L84.41,360.46 L85.35,360.95 L86.30,361.40 L87.25,361.81 L88.19,362.17 L89.13,362.50 L90.08,362.78 L91.03,363.02 L91.97,363.23 L92.91,363.40 L93.86,363.54 L94.81,363.65 L95.75,363.72 L96.69,363.78 L97.64,363.79 L98.59,363.77 L99.53,363.72 L100.47,363.59 L101.42,363.38 L102.36,363.04 L103.31,362.56 L104.25,361.90 L105.20,361.04 L106.14,359.95 L107.09,358.59 L108.03,356.96 L108.98,355.04 L109.92,352.93 L110.87,350.65 L111.81,348.22 L112.76,345.70 L113.70,343.13 L114.65,340.55 L115.59,338.00 L116.54,335.54 L117.48,333.18 L118.43,330.95 L119.38,328.83 L120.32,326.82 L121.27,324.90 L122.21,323.06 L123.16,321.30 L124.10,319.62 L125.05,317.83 L125.99,316.11 L126.94,314.44 L127.88,312.82 L128.82,311.27 L129.77,309.78 L130.71,308.36 L131.66,307.02 L132.60,305.75 L133.55,304.56 L134.50,303.46 L135.44,302.46 L136.38,301.56 L137.33,300.79 L138.27,300.17 L139.22,299.70 L140.16,299.44 L141.11,299.33 L142.06,299.37 L143.00,299.60 L143.94,300.00 L144.89,300.56 L145.83,301.25 L146.78,302.03 L147.72,302.89 L148.67,303.78 L149.62,304.69 L150.56,305.58 L151.50,306.43 L152.45,307.20 L153.39,307.87 L154.34,308.45 L155.28,308.96 L156.23,309.40 L157.18,309.78 L158.12,310.13 L159.06,310.46 L160.01,310.77 L160.95,311.09 L161.90,311.42 L162.84,311.78 L163.79,312.16 L164.74,312.56 L165.68,312.98 L166.62,313.41 L167.57,313.85 L168.51,314.30 L169.46,314.75 L170.40,315.20 L171.35,315.64 L172.29,316.08 L173.24,316.51 L174.19,316.94 L175.13,317.36 L176.07,317.77 L177.02,318.19 L177.97,318.53 L178.91,318.87 L179.85,319.22 L180.80,319.56 L181.75,319.91 L182.69,320.26 L183.63,320.61 L184.58,320.97 L185.53,321.32 L186.47,321.67 L187.41,322.03 L188.36,322.38 L189.31,322.73 L190.25,323.07 L191.19,323.41 L192.14,323.74 L193.08,324.06 L194.03,324.38 L194.97,324.69 L195.92,325.00 L196.86,325.40 L197.81,325.79 L198.75,326.21 L199.70,326.64 L200.64,327.09 L201.59,327.58 L202.53,328.10 L203.48,328.67 L204.42,329.27 L205.37,329.92 L206.31,330.59 L207.26,331.29 L208.20,332.01 L209.15,332.75 L210.09,333.50 L211.04,334.25 L211.98,335.00 L212.93,335.75 L213.88,336.48 L214.82,337.20 L215.76,337.97 L216.71,338.72 L217.66,339.43 L218.60,340.12 L219.54,340.76 L220.49,341.36 L221.44,341.91 L222.38,342.41 L223.32,342.87 L224.27,343.28 L225.22,343.64 L226.16,343.96 L227.10,344.24 L228.05,344.48 L229.00,344.67 L229.94,344.83 L230.88,344.95 L231.83,345.05 L232.77,345.11 L233.72,345.16 L234.66,345.18 L235.61,345.20 L236.55,345.20 L237.50,345.20" stroke="#00f" stroke-dasharray="10.5 3.8"/>
<path d="M48.50,326.62 L49.45,325.23 L50.39,323.94 L51.34,322.83 L52.28,322.00 L53.23,321.55 L54.17,321.55 L55.12,322.09 L56.06,323.09 L57.00,324.47 L57.95,326.14 L58.89,328.02 L59.84,330.00 L60.78,332.02 L61.73,334.03 L62.67,336.00 L63.62,337.91 L64.56,339.73 L65.51,341.43 L66.45,342.98 L67.40,344.36 L68.34,345.53 L69.29,346.53 L70.23,347.37 L71.18,348.08 L72.12,348.69 L73.07,349.22 L74.02,349.70 L74.96,350.16 L75.91,350.62 L76.85,351.11 L77.80,351.56 L78.74,352.04 L79.69,352.54 L80.63,353.05 L81.57,353.56 L82.52,354.05 L83.47,354.53 L84.41,354.97 L85.35,355.37 L86.30,355.72 L87.25,356.01 L88.19,356.22 L89.13,356.36 L90.08,356.44 L91.03,356.48 L91.97,356.48 L92.91,356.47 L93.86,356.46 L94.81,356.45 L95.75,356.48 L96.69,356.58 L97.64,356.76 L98.59,357.07 L99.53,357.50 L100.47,358.02 L101.42,358.55 L102.36,359.06 L103.31,359.47 L104.25,359.73 L105.20,359.80 L106.14,359.60 L107.09,359.08 L108.03,358.19 L108.98,356.93 L109.92,355.38 L110.87,353.59 L111.81,351.60 L112.76,349.46 L113.70,347.23 L114.65,344.97 L115.59,342.72 L116.54,340.55 L117.48,338.49 L118.43,336.55 L119.38,334.71 L120.32,332.95 L121.27,331.26 L122.21,329.62 L123.16,328.01 L124.10,326.40 L125.05,324.64 L125.99,322.84 L126.94,321.00 L127.88,319.17 L128.82,317.37 L129.77,315.64 L130.71,314.03 L131.66,312.57 L132.60,311.31 L133.55,310.27 L134.50,309.51 L135.44,309.03 L136.38,308.79 L137.33,308.76 L138.27,308.90 L139.22,309.16 L140.16,309.48 L141.11,309.83 L142.06,310.21 L143.00,310.58 L143.94,310.91 L144.89,311.22 L145.83,311.51 L146.78,311.79 L147.72,312.08 L148.67,312.39 L149.62,312.72 L150.56,313.08 L151.50,313.49 L152.45,313.95 L153.39,314.48 L154.34,315.06 L155.28,315.68 L156.23,316.32 L157.18,316.97 L158.12,317.61 L159.06,318.24 L160.01,318.83 L160.95,319.38 L161.90,319.87 L162.84,320.28 L163.79,320.63 L164.74,320.93 L165.68,321.18 L166.62,321.40 L167.57,321.60 L168.51,321.79 L169.46,321.98 L170.40,322.18 L171.35,322.40 L172.29,322.65 L173.24,322.93 L174.19,323.23 L175.13,323.56 L176.07,323.90 L177.02,324.26 L177.97,324.56 L178.91,324.87 L179.85,325.18 L180.80,325.50 L181.75,325.81 L182.69,326.13 L183.63,326.44 L184.58,326.75 L185.53,327.05 L186.47,327.34 L187.41,327.63 L188.36,327.91 L189.31,328.18 L190.25,328.44 L191.19,328.69 L192.14,328.92 L193.08,329.14 L194.03,329.34 L194.97,329.53 L195.92,329.72 L196.86,329.94 L197.81,330.17 L198.75,330.40 L199.70,330.64 L200.64,330.91 L201.59,331.21 L202.53,331.55 L203.48,331.93 L204.42,332.36 L205.37,332.82 L206.31,333.32 L207.26,333.85 L208.20,334.39 L209.15,334.96 L210.09,335.54 L211.04,336.12 L211.98,336.70 L212.93,337.28 L213.88,337.85 L214.82,338.42 L215.76,339.02 L216.71,339.60 L217.66,340.17 L218.60,340.71 L219.54,341.23 L220.49,341.72 L221.44,342.18 L222.38,342.61 L223.32,343.00 L224.27,343.37 L225.22,343.70 L226.16,344.00 L227.10,344.26 L228.05,344.48 L229.00,344.67 L229.94,344.83 L230.88,344.95 L231.83,345.04 L232.77,345.10 L233.72,345.15 L234.66,345.18 L235.61,345.19 L236.55,345.20 L237.50,345.20" stroke="#f0f" stroke-dasharray="10.5 3.8"/>
<path d="M48.50,335.07 L49.45,333.48 L50.39,331.97 L51.34,330.62 L52.28,329.51 L53.23,328.71 L54.17,328.31 L55.12,328.36 L56.06,328.82 L57.00,329.62 L57.95,330.69 L58.89,331.97 L59.84,333.38 L60.78,334.86 L61.73,336.39 L62.67,337.95 L63.62,339.50 L64.56,341.02 L65.51,342.49 L66.45,343.90 L67.40,345.20 L68.34,346.39 L69.29,347.47 L70.23,348.46 L71.18,349.36 L72.12,350.18 L73.07,350.95 L74.02,351.67 L74.96,352.35 L75.91,353.00 L76.85,353.64 L77.80,354.19 L78.74,354.72 L79.69,355.25 L80.63,355.76 L81.57,356.25 L82.52,356.72 L83.47,357.16 L84.41,357.57 L85.35,357.93 L86.30,358.26 L87.25,358.53 L88.19,358.76 L89.13,358.93 L90.08,359.06 L91.03,359.15 L91.97,359.21 L92.91,359.25 L93.86,359.28 L94.81,359.30 L95.75,359.32 L96.69,359.37 L97.64,359.45 L98.59,359.58 L99.53,359.75 L100.47,359.95 L101.42,360.14 L102.36,360.27 L103.31,360.33 L104.25,360.28 L105.20,360.07 L106.14,359.68 L107.09,359.08 L108.03,358.22 L108.98,357.12 L109.92,355.83 L110.87,354.36 L111.81,352.76 L112.76,351.06 L113.70,349.28 L114.65,347.46 L115.59,345.64 L116.54,343.85 L117.48,342.12 L118.43,340.46 L119.38,338.86 L120.32,337.32 L121.27,335.84 L122.21,334.40 L123.16,333.01 L124.10,331.67 L125.05,330.24 L125.99,328.85 L126.94,327.50 L127.88,326.22 L128.82,325.00 L129.77,323.88 L130.71,322.87 L131.66,321.99 L132.60,321.24 L133.55,320.66 L134.50,320.26 L135.44,320.03 L136.38,319.96 L137.33,320.01 L138.27,320.18 L139.22,320.42 L140.16,320.68 L141.11,320.97 L142.06,321.27 L143.00,321.55 L143.94,321.82 L144.89,322.07 L145.83,322.32 L146.78,322.58 L147.72,322.85 L148.67,323.16 L149.62,323.51 L150.56,323.91 L151.50,324.38 L152.45,324.93 L153.39,325.56 L154.34,326.27 L155.28,327.02 L156.23,327.80 L157.18,328.59 L158.12,329.37 L159.06,330.13 L160.01,330.84 L160.95,331.47 L161.90,332.03 L162.84,332.48 L163.79,332.83 L164.74,333.11 L165.68,333.31 L166.62,333.47 L167.57,333.58 L168.51,333.66 L169.46,333.73 L170.40,333.80 L171.35,333.88 L172.29,333.99 L173.24,334.11 L174.19,334.26 L175.13,334.42 L176.07,334.59 L177.02,334.78 L177.97,334.94 L178.91,335.10 L179.85,335.26 L180.80,335.43 L181.75,335.59 L182.69,335.75 L183.63,335.91 L184.58,336.07 L185.53,336.22 L186.47,336.37 L187.41,336.51 L188.36,336.65 L189.31,336.78 L190.25,336.91 L191.19,337.03 L192.14,337.15 L193.08,337.25 L194.03,337.36 L194.97,337.45 L195.92,337.54 L196.86,337.66 L197.81,337.77 L198.75,337.88 L199.70,337.99 L200.64,338.11 L201.59,338.24 L202.53,338.39 L203.48,338.54 L204.42,338.72 L205.37,338.90 L206.31,339.10 L207.26,339.31 L208.20,339.52 L209.15,339.75 L210.09,339.98 L211.04,340.21 L211.98,340.45 L212.93,340.69 L213.88,340.93 L214.82,341.17 L215.76,341.43 L216.71,341.70 L217.66,341.97 L218.60,342.23 L219.54,342.50 L220.49,342.77 L221.44,343.05 L222.38,343.32 L223.32,343.58 L224.27,343.84 L225.22,344.08 L226.16,344.31 L227.10,344.51 L228.05,344.69 L229.00,344.85 L229.94,344.97 L230.88,345.06 L231.83,345.13 L232.77,345.17 L233.72,345.20 L234.66,345.21 L235.61,345.22 L236.55,345.21 L237.50,345.20" stroke="#0ff" stroke-dasharray="10.5 3.8"/>
<path d="M48.50,336.75 L49.45,336.63 L50.39,336.53 L51.34,336.47 L52.28,336.48 L53.23,336.56 L54.17,336.75 L55.12,337.07 L56.06,337.49 L57.00,338.02 L57.95,338.65 L58.89,339.35 L59.84,340.13 L60.78,340.97 L61.73,341.85 L62.67,342.76 L63.62,343.66 L64.56,344.55 L65.51,345.39 L66.45,346.18 L67.40,346.89 L68.34,347.50 L69.29,348.03 L70.23,348.49 L71.18,348.90 L72.12,349.27 L73.07,349.62 L74.02,349.96 L74.96,350.31 L75.91,350.69 L76.85,351.11 L77.80,351.51 L78.74,351.94 L79.69,352.40 L80.63,352.87 L81.57,353.35 L82.52,353.83 L83.47,354.30 L84.41,354.76 L85.35,355.19 L86.30,355.58 L87.25,355.94 L88.19,356.25 L89.13,356.50 L90.08,356.70 L91.03,356.86 L91.97,356.97 L92.91,357.06 L93.86,357.10 L94.81,357.13 L95.75,357.13 L96.69,357.10 L97.64,357.07 L98.59,357.02 L99.53,356.96 L100.47,356.90 L101.42,356.82 L102.36,356.72 L103.31,356.58 L104.25,356.40 L105.20,356.17 L106.14,355.88 L107.09,355.52 L108.03,355.10 L108.98,354.59 L109.92,354.01 L110.87,353.34 L111.81,352.57 L112.76,351.71 L113.70,350.74 L114.65,349.67 L115.59,348.47 L116.54,347.16 L117.48,345.72 L118.43,344.19 L119.38,342.59 L120.32,340.96 L121.27,339.34 L122.21,337.75 L123.16,336.24 L124.10,334.83 L125.05,333.46 L125.99,332.30 L126.94,331.38 L127.88,330.68 L128.82,330.17 L129.77,329.83 L130.71,329.63 L131.66,329.55 L132.60,329.55 L133.55,329.60 L134.50,329.69 L135.44,329.80 L136.38,329.91 L137.33,330.04 L138.27,330.17 L139.22,330.32 L140.16,330.45 L141.11,330.58 L142.06,330.71 L143.00,330.84 L143.94,330.98 L144.89,331.11 L145.83,331.25 L146.78,331.39 L147.72,331.54 L148.67,331.71 L149.62,331.89 L150.56,332.08 L151.50,332.30 L152.45,332.53 L153.39,332.79 L154.34,333.07 L155.28,333.36 L156.23,333.67 L157.18,333.97 L158.12,334.28 L159.06,334.58 L160.01,334.87 L160.95,335.15 L161.90,335.40 L162.84,335.64 L163.79,335.85 L164.74,336.04 L165.68,336.21 L166.62,336.38 L167.57,336.53 L168.51,336.67 L169.46,336.81 L170.40,336.95 L171.35,337.09 L172.29,337.24 L173.24,337.39 L174.19,337.54 L175.13,337.69 L176.07,337.85 L177.02,338.00 L177.97,338.13 L178.91,338.26 L179.85,338.38 L180.80,338.51 L181.75,338.63 L182.69,338.75 L183.63,338.86 L184.58,338.98 L185.53,339.09 L186.47,339.20 L187.41,339.31 L188.36,339.42 L189.31,339.53 L190.25,339.63 L191.19,339.74 L192.14,339.85 L193.08,339.96 L194.03,340.06 L194.97,340.17 L195.92,340.28 L196.86,340.42 L197.81,340.56 L198.75,340.70 L199.70,340.84 L200.64,340.98 L201.59,341.12 L202.53,341.26 L203.48,341.40 L204.42,341.54 L205.37,341.68 L206.31,341.82 L207.26,341.96 L208.20,342.10 L209.15,342.23 L210.09,342.37 L211.04,342.51 L211.98,342.65 L212.93,342.80 L213.88,342.94 L214.82,343.07 L215.76,343.22 L216.71,343.36 L217.66,343.49 L218.60,343.62 L219.54,343.73 L220.49,343.83 L221.44,343.91 L222.38,343.98 L223.32,344.04 L224.27,344.10 L225.22,344.14 L226.16,344.19 L227.10,344.24 L228.05,344.29 L229.00,344.35 L229.94,344.42 L230.88,344.49 L231.83,344.58 L232.77,344.67 L233.72,344.77 L234.66,344.87 L235.61,344.98 L236.55,345.09 L237.50,345.20" stroke="#555" stroke-dasharray="1 2"/>
</g>
<g clip-path="url(#cp4)" fill="none" stroke-width="1">
<path d="M237.50,281.86 L238.44,283.65 L239.39,285.50 L240.34,287.46 L241.28,289.60 L242.22,291.95 L243.17,294.45 L244.12,297.02 L245.06,299.60 L246.00,302.10 L246.95,304.54 L247.90,306.91 L248.84,309.23 L249.78,311.50 L250.73,313.75 L251.68,315.97 L252.62,318.18 L253.56,320.38 L254.51,322.57 L255.45,324.74 L256.40,326.88 L257.35,329.00 L258.29,331.07 L259.24,333.10 L260.18,335.07 L261.12,336.97 L262.07,338.82 L263.01,340.60 L263.96,342.32 L264.90,343.98 L265.85,345.58 L266.80,347.11 L267.74,348.58 L268.69,349.99 L269.63,351.36 L270.57,352.73 L271.52,354.12 L272.46,355.73 L273.41,357.45 L274.36,359.30 L275.30,361.32 L276.25,363.50 L277.19,365.73 L278.13,367.92 L279.08,369.95 L280.02,371.74 L280.97,373.19 L281.92,374.19 L282.86,374.73 L283.81,374.89 L284.75,374.80 L285.69,374.55 L286.64,374.25 L287.58,374.03 L288.53,373.78 L289.48,373.45 L290.42,372.95 L291.37,372.23 L292.31,371.23 L293.25,369.87 L294.20,368.14 L295.14,366.05 L296.09,363.65 L297.03,360.95 L297.98,357.99 L298.93,354.79 L299.87,351.38 L300.81,347.76 L301.76,343.94 L302.70,339.91 L303.65,335.68 L304.60,331.24 L305.54,326.60 L306.49,321.77 L307.43,316.83 L308.38,311.82 L309.32,306.82 L310.26,301.44 L311.21,296.22 L312.15,291.22 L313.10,286.44 L314.05,281.87 L314.99,277.48 L315.94,273.27 L316.88,269.19 L317.82,265.27 L318.77,261.51 L319.71,257.95 L320.66,254.65 L321.61,251.63 L322.55,248.93 L323.50,246.58 L324.44,244.60 L325.38,243.00 L326.33,241.77 L327.27,240.93 L328.22,240.48 L329.16,240.43 L330.11,240.76 L331.06,241.45 L332.00,242.49 L332.94,243.86 L333.89,245.55 L334.83,247.52 L335.78,249.71 L336.73,252.04 L337.67,254.43 L338.62,256.79 L339.56,259.06 L340.50,261.17 L341.45,263.12 L342.39,264.96 L343.34,266.71 L344.28,268.39 L345.23,270.04 L346.18,271.68 L347.12,273.30 L348.06,274.89 L349.01,276.43 L349.95,277.92 L350.90,279.33 L351.85,280.65 L352.79,281.90 L353.74,283.06 L354.68,284.16 L355.62,285.18 L356.57,286.14 L357.51,287.05 L358.46,287.90 L359.40,288.70 L360.35,289.46 L361.29,290.19 L362.24,290.87 L363.19,291.53 L364.13,292.15 L365.07,292.75 L366.02,293.32 L366.97,293.86 L367.91,294.39 L368.86,294.89 L369.80,295.37 L370.75,295.85 L371.69,296.31 L372.63,296.77 L373.58,297.23 L374.52,297.70 L375.47,298.19 L376.41,298.70 L377.36,299.25 L378.31,299.82 L379.25,300.44 L380.19,301.11 L381.14,301.83 L382.08,302.63 L383.03,303.50 L383.98,304.46 L384.92,305.51 L385.87,306.68 L386.81,307.96 L387.75,309.37 L388.70,310.91 L389.64,312.60 L390.59,314.40 L391.53,316.29 L392.48,318.22 L393.42,320.18 L394.37,322.13 L395.31,324.03 L396.26,325.86 L397.20,327.57 L398.15,329.15 L399.10,330.57 L400.04,331.83 L400.99,332.96 L401.93,333.97 L402.88,334.87 L403.82,335.69 L404.76,336.44 L405.71,337.13 L406.65,337.80 L407.60,338.44 L408.54,339.09 L409.49,339.72 L410.44,340.34 L411.38,340.95 L412.32,341.53 L413.27,342.08 L414.22,342.59 L415.16,343.06 L416.11,343.48 L417.05,343.85 L418.00,344.16 L418.94,344.41 L419.88,344.62 L420.83,344.78 L421.77,344.90 L422.72,345.00 L423.66,345.07 L424.61,345.12 L425.55,345.17 L426.50,345.20" stroke="#000"/>
<path d="M237.50,265.14 L238.44,269.55 L239.39,273.86 L240.34,278.00 L241.28,281.86 L242.22,285.39 L243.17,288.63 L244.12,291.65 L245.06,294.53 L246.00,297.33 L246.95,300.06 L247.90,302.74 L248.84,305.37 L249.78,307.97 L250.73,310.54 L251.68,313.10 L252.62,315.64 L253.56,318.19 L254.51,320.72 L255.45,323.23 L256.40,325.71 L257.35,328.14 L258.29,330.52 L259.24,332.83 L260.18,335.07 L261.12,337.21 L262.07,339.28 L263.01,341.26 L263.96,343.18 L264.90,345.03 L265.85,346.83 L266.80,348.57 L267.74,350.27 L268.69,351.93 L269.63,353.56 L270.57,355.19 L271.52,356.83 L272.46,358.70 L273.41,360.63 L274.36,362.63 L275.30,364.72 L276.25,366.91 L277.19,369.15 L278.13,371.39 L279.08,373.60 L280.02,375.73 L280.97,377.73 L281.92,379.57 L282.86,381.19 L283.81,382.52 L284.75,383.49 L285.69,384.02 L286.64,384.05 L287.58,383.65 L288.53,382.90 L289.48,381.81 L290.42,380.41 L291.37,378.72 L292.31,376.77 L293.25,374.58 L294.20,372.16 L295.14,369.51 L296.09,366.62 L297.03,363.50 L297.98,360.13 L298.93,356.52 L299.87,352.66 L300.81,348.55 L301.76,344.21 L302.70,339.65 L303.65,334.87 L304.60,329.89 L305.54,324.72 L306.49,319.38 L307.43,313.92 L308.38,308.41 L309.32,302.90 L310.26,296.96 L311.21,291.15 L312.15,285.55 L313.10,280.16 L314.05,274.99 L314.99,270.03 L315.94,265.28 L316.88,260.75 L317.82,256.44 L318.77,252.36 L319.71,248.54 L320.66,244.99 L321.61,241.73 L322.55,238.79 L323.50,236.19 L324.44,233.95 L325.38,232.11 L326.33,230.70 L327.27,229.77 L328.22,229.33 L329.16,229.43 L330.11,230.03 L331.06,231.13 L332.00,232.68 L332.94,234.69 L333.89,237.10 L334.83,239.90 L335.78,242.98 L336.73,246.21 L337.67,249.48 L338.62,252.68 L339.56,255.68 L340.50,258.40 L341.45,260.86 L342.39,263.12 L343.34,265.22 L344.28,267.23 L345.23,269.19 L346.18,271.16 L347.12,273.10 L348.06,275.00 L349.01,276.83 L349.95,278.57 L350.90,280.17 L351.85,281.63 L352.79,282.96 L353.74,284.16 L354.68,285.25 L355.62,286.24 L356.57,287.16 L357.51,288.01 L358.46,288.80 L359.40,289.57 L360.35,290.31 L361.29,291.04 L362.24,291.76 L363.19,292.47 L364.13,293.17 L365.07,293.86 L366.02,294.53 L366.97,295.19 L367.91,295.83 L368.86,296.46 L369.80,297.06 L370.75,297.65 L371.69,298.22 L372.63,298.78 L373.58,299.34 L374.52,299.91 L375.47,300.48 L376.41,301.06 L377.36,301.67 L378.31,302.31 L379.25,302.97 L380.19,303.68 L381.14,304.44 L382.08,305.25 L383.03,306.14 L383.98,307.10 L384.92,308.15 L385.87,309.30 L386.81,310.56 L387.75,311.94 L388.70,313.45 L389.64,315.09 L390.59,316.84 L391.53,318.66 L392.48,320.53 L393.42,322.40 L394.37,324.26 L395.31,326.07 L396.26,327.79 L397.20,329.39 L398.15,330.84 L399.10,332.12 L400.04,333.25 L400.99,334.22 L401.93,335.08 L402.88,335.84 L403.82,336.51 L404.76,337.12 L405.71,337.69 L406.65,338.24 L407.60,338.78 L408.54,339.34 L409.49,339.90 L410.44,340.47 L411.38,341.03 L412.32,341.58 L413.27,342.11 L414.22,342.61 L415.16,343.07 L416.11,343.48 L417.05,343.85 L418.00,344.16 L418.94,344.41 L419.88,344.61 L420.83,344.77 L421.77,344.90 L422.72,345.00 L423.66,345.07 L424.61,345.12 L425.55,345.16 L426.50,345.20" stroke="#f00"/>
<path d="M237.50,279.33 L238.44,280.95 L239.39,282.59 L240.34,284.30 L241.28,286.08 L242.22,287.99 L243.17,290.02 L244.12,292.19 L245.06,294.53 L246.00,297.03 L246.95,299.68 L247.90,302.42 L248.84,305.24 L249.78,308.09 L250.73,310.94 L251.68,313.75 L252.62,316.49 L253.56,319.12 L254.51,321.66 L255.45,324.09 L256.40,326.44 L257.35,328.71 L258.29,330.90 L259.24,333.01 L260.18,335.07 L261.12,337.06 L262.07,339.00 L263.01,340.87 L263.96,342.70 L264.90,344.46 L265.85,346.17 L266.80,347.82 L267.74,349.42 L268.69,350.97 L269.63,352.48 L270.57,353.98 L271.52,355.50 L272.46,357.24 L273.41,359.05 L274.36,360.97 L275.30,363.02 L276.25,365.19 L277.19,367.41 L278.13,369.61 L279.08,371.73 L280.02,373.70 L280.97,375.44 L281.92,376.89 L282.86,378.01 L283.81,378.78 L284.75,379.21 L285.69,379.27 L286.64,378.98 L287.58,378.47 L288.53,377.72 L289.48,376.73 L290.42,375.51 L291.37,374.06 L292.31,372.39 L293.25,370.49 L294.20,368.36 L295.14,366.00 L296.09,363.39 L297.03,360.53 L297.98,357.39 L298.93,353.97 L299.87,350.26 L300.81,346.28 L301.76,342.06 L302.70,337.60 L303.65,332.94 L304.60,328.10 L305.54,323.10 L306.49,317.97 L307.43,312.76 L308.38,307.52 L309.32,302.29 L310.26,296.66 L311.21,291.15 L312.15,285.83 L313.10,280.71 L314.05,275.80 L314.99,271.11 L315.94,266.65 L316.88,262.44 L317.82,258.47 L318.77,254.75 L319.71,251.27 L320.66,248.02 L321.61,244.99 L322.55,242.17 L323.50,239.57 L324.44,237.24 L325.38,235.23 L326.33,233.60 L327.27,232.40 L328.22,231.70 L329.16,231.53 L330.11,231.89 L331.06,232.74 L332.00,234.05 L332.94,235.80 L333.89,237.95 L334.83,240.46 L335.78,243.24 L336.73,246.18 L337.67,249.16 L338.62,252.09 L339.56,254.84 L340.50,257.34 L341.45,259.61 L342.39,261.72 L343.34,263.70 L344.28,265.61 L345.23,267.51 L346.18,269.43 L347.12,271.35 L348.06,273.26 L349.01,275.10 L349.95,276.85 L350.90,278.48 L351.85,279.97 L352.79,281.31 L353.74,282.53 L354.68,283.64 L355.62,284.64 L356.57,285.56 L357.51,286.40 L358.46,287.18 L359.40,287.92 L360.35,288.62 L361.29,289.30 L362.24,289.96 L363.19,290.60 L364.13,291.22 L365.07,291.82 L366.02,292.40 L366.97,292.96 L367.91,293.50 L368.86,294.03 L369.80,294.53 L370.75,295.02 L371.69,295.49 L372.63,295.96 L373.58,296.43 L374.52,296.90 L375.47,297.39 L376.41,297.90 L377.36,298.43 L378.31,298.99 L379.25,299.60 L380.19,300.24 L381.14,300.95 L382.08,301.72 L383.03,302.58 L383.98,303.52 L384.92,304.57 L385.87,305.74 L386.81,307.04 L387.75,308.48 L388.70,310.07 L389.64,311.82 L390.59,313.70 L391.53,315.67 L392.48,317.70 L393.42,319.76 L394.37,321.81 L395.31,323.80 L396.26,325.72 L397.20,327.51 L398.15,329.15 L399.10,330.62 L400.04,331.91 L400.99,333.05 L401.93,334.06 L402.88,334.95 L403.82,335.76 L404.76,336.49 L405.71,337.17 L406.65,337.81 L407.60,338.44 L408.54,339.07 L409.49,339.70 L410.44,340.32 L411.38,340.92 L412.32,341.50 L413.27,342.06 L414.22,342.58 L415.16,343.05 L416.11,343.48 L417.05,343.85 L418.00,344.16 L418.94,344.42 L419.88,344.62 L420.83,344.79 L421.77,344.91 L422.72,345.01 L423.66,345.08 L424.61,345.13 L425.55,345.17 L426.50,345.20" stroke="#0f0"/>
<path d="M237.50,282.71 L238.44,284.75 L239.39,286.80 L240.34,288.87 L241.28,290.95 L242.22,293.06 L243.17,295.20 L244.12,297.38 L245.06,299.60 L246.00,301.86 L246.95,304.17 L247.90,306.50 L248.84,308.84 L249.78,311.19 L250.73,313.54 L251.68,315.87 L252.62,318.18 L253.56,320.44 L254.51,322.67 L255.45,324.86 L256.40,327.00 L257.35,329.10 L258.29,331.14 L259.24,333.13 L260.18,335.07 L261.12,336.94 L262.07,338.76 L263.01,340.53 L263.96,342.24 L264.90,343.90 L265.85,345.51 L266.80,347.07 L267.74,348.58 L268.69,350.05 L269.63,351.50 L270.57,352.96 L271.52,354.45 L272.46,356.19 L273.41,358.05 L274.36,360.05 L275.30,362.24 L276.25,364.58 L277.19,366.97 L278.13,369.31 L279.08,371.47 L280.02,373.36 L280.97,374.86 L281.92,375.88 L282.86,376.38 L283.81,376.49 L284.75,376.31 L285.69,375.97 L286.64,375.60 L287.58,375.33 L288.53,375.04 L289.48,374.66 L290.42,374.10 L291.37,373.29 L292.31,372.16 L293.25,370.63 L294.20,368.67 L295.14,366.34 L296.09,363.66 L297.03,360.67 L297.98,357.43 L298.93,353.97 L299.87,350.32 L300.81,346.51 L301.76,342.52 L302.70,338.37 L303.65,334.04 L304.60,329.56 L305.54,324.91 L306.49,320.12 L307.43,315.23 L308.38,310.27 L309.32,305.29 L310.26,299.87 L311.21,294.53 L312.15,289.31 L313.10,284.23 L314.05,279.32 L314.99,274.60 L315.94,270.10 L316.88,265.82 L317.82,261.79 L318.77,258.01 L319.71,254.50 L320.66,251.25 L321.61,248.26 L322.55,245.55 L323.50,243.11 L324.44,240.99 L325.38,239.20 L326.33,237.80 L327.27,236.80 L328.22,236.26 L329.16,236.19 L330.11,236.58 L331.06,237.39 L332.00,238.62 L332.94,240.22 L333.89,242.17 L334.83,244.44 L335.78,246.94 L336.73,249.58 L337.67,252.26 L338.62,254.89 L339.56,257.37 L340.50,259.64 L341.45,261.73 L342.39,263.67 L343.34,265.53 L344.28,267.36 L345.23,269.19 L346.18,271.08 L347.12,273.00 L348.06,274.91 L349.01,276.76 L349.95,278.53 L350.90,280.17 L351.85,281.66 L352.79,283.00 L353.74,284.20 L354.68,285.29 L355.62,286.28 L356.57,287.18 L357.51,288.02 L358.46,288.81 L359.40,289.57 L360.35,290.31 L361.29,291.04 L362.24,291.77 L363.19,292.49 L364.13,293.21 L365.07,293.90 L366.02,294.58 L366.97,295.24 L367.91,295.88 L368.86,296.49 L369.80,297.06 L370.75,297.61 L371.69,298.13 L372.63,298.63 L373.58,299.11 L374.52,299.59 L375.47,300.07 L376.41,300.56 L377.36,301.06 L378.31,301.58 L379.25,302.13 L380.19,302.72 L381.14,303.35 L382.08,304.05 L383.03,304.82 L383.98,305.68 L384.92,306.64 L385.87,307.72 L386.81,308.92 L387.75,310.26 L388.70,311.76 L389.64,313.41 L390.59,315.20 L391.53,317.08 L392.48,319.02 L393.42,320.99 L394.37,322.95 L395.31,324.87 L396.26,326.70 L397.20,328.43 L398.15,330.00 L399.10,331.40 L400.04,332.63 L400.99,333.71 L401.93,334.67 L402.88,335.52 L403.82,336.27 L404.76,336.96 L405.71,337.59 L406.65,338.19 L407.60,338.78 L408.54,339.37 L409.49,339.95 L410.44,340.53 L411.38,341.10 L412.32,341.64 L413.27,342.16 L414.22,342.65 L415.16,343.09 L416.11,343.50 L417.05,343.85 L418.00,344.15 L418.94,344.39 L419.88,344.59 L420.83,344.75 L421.77,344.88 L422.72,344.98 L423.66,345.05 L424.61,345.11 L425.55,345.16 L426.50,345.20" stroke="#ff0"/>
<path d="M237.50,304.16 L238.44,303.42 L239.39,302.74 L240.34,302.18 L241.28,301.78 L242.22,301.60 L243.17,301.70 L244.12,302.14 L245.06,302.97 L246.00,304.24 L246.95,305.88 L247.90,307.84 L248.84,310.03 L249.78,312.40 L250.73,314.88 L251.68,317.39 L252.62,319.87 L253.56,322.25 L254.51,324.54 L255.45,326.75 L256.40,328.87 L257.35,330.93 L258.29,332.92 L259.24,334.86 L260.18,336.75 L261.12,338.61 L262.07,340.42 L263.01,342.19 L263.96,343.92 L264.90,345.59 L265.85,347.21 L266.80,348.77 L267.74,350.27 L268.69,351.71 L269.63,353.11 L270.57,354.49 L271.52,355.89 L272.46,357.51 L273.41,359.20 L274.36,361.02 L275.30,362.98 L276.25,365.09 L277.19,367.27 L278.13,369.45 L279.08,371.58 L280.02,373.58 L280.97,375.38 L281.92,376.93 L282.86,378.16 L283.81,379.08 L284.75,379.67 L285.69,379.92 L286.64,379.82 L287.58,379.48 L288.53,378.90 L289.48,378.07 L290.42,376.99 L291.37,375.65 L292.31,374.05 L293.25,372.19 L294.20,370.05 L295.14,367.66 L296.09,365.01 L297.03,362.13 L297.98,359.00 L298.93,355.65 L299.87,352.08 L300.81,348.29 L301.76,344.31 L302.70,340.14 L303.65,335.79 L304.60,331.27 L305.54,326.59 L306.49,321.78 L307.43,316.87 L308.38,311.91 L309.32,306.93 L310.26,301.54 L311.21,296.22 L312.15,291.03 L313.10,285.99 L314.05,281.10 L314.99,276.39 L315.94,271.85 L316.88,267.51 L317.82,263.36 L318.77,259.44 L319.71,255.77 L320.66,252.35 L321.61,249.22 L322.55,246.39 L323.50,243.89 L324.44,241.74 L325.38,239.96 L326.33,238.58 L327.27,237.62 L328.22,237.10 L329.16,237.05 L330.11,237.44 L331.06,238.26 L332.00,239.48 L332.94,241.07 L333.89,243.02 L334.83,245.28 L335.78,247.78 L336.73,250.41 L337.67,253.10 L338.62,255.73 L339.56,258.22 L340.50,260.49 L341.45,262.57 L342.39,264.52 L343.34,266.38 L344.28,268.20 L345.23,270.04 L346.18,271.93 L347.12,273.84 L348.06,275.74 L349.01,277.60 L349.95,279.37 L350.90,281.02 L351.85,282.52 L352.79,283.87 L353.74,285.09 L354.68,286.19 L355.62,287.19 L356.57,288.11 L357.51,288.95 L358.46,289.72 L359.40,290.45 L360.35,291.15 L361.29,291.83 L362.24,292.49 L363.19,293.13 L364.13,293.75 L365.07,294.36 L366.02,294.94 L366.97,295.50 L367.91,296.04 L368.86,296.56 L369.80,297.06 L370.75,297.54 L371.69,298.01 L372.63,298.47 L373.58,298.93 L374.52,299.40 L375.47,299.88 L376.41,300.39 L377.36,300.93 L378.31,301.51 L379.25,302.13 L380.19,302.81 L381.14,303.55 L382.08,304.36 L383.03,305.24 L383.98,306.21 L384.92,307.28 L385.87,308.44 L386.81,309.71 L387.75,311.09 L388.70,312.60 L389.64,314.24 L390.59,315.97 L391.53,317.78 L392.48,319.63 L393.42,321.49 L394.37,323.34 L395.31,325.15 L396.26,326.88 L397.20,328.50 L398.15,330.00 L399.10,331.34 L400.04,332.54 L400.99,333.60 L401.93,334.55 L402.88,335.41 L403.82,336.18 L404.76,336.89 L405.71,337.55 L406.65,338.17 L407.60,338.78 L408.54,339.38 L409.49,339.98 L410.44,340.56 L411.38,341.13 L412.32,341.67 L413.27,342.18 L414.22,342.66 L415.16,343.11 L416.11,343.50 L417.05,343.85 L418.00,344.14 L418.94,344.38 L419.88,344.58 L420.83,344.74 L421.77,344.87 L422.72,344.97 L423.66,345.05 L424.61,345.11 L425.55,345.16 L426.50,345.20" stroke="#00f"/>
<path d="M237.50,291.83 L238.44,293.30 L239.39,294.78 L240.34,296.29 L241.28,297.84 L242.22,299.44 L243.17,301.10 L244.12,302.84 L245.06,304.66 L246.00,306.59 L246.95,308.60 L247.90,310.68 L248.84,312.81 L249.78,314.98 L250.73,317.17 L251.68,319.37 L252.62,321.55 L253.56,323.71 L254.51,325.84 L255.45,327.92 L256.40,329.97 L257.35,331.96 L258.29,333.90 L259.24,335.78 L260.18,337.60 L261.12,339.35 L262.07,341.04 L263.01,342.67 L263.96,344.25 L264.90,345.80 L265.85,347.31 L266.80,348.80 L267.74,350.27 L268.69,351.73 L269.63,353.19 L270.57,354.68 L271.52,356.20 L272.46,357.97 L273.41,359.83 L274.36,361.79 L275.30,363.88 L276.25,366.07 L277.19,368.31 L278.13,370.52 L279.08,372.63 L280.02,374.59 L280.97,376.31 L281.92,377.73 L282.86,378.81 L283.81,379.56 L284.75,379.97 L285.69,380.06 L286.64,379.82 L287.58,379.40 L288.53,378.76 L289.48,377.91 L290.42,376.83 L291.37,375.53 L292.31,374.00 L293.25,372.24 L294.20,370.24 L295.14,368.00 L296.09,365.51 L297.03,362.76 L297.98,359.76 L298.93,356.49 L299.87,352.95 L300.81,349.17 L301.76,345.17 L302.70,340.97 L303.65,336.60 L304.60,332.09 L305.54,327.46 L306.49,322.74 L307.43,317.96 L308.38,313.15 L309.32,308.33 L310.26,303.09 L311.21,297.91 L312.15,292.82 L313.10,287.83 L314.05,282.97 L314.99,278.23 L315.94,273.64 L316.88,269.19 L317.82,264.92 L318.77,260.85 L319.71,257.01 L320.66,253.44 L321.61,250.17 L322.55,247.24 L323.50,244.68 L324.44,242.50 L325.38,240.73 L326.33,239.37 L327.27,238.44 L328.22,237.95 L329.16,237.91 L330.11,238.31 L331.06,239.13 L332.00,240.34 L332.94,241.92 L333.89,243.86 L334.83,246.12 L335.78,248.61 L336.73,251.25 L337.67,253.94 L338.62,256.57 L339.56,259.06 L340.50,261.34 L341.45,263.42 L342.39,265.37 L343.34,267.23 L344.28,269.05 L345.23,270.88 L346.18,272.77 L347.12,274.68 L348.06,276.59 L349.01,278.44 L349.95,280.21 L350.90,281.86 L351.85,283.36 L352.79,284.71 L353.74,285.93 L354.68,287.04 L355.62,288.04 L356.57,288.95 L357.51,289.79 L358.46,290.57 L359.40,291.30 L360.35,292.00 L361.29,292.67 L362.24,293.33 L363.19,293.98 L364.13,294.60 L365.07,295.20 L366.02,295.78 L366.97,296.34 L367.91,296.89 L368.86,297.41 L369.80,297.91 L370.75,298.39 L371.69,298.85 L372.63,299.31 L373.58,299.77 L374.52,300.24 L375.47,300.73 L376.41,301.24 L377.36,301.78 L378.31,302.35 L379.25,302.97 L380.19,303.65 L381.14,304.39 L382.08,305.19 L383.03,306.08 L383.98,307.04 L384.92,308.11 L385.87,309.27 L386.81,310.54 L387.75,311.93 L388.70,313.45 L389.64,315.09 L390.59,316.83 L391.53,318.65 L392.48,320.51 L393.42,322.38 L394.37,324.24 L395.31,326.04 L396.26,327.76 L397.20,329.37 L398.15,330.84 L399.10,332.15 L400.04,333.30 L400.99,334.32 L401.93,335.22 L402.88,336.01 L403.82,336.73 L404.76,337.38 L405.71,337.98 L406.65,338.56 L407.60,339.12 L408.54,339.69 L409.49,340.25 L410.44,340.81 L411.38,341.36 L412.32,341.89 L413.27,342.39 L414.22,342.86 L415.16,343.29 L416.11,343.68 L417.05,344.02 L418.00,344.30 L418.94,344.53 L419.88,344.71 L420.83,344.86 L421.77,344.97 L422.72,345.05 L423.66,345.11 L424.61,345.15 L425.55,345.18 L426.50,345.20" stroke="#f0f"/>
<path d="M237.50,310.24 L238.44,309.73 L239.39,309.27 L240.34,308.89 L241.28,308.63 L242.22,308.55 L243.17,308.68 L244.12,309.06 L245.06,309.73 L246.00,310.73 L246.95,312.02 L247.90,313.55 L248.84,315.28 L249.78,317.16 L250.73,319.14 L251.68,321.19 L252.62,323.24 L253.56,325.27 L254.51,327.27 L255.45,329.23 L256.40,331.15 L257.35,333.03 L258.29,334.87 L259.24,336.68 L260.18,338.44 L261.12,340.17 L262.07,341.85 L263.01,343.49 L263.96,345.09 L264.90,346.65 L265.85,348.18 L266.80,349.66 L267.74,351.11 L268.69,352.52 L269.63,353.92 L270.57,355.31 L271.52,356.73 L272.46,358.36 L273.41,360.07 L274.36,361.88 L275.30,363.81 L276.25,365.85 L277.19,367.94 L278.13,370.01 L279.08,372.01 L280.02,373.86 L280.97,375.50 L281.92,376.87 L282.86,377.93 L283.81,378.67 L284.75,379.09 L285.69,379.20 L286.64,378.98 L287.58,378.56 L288.53,377.93 L289.48,377.07 L290.42,376.00 L291.37,374.69 L292.31,373.16 L293.25,371.39 L294.20,369.39 L295.14,367.14 L296.09,364.65 L297.03,361.91 L297.98,358.91 L298.93,355.64 L299.87,352.12 L300.81,348.34 L301.76,344.34 L302.70,340.15 L303.65,335.77 L304.60,331.25 L305.54,326.61 L306.49,321.86 L307.43,317.06 L308.38,312.22 L309.32,307.40 L310.26,302.18 L311.21,297.06 L312.15,292.08 L313.10,287.23 L314.05,282.53 L314.99,277.95 L315.94,273.51 L316.88,269.19 L317.82,265.01 L318.77,261.00 L319.71,257.17 L320.66,253.58 L321.61,250.26 L322.55,247.24 L323.50,244.55 L324.44,242.23 L325.38,240.30 L326.33,238.78 L327.27,237.71 L328.22,237.10 L329.16,236.99 L330.11,237.34 L331.06,238.14 L332.00,239.37 L332.94,241.00 L333.89,243.02 L334.83,245.37 L335.78,247.99 L336.73,250.77 L337.67,253.60 L338.62,256.40 L339.56,259.06 L340.50,261.51 L341.45,263.76 L342.39,265.87 L343.34,267.87 L344.28,269.81 L345.23,271.73 L346.18,273.66 L347.12,275.60 L348.06,277.50 L349.01,279.34 L349.95,281.08 L350.90,282.71 L351.85,284.19 L352.79,285.53 L353.74,286.74 L354.68,287.85 L355.62,288.85 L356.57,289.77 L357.51,290.61 L358.46,291.40 L359.40,292.14 L360.35,292.84 L361.29,293.52 L362.24,294.19 L363.19,294.83 L364.13,295.45 L365.07,296.05 L366.02,296.63 L366.97,297.19 L367.91,297.73 L368.86,298.25 L369.80,298.75 L370.75,299.23 L371.69,299.70 L372.63,300.16 L373.58,300.62 L374.52,301.09 L375.47,301.58 L376.41,302.08 L377.36,302.62 L378.31,303.20 L379.25,303.82 L380.19,304.49 L381.14,305.23 L382.08,306.03 L383.03,306.91 L383.98,307.87 L384.92,308.93 L385.87,310.10 L386.81,311.37 L387.75,312.77 L388.70,314.29 L389.64,315.95 L390.59,317.71 L391.53,319.54 L392.48,321.41 L393.42,323.29 L394.37,325.15 L395.31,326.95 L396.26,328.66 L397.20,330.25 L398.15,331.69 L399.10,332.95 L400.04,334.04 L400.99,334.99 L401.93,335.82 L402.88,336.54 L403.82,337.17 L404.76,337.75 L405.71,338.28 L406.65,338.78 L407.60,339.29 L408.54,339.81 L409.49,340.33 L410.44,340.86 L411.38,341.39 L412.32,341.90 L413.27,342.40 L414.22,342.86 L415.16,343.29 L416.11,343.68 L417.05,344.02 L418.00,344.30 L418.94,344.53 L419.88,344.72 L420.83,344.86 L421.77,344.97 L422.72,345.05 L423.66,345.11 L424.61,345.15 L425.55,345.18 L426.50,345.20" stroke="#0ff"/>
<path d="M237.50,284.40 L238.44,286.70 L239.39,288.97 L240.34,291.19 L241.28,293.31 L242.22,295.34 L243.17,297.30 L244.12,299.26 L245.06,301.29 L246.00,303.42 L246.95,305.65 L247.90,307.96 L248.84,310.32 L249.78,312.72 L250.73,315.12 L251.68,317.51 L252.62,319.87 L253.56,322.17 L254.51,324.41 L255.45,326.60 L256.40,328.73 L257.35,330.81 L258.29,332.84 L259.24,334.82 L260.18,336.75 L261.12,338.64 L262.07,340.48 L263.01,342.26 L263.96,343.99 L264.90,345.65 L265.85,347.26 L266.80,348.80 L267.74,350.27 L268.69,351.67 L269.63,353.03 L270.57,354.39 L271.52,355.76 L272.46,357.37 L273.41,359.09 L274.36,360.97 L275.30,363.04 L276.25,365.27 L277.19,367.57 L278.13,369.80 L279.08,371.86 L280.02,373.62 L280.97,374.98 L281.92,375.82 L282.86,376.12 L283.81,376.01 L284.75,375.65 L285.69,375.19 L286.64,374.76 L287.58,374.51 L288.53,374.30 L289.48,374.04 L290.42,373.64 L291.37,373.01 L292.31,372.06 L293.25,370.71 L294.20,368.93 L295.14,366.75 L296.09,364.22 L297.03,361.35 L297.98,358.21 L298.93,354.81 L299.87,351.20 L300.81,347.39 L301.76,343.39 L302.70,339.22 L303.65,334.88 L304.60,330.40 L305.54,325.77 L306.49,321.02 L307.43,316.20 L308.38,311.36 L309.32,306.52 L310.26,301.31 L311.21,296.22 L312.15,291.30 L313.10,286.55 L314.05,281.97 L314.99,277.56 L315.94,273.30 L316.88,269.19 L317.82,265.24 L318.77,261.47 L319.71,257.92 L320.66,254.62 L321.61,251.61 L322.55,248.93 L323.50,246.60 L324.44,244.64 L325.38,243.07 L326.33,241.90 L327.27,241.15 L328.22,240.82 L329.16,240.93 L330.11,241.45 L331.06,242.37 L332.00,243.65 L332.94,245.28 L333.89,247.24 L334.83,249.48 L335.78,251.95 L336.73,254.55 L337.67,257.22 L338.62,259.88 L339.56,262.44 L340.50,264.85 L341.45,267.10 L342.39,269.24 L343.34,271.26 L344.28,273.21 L345.23,275.11 L346.18,276.96 L347.12,278.76 L348.06,280.51 L349.01,282.18 L349.95,283.76 L350.90,285.24 L351.85,286.61 L352.79,287.87 L353.74,289.04 L354.68,290.12 L355.62,291.13 L356.57,292.07 L357.51,292.96 L358.46,293.80 L359.40,294.60 L360.35,295.37 L361.29,296.13 L362.24,296.87 L363.19,297.60 L364.13,298.30 L365.07,298.99 L366.02,299.66 L366.97,300.31 L367.91,300.93 L368.86,301.54 L369.80,302.13 L370.75,302.70 L371.69,303.25 L372.63,303.80 L373.58,304.35 L374.52,304.90 L375.47,305.47 L376.41,306.06 L377.36,306.68 L378.31,307.34 L379.25,308.04 L380.19,308.79 L381.14,309.60 L382.08,310.46 L383.03,311.39 L383.98,312.39 L384.92,313.45 L385.87,314.59 L386.81,315.82 L387.75,317.12 L388.70,318.51 L389.64,319.99 L390.59,321.54 L391.53,323.13 L392.48,324.74 L393.42,326.34 L394.37,327.91 L395.31,329.42 L396.26,330.86 L397.20,332.18 L398.15,333.38 L399.10,334.42 L400.04,335.33 L400.99,336.12 L401.93,336.81 L402.88,337.42 L403.82,337.95 L404.76,338.44 L405.71,338.90 L406.65,339.35 L407.60,339.80 L408.54,340.26 L409.49,340.75 L410.44,341.23 L411.38,341.72 L412.32,342.20 L413.27,342.66 L414.22,343.10 L415.16,343.51 L416.11,343.87 L417.05,344.19 L418.00,344.45 L418.94,344.66 L419.88,344.83 L420.83,344.95 L421.77,345.05 L422.72,345.11 L423.66,345.15 L424.61,345.18 L425.55,345.19 L426.50,345.20" stroke="#000" stroke-dasharray="10.5 3.8"/>
<path d="M237.50,281.02 L238.44,282.64 L239.39,284.28 L240.34,285.98 L241.28,287.77 L242.22,289.68 L243.17,291.71 L244.12,293.88 L245.06,296.22 L246.00,298.72 L246.95,301.36 L247.90,304.10 L248.84,306.91 L249.78,309.76 L250.73,312.61 L251.68,315.42 L252.62,318.18 L253.56,320.83 L254.51,323.39 L255.45,325.85 L256.40,328.22 L257.35,330.49 L258.29,332.67 L259.24,334.76 L260.18,336.75 L261.12,338.67 L262.07,340.50 L263.01,342.26 L263.96,343.96 L264.90,345.60 L265.85,347.19 L266.80,348.75 L267.74,350.27 L268.69,351.77 L269.63,353.26 L270.57,354.76 L271.52,356.28 L272.46,358.04 L273.41,359.88 L274.36,361.81 L275.30,363.86 L276.25,366.01 L277.19,368.21 L278.13,370.39 L279.08,372.49 L280.02,374.46 L280.97,376.24 L281.92,377.77 L282.86,379.00 L283.81,379.92 L284.75,380.51 L285.69,380.76 L286.64,380.67 L287.58,380.32 L288.53,379.73 L289.48,378.90 L290.42,377.81 L291.37,376.47 L292.31,374.89 L293.25,373.04 L294.20,370.94 L295.14,368.59 L296.09,365.96 L297.03,363.08 L297.98,359.93 L298.93,356.50 L299.87,352.81 L300.81,348.88 L301.76,344.72 L302.70,340.39 L303.65,335.90 L304.60,331.29 L305.54,326.59 L306.49,321.83 L307.43,317.02 L308.38,312.20 L309.32,307.40 L310.26,302.19 L311.21,297.06 L312.15,292.04 L313.10,287.14 L314.05,282.38 L314.99,277.80 L315.94,273.39 L316.88,269.19 L317.82,265.22 L318.77,261.47 L319.71,257.97 L320.66,254.70 L321.61,251.69 L322.55,248.93 L323.50,246.44 L324.44,244.25 L325.38,242.43 L326.33,241.02 L327.27,240.08 L328.22,239.64 L329.16,239.74 L330.11,240.37 L331.06,241.47 L332.00,243.01 L332.94,244.95 L333.89,247.24 L334.83,249.83 L335.78,252.64 L336.73,255.57 L337.67,258.53 L338.62,261.41 L339.56,264.13 L340.50,266.61 L341.45,268.87 L342.39,270.97 L343.34,272.96 L344.28,274.88 L345.23,276.80 L346.18,278.73 L347.12,280.67 L348.06,282.57 L349.01,284.41 L349.95,286.16 L350.90,287.77 L351.85,289.23 L352.79,290.55 L353.74,291.73 L354.68,292.80 L355.62,293.78 L356.57,294.69 L357.51,295.54 L358.46,296.34 L359.40,297.13 L360.35,297.91 L361.29,298.70 L362.24,299.49 L363.19,300.29 L364.13,301.09 L365.07,301.88 L366.02,302.65 L366.97,303.41 L367.91,304.14 L368.86,304.84 L369.80,305.51 L370.75,306.14 L371.69,306.73 L372.63,307.31 L373.58,307.87 L374.52,308.42 L375.47,308.98 L376.41,309.55 L377.36,310.14 L378.31,310.76 L379.25,311.42 L380.19,312.13 L381.14,312.88 L382.08,313.69 L383.03,314.55 L383.98,315.47 L384.92,316.46 L385.87,317.50 L386.81,318.61 L387.75,319.79 L388.70,321.05 L389.64,322.37 L390.59,323.75 L391.53,325.16 L392.48,326.58 L393.42,327.99 L394.37,329.38 L395.31,330.72 L396.26,331.98 L397.20,333.16 L398.15,334.22 L399.10,335.16 L400.04,335.98 L400.99,336.70 L401.93,337.33 L402.88,337.89 L403.82,338.39 L404.76,338.86 L405.71,339.29 L406.65,339.71 L407.60,340.13 L408.54,340.57 L409.49,341.02 L410.44,341.47 L411.38,341.92 L412.32,342.36 L413.27,342.79 L414.22,343.19 L415.16,343.56 L416.11,343.89 L417.05,344.19 L418.00,344.43 L418.94,344.63 L419.88,344.79 L420.83,344.91 L421.77,345.01 L422.72,345.07 L423.66,345.12 L424.61,345.16 L425.55,345.18 L426.50,345.20" stroke="#f00" stroke-dasharray="10.5 3.8"/>
<path d="M237.50,287.77 L238.44,289.88 L239.39,291.96 L240.34,293.98 L241.28,295.90 L242.22,297.71 L243.17,299.45 L244.12,301.19 L245.06,302.97 L246.00,304.86 L246.95,306.84 L247.90,308.90 L248.84,311.03 L249.78,313.20 L250.73,315.41 L251.68,317.64 L252.62,319.87 L253.56,322.08 L254.51,324.28 L255.45,326.46 L256.40,328.60 L257.35,330.71 L258.29,332.78 L259.24,334.79 L260.18,336.75 L261.12,338.66 L262.07,340.50 L263.01,342.28 L263.96,344.00 L264.90,345.66 L265.85,347.26 L266.80,348.79 L267.74,350.27 L268.69,351.68 L269.63,353.07 L270.57,354.44 L271.52,355.83 L272.46,357.45 L273.41,359.16 L274.36,361.00 L275.30,363.00 L276.25,365.15 L277.19,367.35 L278.13,369.51 L279.08,371.54 L280.02,373.35 L280.97,374.83 L281.92,375.91 L282.86,376.55 L283.81,376.84 L284.75,376.86 L285.69,376.70 L286.64,376.45 L287.58,376.22 L288.53,375.93 L289.48,375.51 L290.42,374.93 L291.37,374.10 L292.31,372.98 L293.25,371.51 L294.20,369.66 L295.14,367.47 L296.09,364.94 L297.03,362.12 L297.98,359.01 L298.93,355.65 L299.87,352.06 L300.81,348.25 L301.76,344.25 L302.70,340.07 L303.65,335.72 L304.60,331.23 L305.54,326.62 L306.49,321.90 L307.43,317.11 L308.38,312.28 L309.32,307.45 L310.26,302.22 L311.21,297.06 L312.15,292.03 L313.10,287.14 L314.05,282.39 L314.99,277.81 L315.94,273.41 L316.88,269.19 L317.82,265.18 L318.77,261.40 L319.71,257.86 L320.66,254.58 L321.61,251.60 L322.55,248.93 L323.50,246.59 L324.44,244.60 L325.38,242.98 L326.33,241.74 L327.27,240.90 L328.22,240.48 L329.16,240.49 L330.11,240.91 L331.06,241.73 L332.00,242.93 L332.94,244.49 L333.89,246.39 L334.83,248.61 L335.78,251.06 L336.73,253.67 L337.67,256.35 L338.62,259.02 L339.56,261.59 L340.50,264.01 L341.45,266.28 L342.39,268.41 L343.34,270.44 L344.28,272.38 L345.23,274.26 L346.18,276.10 L347.12,277.89 L348.06,279.63 L349.01,281.30 L349.95,282.89 L350.90,284.40 L351.85,285.81 L352.79,287.13 L353.74,288.37 L354.68,289.53 L355.62,290.63 L356.57,291.67 L357.51,292.65 L358.46,293.60 L359.40,294.50 L360.35,295.37 L361.29,296.23 L362.24,297.06 L363.19,297.86 L364.13,298.65 L365.07,299.42 L366.02,300.17 L366.97,300.90 L367.91,301.61 L368.86,302.30 L369.80,302.97 L370.75,303.63 L371.69,304.28 L372.63,304.92 L373.58,305.56 L374.52,306.21 L375.47,306.87 L376.41,307.54 L377.36,308.24 L378.31,308.97 L379.25,309.73 L380.19,310.53 L381.14,311.38 L382.08,312.27 L383.03,313.22 L383.98,314.22 L384.92,315.28 L385.87,316.40 L386.81,317.60 L387.75,318.86 L388.70,320.20 L389.64,321.62 L390.59,323.09 L391.53,324.60 L392.48,326.12 L393.42,327.63 L394.37,329.11 L395.31,330.53 L396.26,331.87 L397.20,333.11 L398.15,334.22 L399.10,335.20 L400.04,336.04 L400.99,336.77 L401.93,337.41 L402.88,337.96 L403.82,338.45 L404.76,338.90 L405.71,339.32 L406.65,339.72 L407.60,340.13 L408.54,340.56 L409.49,341.00 L410.44,341.45 L411.38,341.90 L412.32,342.34 L413.27,342.77 L414.22,343.18 L415.16,343.55 L416.11,343.89 L417.05,344.19 L418.00,344.43 L418.94,344.63 L419.88,344.79 L420.83,344.92 L421.77,345.01 L422.72,345.08 L423.66,345.13 L424.61,345.16 L425.55,345.18 L426.50,345.20" stroke="#0f0" stroke-dasharray="10.5 3.8"/>
<path d="M237.50,294.53 L238.44,295.91 L239.39,297.30 L240.34,298.70 L241.28,300.14 L242.22,301.61 L243.17,303.13 L244.12,304.71 L245.06,306.35 L246.00,308.07 L246.95,309.84 L247.90,311.68 L248.84,313.58 L249.78,315.52 L250.73,317.50 L251.68,319.51 L252.62,321.55 L253.56,323.62 L254.51,325.69 L255.45,327.75 L256.40,329.81 L257.35,331.83 L258.29,333.81 L259.24,335.74 L260.18,337.60 L261.12,339.39 L262.07,341.10 L263.01,342.75 L263.96,344.35 L264.90,345.89 L265.85,347.38 L266.80,348.84 L267.74,350.27 L268.69,351.67 L269.63,353.06 L270.57,354.46 L271.52,355.88 L272.46,357.52 L273.41,359.24 L274.36,361.04 L275.30,362.96 L276.25,364.97 L277.19,367.03 L278.13,369.08 L279.08,371.07 L280.02,372.93 L280.97,374.61 L281.92,376.05 L282.86,377.23 L283.81,378.12 L284.75,378.71 L285.69,379.00 L286.64,378.98 L287.58,378.72 L288.53,378.24 L289.48,377.54 L290.42,376.59 L291.37,375.40 L292.31,373.96 L293.25,372.26 L294.20,370.30 L295.14,368.08 L296.09,365.58 L297.03,362.82 L297.98,359.79 L298.93,356.49 L299.87,352.92 L300.81,349.11 L301.76,345.08 L302.70,340.87 L303.65,336.52 L304.60,332.05 L305.54,327.49 L306.49,322.87 L307.43,318.22 L308.38,313.54 L309.32,308.87 L310.26,303.79 L311.21,298.75 L312.15,293.79 L313.10,288.92 L314.05,284.17 L314.99,279.56 L315.94,275.13 L316.88,270.88 L317.82,266.86 L318.77,263.07 L319.71,259.54 L320.66,256.27 L321.61,253.29 L322.55,250.62 L323.50,248.26 L324.44,246.25 L325.38,244.61 L326.33,243.37 L327.27,242.55 L328.22,242.17 L329.16,242.26 L330.11,242.79 L331.06,243.75 L332.00,245.11 L332.94,246.84 L333.89,248.93 L334.83,251.32 L335.78,253.96 L336.73,256.73 L337.67,259.55 L338.62,262.33 L339.56,264.97 L340.50,267.41 L341.45,269.66 L342.39,271.77 L343.34,273.77 L344.28,275.72 L345.23,277.64 L346.18,279.57 L347.12,281.50 L348.06,283.39 L349.01,285.23 L349.95,286.98 L350.90,288.62 L351.85,290.12 L352.79,291.50 L353.74,292.77 L354.68,293.94 L355.62,295.02 L356.57,296.03 L357.51,296.98 L358.46,297.88 L359.40,298.75 L360.35,299.60 L361.29,300.44 L362.24,301.27 L363.19,302.08 L364.13,302.88 L365.07,303.67 L366.02,304.43 L366.97,305.16 L367.91,305.87 L368.86,306.55 L369.80,307.20 L370.75,307.81 L371.69,308.39 L372.63,308.96 L373.58,309.51 L374.52,310.07 L375.47,310.63 L376.41,311.20 L377.36,311.80 L378.31,312.43 L379.25,313.11 L380.19,313.83 L381.14,314.61 L382.08,315.43 L383.03,316.31 L383.98,317.24 L384.92,318.23 L385.87,319.27 L386.81,320.37 L387.75,321.52 L388.70,322.74 L389.64,324.01 L390.59,325.32 L391.53,326.65 L392.48,327.98 L393.42,329.31 L394.37,330.60 L395.31,331.84 L396.26,333.01 L397.20,334.09 L398.15,335.07 L399.10,335.92 L400.04,336.67 L400.99,337.33 L401.93,337.90 L402.88,338.41 L403.82,338.87 L404.76,339.29 L405.71,339.69 L406.65,340.08 L407.60,340.47 L408.54,340.88 L409.49,341.31 L410.44,341.74 L411.38,342.18 L412.32,342.60 L413.27,343.01 L414.22,343.40 L415.16,343.76 L416.11,344.08 L417.05,344.36 L418.00,344.58 L418.94,344.77 L419.88,344.91 L420.83,345.02 L421.77,345.10 L422.72,345.15 L423.66,345.18 L424.61,345.19 L425.55,345.20 L426.50,345.20" stroke="#ff0" stroke-dasharray="10.5 3.8"/>
<path d="M237.50,318.51 L238.44,316.70 L239.39,314.96 L240.34,313.35 L241.28,311.94 L242.22,310.81 L243.17,310.02 L244.12,309.64 L245.06,309.73 L246.00,310.35 L246.95,311.43 L247.90,312.89 L248.84,314.67 L249.78,316.67 L250.73,318.82 L251.68,321.04 L252.62,323.24 L253.56,325.38 L254.51,327.43 L255.45,329.40 L256.40,331.31 L257.35,333.16 L258.29,334.96 L259.24,336.72 L260.18,338.44 L261.12,340.14 L262.07,341.80 L263.01,343.44 L263.96,345.04 L264.90,346.61 L265.85,348.15 L266.80,349.65 L267.74,351.11 L268.69,352.54 L269.63,353.94 L270.57,355.35 L271.52,356.76 L272.46,358.40 L273.41,360.10 L274.36,361.89 L275.30,363.80 L276.25,365.81 L277.19,367.87 L278.13,369.92 L279.08,371.90 L280.02,373.77 L280.97,375.45 L281.92,376.90 L282.86,378.08 L283.81,378.96 L284.75,379.56 L285.69,379.85 L286.64,379.82 L287.58,379.57 L288.53,379.09 L289.48,378.38 L290.42,377.43 L291.37,376.25 L292.31,374.81 L293.25,373.11 L294.20,371.15 L295.14,368.92 L296.09,366.43 L297.03,363.67 L297.98,360.64 L298.93,357.34 L299.87,353.77 L300.81,349.95 L301.76,345.93 L302.70,341.72 L303.65,337.36 L304.60,332.89 L305.54,328.33 L306.49,323.72 L307.43,319.06 L308.38,314.39 L309.32,309.71 L310.26,304.63 L311.21,299.60 L312.15,294.63 L313.10,289.76 L314.05,285.01 L314.99,280.40 L315.94,275.97 L316.88,271.73 L317.82,267.71 L318.77,263.93 L319.71,260.40 L320.66,257.14 L321.61,254.15 L322.55,251.46 L323.50,249.08 L324.44,247.05 L325.38,245.39 L326.33,244.14 L327.27,243.34 L328.22,243.02 L329.16,243.19 L330.11,243.85 L331.06,244.96 L332.00,246.48 L332.94,248.37 L333.89,250.62 L334.83,253.16 L335.78,255.93 L336.73,258.84 L337.67,261.80 L338.62,264.71 L339.56,267.51 L340.50,270.10 L341.45,272.52 L342.39,274.79 L343.34,276.94 L344.28,279.00 L345.23,281.02 L346.18,283.00 L347.12,284.95 L348.06,286.84 L349.01,288.66 L349.95,290.38 L350.90,292.00 L351.85,293.48 L352.79,294.85 L353.74,296.11 L354.68,297.28 L355.62,298.36 L356.57,299.38 L357.51,300.33 L358.46,301.24 L359.40,302.12 L360.35,302.97 L361.29,303.82 L362.24,304.65 L363.19,305.46 L364.13,306.26 L365.07,307.04 L366.02,307.80 L366.97,308.53 L367.91,309.24 L368.86,309.92 L369.80,310.58 L370.75,311.20 L371.69,311.79 L372.63,312.37 L373.58,312.94 L374.52,313.50 L375.47,314.06 L376.41,314.64 L377.36,315.23 L378.31,315.84 L379.25,316.49 L380.19,317.17 L381.14,317.89 L382.08,318.65 L383.03,319.45 L383.98,320.30 L384.92,321.19 L385.87,322.13 L386.81,323.13 L387.75,324.17 L388.70,325.27 L389.64,326.42 L390.59,327.61 L391.53,328.82 L392.48,330.04 L393.42,331.24 L394.37,332.40 L395.31,333.52 L396.26,334.58 L397.20,335.55 L398.15,336.42 L399.10,337.17 L400.04,337.82 L400.99,338.39 L401.93,338.87 L402.88,339.30 L403.82,339.67 L404.76,340.01 L405.71,340.34 L406.65,340.65 L407.60,340.98 L408.54,341.32 L409.49,341.68 L410.44,342.05 L411.38,342.43 L412.32,342.80 L413.27,343.16 L414.22,343.50 L415.16,343.82 L416.11,344.10 L417.05,344.36 L418.00,344.56 L418.94,344.73 L419.88,344.87 L420.83,344.97 L421.77,345.05 L422.72,345.11 L423.66,345.15 L424.61,345.17 L425.55,345.19 L426.50,345.20" stroke="#00f" stroke-dasharray="10.5 3.8"/>
<path d="M237.50,302.97 L238.44,303.88 L239.39,304.79 L240.34,305.74 L241.28,306.72 L242.22,307.77 L243.17,308.89 L244.12,310.10 L245.06,311.42 L246.00,312.85 L246.95,314.39 L247.90,316.01 L248.84,317.71 L249.78,319.46 L250.73,321.26 L251.68,323.09 L252.62,324.93 L253.56,326.77 L254.51,328.60 L255.45,330.43 L256.40,332.24 L257.35,334.03 L258.29,335.81 L259.24,337.56 L260.18,339.29 L261.12,340.99 L262.07,342.65 L263.01,344.29 L263.96,345.89 L264.90,347.46 L265.85,349.00 L266.80,350.49 L267.74,351.96 L268.69,353.38 L269.63,354.79 L270.57,356.19 L271.52,357.61 L272.46,359.24 L273.41,360.94 L274.36,362.73 L275.30,364.64 L276.25,366.65 L277.19,368.71 L278.13,370.76 L279.08,372.75 L280.02,374.61 L280.97,376.30 L281.92,377.74 L282.86,378.92 L283.81,379.81 L284.75,380.40 L285.69,380.69 L286.64,380.67 L287.58,380.41 L288.53,379.94 L289.48,379.23 L290.42,378.29 L291.37,377.10 L292.31,375.66 L293.25,373.95 L294.20,371.97 L295.14,369.73 L296.09,367.23 L297.03,364.47 L297.98,361.45 L298.93,358.18 L299.87,354.66 L300.81,350.91 L301.76,346.99 L302.70,342.91 L303.65,338.71 L304.60,334.44 L305.54,330.11 L306.49,325.77 L307.43,321.40 L308.38,317.01 L309.32,312.61 L310.26,307.80 L311.21,302.97 L312.15,298.15 L313.10,293.38 L314.05,288.72 L314.99,284.22 L315.94,279.94 L316.88,275.95 L317.82,272.28 L318.77,268.90 L319.71,265.76 L320.66,262.83 L321.61,260.05 L322.55,257.37 L323.50,254.78 L324.44,252.35 L325.38,250.18 L326.33,248.37 L327.27,247.02 L328.22,246.22 L329.16,246.06 L330.11,246.48 L331.06,247.40 L332.00,248.73 L332.94,250.39 L333.89,252.30 L334.83,254.40 L335.78,256.61 L336.73,258.91 L337.67,261.24 L338.62,263.56 L339.56,265.82 L340.50,267.99 L341.45,270.06 L342.39,272.06 L343.34,273.98 L344.28,275.84 L345.23,277.64 L346.18,279.40 L347.12,281.12 L348.06,282.82 L349.01,284.48 L349.95,286.14 L350.90,287.77 L351.85,289.41 L352.79,291.03 L353.74,292.63 L354.68,294.22 L355.62,295.77 L356.57,297.30 L357.51,298.79 L358.46,300.23 L359.40,301.63 L360.35,302.97 L361.29,304.26 L362.24,305.50 L363.19,306.68 L364.13,307.82 L365.07,308.91 L366.02,309.98 L366.97,311.01 L367.91,312.01 L368.86,312.99 L369.80,313.95 L370.75,314.90 L371.69,315.83 L372.63,316.75 L373.58,317.64 L374.52,318.51 L375.47,319.35 L376.41,320.16 L377.36,320.95 L378.31,321.69 L379.25,322.40 L380.19,323.07 L381.14,323.70 L382.08,324.31 L383.03,324.90 L383.98,325.47 L384.92,326.03 L385.87,326.59 L386.81,327.15 L387.75,327.72 L388.70,328.31 L389.64,328.92 L390.59,329.55 L391.53,330.20 L392.48,330.86 L393.42,331.54 L394.37,332.23 L395.31,332.93 L396.26,333.64 L397.20,334.35 L398.15,335.07 L399.10,335.78 L400.04,336.50 L400.99,337.21 L401.93,337.90 L402.88,338.57 L403.82,339.22 L404.76,339.84 L405.71,340.43 L406.65,340.98 L407.60,341.48 L408.54,341.94 L409.49,342.35 L410.44,342.72 L411.38,343.05 L412.32,343.34 L413.27,343.60 L414.22,343.83 L415.16,344.03 L416.11,344.20 L417.05,344.36 L418.00,344.49 L418.94,344.61 L419.88,344.72 L420.83,344.81 L421.77,344.89 L422.72,344.96 L423.66,345.03 L424.61,345.09 L425.55,345.15 L426.50,345.20" stroke="#f0f" stroke-dasharray="10.5 3.8"/>
<path d="M237.50,314.80 L238.44,315.01 L239.39,315.24 L240.34,315.51 L241.28,315.85 L242.22,316.26 L243.17,316.77 L244.12,317.40 L245.06,318.18 L246.00,319.10 L246.95,320.16 L247.90,321.34 L248.84,322.62 L249.78,323.97 L250.73,325.39 L251.68,326.84 L252.62,328.31 L253.56,329.78 L254.51,331.25 L255.45,332.72 L256.40,334.20 L257.35,335.67 L258.29,337.15 L259.24,338.64 L260.18,340.13 L261.12,341.63 L262.07,343.14 L263.01,344.64 L263.96,346.14 L264.90,347.62 L265.85,349.09 L266.80,350.54 L267.74,351.96 L268.69,353.35 L269.63,354.73 L270.57,356.11 L271.52,357.52 L272.46,359.16 L273.41,360.88 L274.36,362.71 L275.30,364.67 L276.25,366.74 L277.19,368.86 L278.13,370.96 L279.08,372.96 L280.02,374.80 L280.97,376.39 L281.92,377.68 L282.86,378.63 L283.81,379.28 L284.75,379.67 L285.69,379.84 L286.64,379.82 L287.58,379.70 L288.53,379.45 L289.48,379.03 L290.42,378.40 L291.37,377.52 L292.31,376.37 L293.25,374.89 L294.20,373.08 L295.14,370.96 L296.09,368.56 L297.03,365.89 L297.98,362.98 L298.93,359.85 L299.87,356.53 L300.81,353.02 L301.76,349.37 L302.70,345.57 L303.65,341.66 L304.60,337.66 L305.54,333.57 L306.49,329.44 L307.43,325.27 L308.38,321.09 L309.32,316.93 L310.26,312.45 L311.21,308.04 L312.15,303.75 L313.10,299.58 L314.05,295.55 L314.99,291.66 L315.94,287.94 L316.88,284.40 L317.82,281.04 L318.77,277.88 L319.71,274.93 L320.66,272.21 L321.61,269.73 L322.55,267.51 L323.50,265.55 L324.44,263.86 L325.38,262.45 L326.33,261.32 L327.27,260.47 L328.22,259.91 L329.16,259.63 L330.11,259.64 L331.06,259.93 L332.00,260.50 L332.94,261.34 L333.89,262.44 L334.83,263.80 L335.78,265.36 L336.73,267.07 L337.67,268.88 L338.62,270.73 L339.56,272.57 L340.50,274.35 L341.45,276.08 L342.39,277.77 L343.34,279.42 L344.28,281.07 L345.23,282.71 L346.18,284.36 L347.12,286.02 L348.06,287.70 L349.01,289.40 L349.95,291.11 L350.90,292.84 L351.85,294.59 L352.79,296.35 L353.74,298.11 L354.68,299.86 L355.62,301.60 L356.57,303.31 L357.51,304.99 L358.46,306.62 L359.40,308.21 L360.35,309.73 L361.29,311.19 L362.24,312.58 L363.19,313.90 L364.13,315.16 L365.07,316.37 L366.02,317.51 L366.97,318.60 L367.91,319.63 L368.86,320.62 L369.80,321.55 L370.75,322.44 L371.69,323.28 L372.63,324.08 L373.58,324.83 L374.52,325.53 L375.47,326.18 L376.41,326.78 L377.36,327.34 L378.31,327.85 L379.25,328.31 L380.19,328.72 L381.14,329.10 L382.08,329.44 L383.03,329.76 L383.98,330.06 L384.92,330.37 L385.87,330.67 L386.81,330.99 L387.75,331.32 L388.70,331.69 L389.64,332.09 L390.59,332.53 L391.53,332.99 L392.48,333.48 L393.42,334.00 L394.37,334.53 L395.31,335.08 L396.26,335.63 L397.20,336.19 L398.15,336.75 L399.10,337.32 L400.04,337.87 L400.99,338.42 L401.93,338.96 L402.88,339.48 L403.82,339.99 L404.76,340.49 L405.71,340.96 L406.65,341.40 L407.60,341.82 L408.54,342.21 L409.49,342.58 L410.44,342.91 L411.38,343.22 L412.32,343.50 L413.27,343.75 L414.22,343.98 L415.16,344.19 L416.11,344.37 L417.05,344.52 L418.00,344.66 L418.94,344.77 L419.88,344.86 L420.83,344.94 L421.77,345.01 L422.72,345.06 L423.66,345.10 L424.61,345.14 L425.55,345.17 L426.50,345.20" stroke="#0ff" stroke-dasharray="10.5 3.8"/>
<path d="M237.50,318.18 L238.44,318.98 L239.39,319.79 L240.34,320.61 L241.28,321.44 L242.22,322.28 L243.17,323.14 L244.12,324.02 L245.06,324.93 L246.00,325.88 L246.95,326.85 L247.90,327.86 L248.84,328.90 L249.78,329.97 L250.73,331.08 L251.68,332.21 L252.62,333.38 L253.56,334.57 L254.51,335.79 L255.45,337.04 L256.40,338.30 L257.35,339.59 L258.29,340.88 L259.24,342.19 L260.18,343.51 L261.12,344.83 L262.07,346.15 L263.01,347.47 L263.96,348.76 L264.90,350.03 L265.85,351.28 L266.80,352.48 L267.74,353.64 L268.69,354.76 L269.63,355.86 L270.57,356.97 L271.52,358.12 L272.46,359.51 L273.41,361.03 L274.36,362.74 L275.30,364.67 L276.25,366.78 L277.19,368.94 L278.13,371.02 L279.08,372.86 L280.02,374.34 L280.97,375.31 L281.92,375.63 L282.86,375.32 L283.81,374.64 L284.75,373.85 L285.69,373.24 L286.64,373.07 L287.58,373.39 L288.53,373.97 L289.48,374.59 L290.42,375.04 L291.37,375.10 L292.31,374.55 L293.25,373.18 L294.20,370.99 L295.14,368.22 L296.09,365.13 L297.03,361.96 L297.98,358.96 L298.93,356.38 L299.87,354.42 L300.81,352.94 L301.76,351.68 L302.70,350.42 L303.65,348.89 L304.60,346.86 L305.54,344.09 L306.49,340.51 L307.43,336.31 L308.38,331.68 L309.32,326.84 L310.26,321.54 L311.21,316.49 L312.15,311.89 L313.10,307.75 L314.05,303.99 L314.99,300.58 L315.94,297.44 L316.88,294.53 L317.82,291.79 L318.77,289.23 L319.71,286.86 L320.66,284.69 L321.61,282.74 L322.55,281.02 L323.50,279.53 L324.44,278.27 L325.38,277.22 L326.33,276.35 L327.27,275.65 L328.22,275.11 L329.16,274.70 L330.11,274.44 L331.06,274.33 L332.00,274.40 L332.94,274.65 L333.89,275.11 L334.83,275.77 L335.78,276.63 L336.73,277.68 L337.67,278.91 L338.62,280.31 L339.56,281.86 L340.50,283.56 L341.45,285.36 L342.39,287.23 L343.34,289.13 L344.28,291.01 L345.23,292.84 L346.18,294.58 L347.12,296.25 L348.06,297.84 L349.01,299.37 L349.95,300.85 L350.90,302.30 L351.85,303.72 L352.79,305.12 L353.74,306.49 L354.68,307.85 L355.62,309.18 L356.57,310.50 L357.51,311.81 L358.46,313.10 L359.40,314.37 L360.35,315.64 L361.29,316.90 L362.24,318.14 L363.19,319.36 L364.13,320.55 L365.07,321.69 L366.02,322.80 L366.97,323.85 L367.91,324.84 L368.86,325.77 L369.80,326.62 L370.75,327.39 L371.69,328.09 L372.63,328.73 L373.58,329.31 L374.52,329.84 L375.47,330.32 L376.41,330.78 L377.36,331.21 L378.31,331.62 L379.25,332.03 L380.19,332.43 L381.14,332.83 L382.08,333.23 L383.03,333.63 L383.98,334.02 L384.92,334.41 L385.87,334.79 L386.81,335.17 L387.75,335.54 L388.70,335.91 L389.64,336.27 L390.59,336.62 L391.53,336.97 L392.48,337.31 L393.42,337.65 L394.37,337.98 L395.31,338.31 L396.26,338.64 L397.20,338.96 L398.15,339.29 L399.10,339.61 L400.04,339.93 L400.99,340.25 L401.93,340.57 L402.88,340.88 L403.82,341.19 L404.76,341.49 L405.71,341.78 L406.65,342.06 L407.60,342.33 L408.54,342.59 L409.49,342.84 L410.44,343.07 L411.38,343.30 L412.32,343.51 L413.27,343.70 L414.22,343.89 L415.16,344.06 L416.11,344.21 L417.05,344.36 L418.00,344.48 L418.94,344.60 L419.88,344.70 L420.83,344.79 L421.77,344.87 L422.72,344.95 L423.66,345.01 L424.61,345.08 L425.55,345.14 L426.50,345.20" stroke="#555" stroke-dasharray="1 2"/>
</g>
<g stroke="#333" stroke-width="1" fill="none">
<rect x="48.5" y="39.6" width="378.00" height="357.80"/>
<line x1="237.5" y1="39.6" x2="237.5" y2="397.4"/>
<line x1="48.5" y1="218.5" x2="426.5" y2="218.5"/>
<path d="M52.28,39.6 v2 M59.84,39.6 v2 M67.40,39.6 v3 M74.96,39.6 v2 M82.52,39.6 v2 M90.08,39.6 v2 M97.64,39.6 v2 M105.20,39.6 v3 M112.76,39.6 v2 M120.32,39.6 v2 M127.88,39.6 v2 M135.44,39.6 v2 M143.00,39.6 v3 M150.56,39.6 v2 M158.12,39.6 v2 M165.68,39.6 v2 M173.24,39.6 v2 M180.80,39.6 v3 M188.36,39.6 v2 M195.92,39.6 v2 M203.48,39.6 v2 M211.04,39.6 v2 M218.60,39.6 v3 M226.16,39.6 v2 M233.72,39.6 v2 M241.28,39.6 v2 M248.84,39.6 v2 M256.40,39.6 v3 M263.96,39.6 v2 M271.52,39.6 v2 M279.08,39.6 v2 M286.64,39.6 v2 M294.20,39.6 v3 M301.76,39.6 v2 M309.32,39.6 v2 M316.88,39.6 v2 M324.44,39.6 v2 M332.00,39.6 v3 M339.56,39.6 v2 M347.12,39.6 v2 M354.68,39.6 v2 M362.24,39.6 v2 M369.80,39.6 v3 M377.36,39.6 v2 M384.92,39.6 v2 M392.48,39.6 v2 M400.04,39.6 v2 M407.60,39.6 v3 M415.16,39.6 v2 M422.72,39.6 v2 M52.28,397.4 v-2 M59.84,397.4 v-2 M67.40,397.4 v-3 M74.96,397.4 v-2 M82.52,397.4 v-2 M90.08,397.4 v-2 M97.64,397.4 v-2 M105.20,397.4 v-3 M112.76,397.4 v-2 M120.32,397.4 v-2 M127.88,397.4 v-2 M135.44,397.4 v-2 M143.00,397.4 v-3 M150.56,397.4 v-2 M158.12,397.4 v-2 M165.68,397.4 v-2 M173.24,397.4 v-2 M180.80,397.4 v-3 M188.36,397.4 v-2 M195.92,397.4 v-2 M203.48,397.4 v-2 M211.04,397.4 v-2 M218.60,397.4 v-3 M226.16,397.4 v-2 M233.72,397.4 v-2 M241.28,397.4 v-2 M248.84,397.4 v-2 M256.40,397.4 v-3 M263.96,397.4 v-2 M271.52,397.4 v-2 M279.08,397.4 v-2 M286.64,397.4 v-2 M294.20,397.4 v-3 M301.76,397.4 v-2 M309.32,397.4 v-2 M316.88,397.4 v-2 M324.44,397.4 v-2 M332.00,397.4 v-3 M339.56,397.4 v-2 M347.12,397.4 v-2 M354.68,397.4 v-2 M362.24,397.4 v-2 M369.80,397.4 v-3 M377.36,397.4 v-2 M384.92,397.4 v-2 M392.48,397.4 v-2 M400.04,397.4 v-2 M407.60,397.4 v-3 M415.16,397.4 v-2 M422.72,397.4 v-2 M48.5,213.59 h2 M48.5,206.84 h2 M48.5,200.08 h3 M48.5,193.32 h2 M48.5,186.57 h2 M48.5,179.81 h2 M48.5,173.06 h2 M48.5,166.30 h3 M48.5,159.54 h2 M48.5,152.79 h2 M48.5,146.03 h2 M48.5,139.28 h2 M48.5,132.52 h3 M48.5,125.76 h2 M48.5,119.01 h2 M48.5,112.25 h2 M48.5,105.50 h2 M48.5,98.74 h3 M48.5,91.98 h2 M48.5,85.23 h2 M48.5,78.47 h2 M48.5,71.72 h2 M48.5,64.96 h3 M48.5,58.20 h2 M48.5,51.45 h2 M48.5,44.69 h2 M48.5,392.49 h2 M48.5,385.74 h2 M48.5,378.98 h3 M48.5,372.22 h2 M48.5,365.47 h2 M48.5,358.71 h2 M48.5,351.96 h2 M48.5,345.20 h3 M48.5,338.44 h2 M48.5,331.69 h2 M48.5,324.93 h2 M48.5,318.18 h2 M48.5,311.42 h3 M48.5,304.66 h2 M48.5,297.91 h2 M48.5,291.15 h2 M48.5,284.40 h2 M48.5,277.64 h3 M48.5,270.88 h2 M48.5,264.13 h2 M48.5,257.37 h2 M48.5,250.62 h2 M48.5,243.86 h3 M48.5,237.10 h2 M48.5,230.35 h2 M48.5,223.59 h2 M426.5,213.59 h-2 M426.5,206.84 h-2 M426.5,200.08 h-3 M426.5,193.32 h-2 M426.5,186.57 h-2 M426.5,179.81 h-2 M426.5,173.06 h-2 M426.5,166.30 h-3 M426.5,159.54 h-2 M426.5,152.79 h-2 M426.5,146.03 h-2 M426.5,139.28 h-2 M426.5,132.52 h-3 M426.5,125.76 h-2 M426.5,119.01 h-2 M426.5,112.25 h-2 M426.5,105.50 h-2 M426.5,98.74 h-3 M426.5,91.98 h-2 M426.5,85.23 h-2 M426.5,78.47 h-2 M426.5,71.72 h-2 M426.5,64.96 h-3 M426.5,58.20 h-2 M426.5,51.45 h-2 M426.5,44.69 h-2 M426.5,392.49 h-2 M426.5,385.74 h-2 M426.5,378.98 h-3 M426.5,372.22 h-2 M426.5,365.47 h-2 M426.5,358.71 h-2 M426.5,351.96 h-2 M426.5,345.20 h-3 M426.5,338.44 h-2 M426.5,331.69 h-2 M426.5,324.93 h-2 M426.5,318.18 h-2 M426.5,311.42 h-3 M426.5,304.66 h-2 M426.5,297.91 h-2 M426.5,291.15 h-2 M426.5,284.40 h-2 M426.5,277.64 h-3 M426.5,270.88 h-2 M426.5,264.13 h-2 M426.5,257.37 h-2 M426.5,250.62 h-2 M426.5,243.86 h-3 M426.5,237.10 h-2 M426.5,230.35 h-2 M426.5,223.59 h-2"/>
</g>
<line x1="488" y1="130.50" x2="517" y2="130.50" stroke="#000" stroke-width="1"/>
<line x1="488" y1="142.73" x2="517" y2="142.73" stroke="#f00" stroke-width="1"/>
<line x1="488" y1="154.96" x2="517" y2="154.96" stroke="#0f0" stroke-width="1"/>
<line x1="488" y1="167.19" x2="517" y2="167.19" stroke="#ff0" stroke-width="1"/>
<line x1="488" y1="179.42" x2="517" y2="179.42" stroke="#00f" stroke-width="1"/>
<line x1="488" y1="191.65" x2="517" y2="191.65" stroke="#f0f" stroke-width="1"/>
<line x1="488" y1="203.88" x2="517" y2="203.88" stroke="#0ff" stroke-width="1"/>
<path d="M488,216.11 h11 M502,216.11 h11" stroke="#000" stroke-width="1"/>
<path d="M488,228.34 h11 M502,228.34 h11" stroke="#f00" stroke-width="1"/>
<path d="M488,240.57 h11 M502,240.57 h11" stroke="#0f0" stroke-width="1"/>
<path d="M488,252.80 h11 M502,252.80 h11" stroke="#ff0" stroke-width="1"/>
<path d="M488,265.03 h11 M502,265.03 h11" stroke="#00f" stroke-width="1"/>
<path d="M488,277.26 h11 M502,277.26 h11" stroke="#f0f" stroke-width="1"/>
<path d="M488,289.49 h11 M502,289.49 h11" stroke="#0ff" stroke-width="1"/>
<line x1="488" y1="301.72" x2="517" y2="301.72" stroke="#555" stroke-width="1" stroke-dasharray="1 2"/>
</g><g filter="url(#bt)">
<text x="67.40" y="35" text-anchor="middle" font-size="10.3">230</text>
<text x="105.20" y="35" text-anchor="middle" font-size="10.3">250</text>
<text x="143.00" y="35" text-anchor="middle" font-size="10.3">270</text>
<text x="180.80" y="35" text-anchor="middle" font-size="10.3">290</text>
<text x="218.60" y="35" text-anchor="middle" font-size="10.3">310</text>
<text x="256.40" y="35" text-anchor="middle" font-size="10.3">230</text>
<text x="294.20" y="35" text-anchor="middle" font-size="10.3">250</text>
<text x="332.00" y="35" text-anchor="middle" font-size="10.3">270</text>
<text x="369.80" y="35" text-anchor="middle" font-size="10.3">290</text>
<text x="407.60" y="35" text-anchor="middle" font-size="10.3">310</text>
<text x="67.40" y="412" text-anchor="middle" font-size="10.3">230</text>
<text x="105.20" y="412" text-anchor="middle" font-size="10.3">250</text>
<text x="143.00" y="412" text-anchor="middle" font-size="10.3">270</text>
<text x="180.80" y="412" text-anchor="middle" font-size="10.3">290</text>
<text x="218.60" y="412" text-anchor="middle" font-size="10.3">310</text>
<text x="256.40" y="412" text-anchor="middle" font-size="10.3">230</text>
<text x="294.20" y="412" text-anchor="middle" font-size="10.3">250</text>
<text x="332.00" y="412" text-anchor="middle" font-size="10.3">270</text>
<text x="369.80" y="412" text-anchor="middle" font-size="10.3">290</text>
<text x="407.60" y="412" text-anchor="middle" font-size="10.3">310</text>
<text x="43.5" y="203.18" text-anchor="end" font-size="10.3">-2</text>
<text x="43.5" y="169.40" text-anchor="end" font-size="10.3">0</text>
<text x="43.5" y="135.62" text-anchor="end" font-size="10.3">2</text>
<text x="43.5" y="101.84" text-anchor="end" font-size="10.3">4</text>
<text x="43.5" y="68.06" text-anchor="end" font-size="10.3">6</text>
<text x="43.5" y="382.08" text-anchor="end" font-size="10.3">-2</text>
<text x="43.5" y="348.30" text-anchor="end" font-size="10.3">0</text>
<text x="43.5" y="314.52" text-anchor="end" font-size="10.3">2</text>
<text x="43.5" y="280.74" text-anchor="end" font-size="10.3">4</text>
<text x="43.5" y="246.96" text-anchor="end" font-size="10.3">6</text>
<text x="441.2" y="203.18" text-anchor="end" font-size="10.3">-2</text>
<text x="441.2" y="169.40" text-anchor="end" font-size="10.3">0</text>
<text x="441.2" y="135.62" text-anchor="end" font-size="10.3">2</text>
<text x="441.2" y="101.84" text-anchor="end" font-size="10.3">4</text>
<text x="441.2" y="68.06" text-anchor="end" font-size="10.3">6</text>
<text x="441.2" y="382.08" text-anchor="end" font-size="10.3">-2</text>
<text x="441.2" y="348.30" text-anchor="end" font-size="10.3">0</text>
<text x="441.2" y="314.52" text-anchor="end" font-size="10.3">2</text>
<text x="441.2" y="280.74" text-anchor="end" font-size="10.3">4</text>
<text x="441.2" y="246.96" text-anchor="end" font-size="10.3">6</text>
<text class="t3" x="240.4" y="12.7" text-anchor="middle" font-size="12.9">Wavelength (nm)</text>
<text class="t3" x="242.2" y="434.5" text-anchor="middle" font-size="12.9">Wavelength (nm)</text>
<text class="yl" transform="translate(20,214.5) rotate(-90)" text-anchor="middle" font-size="12.1">Molar Ellipticity (10<tspan font-size="7" dy="-4">6</tspan><tspan dy="4"> mdeg M</tspan><tspan font-size="7" dy="-4">-1</tspan><tspan dy="4"> cm</tspan><tspan font-size="7" dy="-4">-1</tspan><tspan dy="4">)</tspan></text>
<text class="yl" transform="translate(467.5,210) rotate(-90)" text-anchor="middle" font-size="12.1">Molar Ellipticity ( 10<tspan font-size="7" dy="-4">6</tspan><tspan dy="4"> mdeg M</tspan><tspan font-size="7" dy="-4">-1</tspan><tspan dy="4"> cm</tspan><tspan font-size="7" dy="-4">-1</tspan><tspan dy="4"> )</tspan></text>
<text x="56.3" y="59.3" font-size="12.9" font-weight="bold">0% PEG</text>
<text x="245.6" y="59.1" font-size="12.9" font-weight="bold">5% PEG</text>
<text x="54.3" y="237.7" font-size="12.9" font-weight="bold">10 % PEG</text>
<text x="243.3" y="240" font-size="12.9" font-weight="bold">20 % PEG</text>
<text class="lg" x="524.3" y="133.90" font-size="9.8">25 <tspan font-size="7" dy="-3.2">o</tspan><tspan dy="3.2" dx="0.2">C</tspan></text>
<text class="lg" x="524.3" y="146.13" font-size="9.8">30 <tspan font-size="7" dy="-3.2">o</tspan><tspan dy="3.2" dx="0.2">C</tspan></text>
<text class="lg" x="524.3" y="158.36" font-size="9.8">35 <tspan font-size="7" dy="-3.2">o</tspan><tspan dy="3.2" dx="0.2">C</tspan></text>
<text class="lg" x="524.3" y="170.59" font-size="9.8">40 <tspan font-size="7" dy="-3.2">o</tspan><tspan dy="3.2" dx="0.2">C</tspan></text>
<text class="lg" x="524.3" y="182.82" font-size="9.8">45 <tspan font-size="7" dy="-3.2">o</tspan><tspan dy="3.2" dx="0.2">C</tspan></text>
<text class="lg" x="524.3" y="195.05" font-size="9.8">50 <tspan font-size="7" dy="-3.2">o</tspan><tspan dy="3.2" dx="0.2">C</tspan></text>
<text class="lg" x="524.3" y="207.28" font-size="9.8">55 <tspan font-size="7" dy="-3.2">o</tspan><tspan dy="3.2" dx="0.2">C</tspan></text>
<text class="lg" x="524.3" y="219.51" font-size="9.8">60 <tspan font-size="7" dy="-3.2">o</tspan><tspan dy="3.2" dx="0.2">C</tspan></text>
<text class="lg" x="524.3" y="231.74" font-size="9.8">65 <tspan font-size="7" dy="-3.2">o</tspan><tspan dy="3.2" dx="0.2">C</tspan></text>
<text class="lg" x="524.3" y="243.97" font-size="9.8">70 <tspan font-size="7" dy="-3.2">o</tspan><tspan dy="3.2" dx="0.2">C</tspan></text>
<text class="lg" x="524.3" y="256.20" font-size="9.8">75 <tspan font-size="7" dy="-3.2">o</tspan><tspan dy="3.2" dx="0.2">C</tspan></text>
<text class="lg" x="524.3" y="268.43" font-size="9.8">80 <tspan font-size="7" dy="-3.2">o</tspan><tspan dy="3.2" dx="0.2">C</tspan></text>
<text class="lg" x="524.3" y="280.66" font-size="9.8">85 <tspan font-size="7" dy="-3.2">o</tspan><tspan dy="3.2" dx="0.2">C</tspan></text>
<text class="lg" x="524.3" y="292.89" font-size="9.8">90 <tspan font-size="7" dy="-3.2">o</tspan><tspan dy="3.2" dx="0.2">C</tspan></text>
<text class="lg" x="524.3" y="305.12" font-size="9.8">95 <tspan font-size="7" dy="-3.2">o</tspan><tspan dy="3.2" dx="0.2">C</tspan></text>
</g></svg></body></html>
